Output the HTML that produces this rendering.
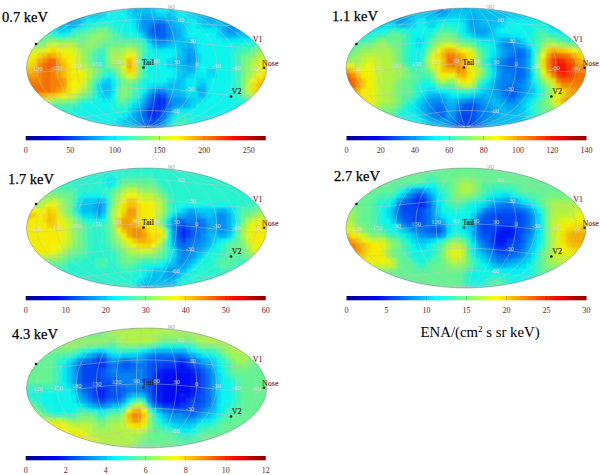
<!DOCTYPE html><html><head><meta charset="utf-8"><style>html,body{margin:0;padding:0;background:#fff;width:600px;height:475px;overflow:hidden}svg{position:absolute;left:0;top:0;display:block}text{font-family:"Liberation Serif",serif}</style></head><body>
<svg width="600" height="475" viewBox="0 0 600 475">
<defs>
<clipPath id="c0"><ellipse cx="146.5" cy="68" rx="120.0" ry="60.0"/></clipPath>
<clipPath id="c1"><ellipse cx="466" cy="68" rx="120.0" ry="60.0"/></clipPath>
<clipPath id="c2"><ellipse cx="146.5" cy="228" rx="120.0" ry="60.0"/></clipPath>
<clipPath id="c3"><ellipse cx="466" cy="228" rx="120.0" ry="60.0"/></clipPath>
<clipPath id="c4"><ellipse cx="146.5" cy="388" rx="120.0" ry="60.0"/></clipPath>
<filter id="bl" x="-5%" y="-5%" width="110%" height="110%"><feGaussianBlur stdDeviation="0.8"/></filter>
<linearGradient id="jet" x1="0" x2="1" y1="0" y2="0">
<stop offset="0.0000" stop-color="#000080"/>
<stop offset="0.0156" stop-color="#00008f"/>
<stop offset="0.0312" stop-color="#00009f"/>
<stop offset="0.0469" stop-color="#0000af"/>
<stop offset="0.0625" stop-color="#0000bf"/>
<stop offset="0.0781" stop-color="#0000cf"/>
<stop offset="0.0938" stop-color="#0000df"/>
<stop offset="0.1094" stop-color="#0000ef"/>
<stop offset="0.1250" stop-color="#0000ff"/>
<stop offset="0.1406" stop-color="#0010ff"/>
<stop offset="0.1562" stop-color="#0020ff"/>
<stop offset="0.1719" stop-color="#0030ff"/>
<stop offset="0.1875" stop-color="#0040ff"/>
<stop offset="0.2031" stop-color="#0050ff"/>
<stop offset="0.2188" stop-color="#0060ff"/>
<stop offset="0.2344" stop-color="#0070ff"/>
<stop offset="0.2500" stop-color="#0080ff"/>
<stop offset="0.2656" stop-color="#008fff"/>
<stop offset="0.2812" stop-color="#009fff"/>
<stop offset="0.2969" stop-color="#00afff"/>
<stop offset="0.3125" stop-color="#00bfff"/>
<stop offset="0.3281" stop-color="#00cfff"/>
<stop offset="0.3438" stop-color="#00dfff"/>
<stop offset="0.3594" stop-color="#00efff"/>
<stop offset="0.3750" stop-color="#00ffff"/>
<stop offset="0.3906" stop-color="#10ffef"/>
<stop offset="0.4062" stop-color="#20ffdf"/>
<stop offset="0.4219" stop-color="#30ffcf"/>
<stop offset="0.4375" stop-color="#40ffbf"/>
<stop offset="0.4531" stop-color="#50ffaf"/>
<stop offset="0.4688" stop-color="#60ff9f"/>
<stop offset="0.4844" stop-color="#70ff8f"/>
<stop offset="0.5000" stop-color="#80ff80"/>
<stop offset="0.5156" stop-color="#8fff70"/>
<stop offset="0.5312" stop-color="#9fff60"/>
<stop offset="0.5469" stop-color="#afff50"/>
<stop offset="0.5625" stop-color="#bfff40"/>
<stop offset="0.5781" stop-color="#cfff30"/>
<stop offset="0.5938" stop-color="#dfff20"/>
<stop offset="0.6094" stop-color="#efff10"/>
<stop offset="0.6250" stop-color="#ffff00"/>
<stop offset="0.6406" stop-color="#ffef00"/>
<stop offset="0.6562" stop-color="#ffdf00"/>
<stop offset="0.6719" stop-color="#ffcf00"/>
<stop offset="0.6875" stop-color="#ffbf00"/>
<stop offset="0.7031" stop-color="#ffaf00"/>
<stop offset="0.7188" stop-color="#ff9f00"/>
<stop offset="0.7344" stop-color="#ff8f00"/>
<stop offset="0.7500" stop-color="#ff8000"/>
<stop offset="0.7656" stop-color="#ff7000"/>
<stop offset="0.7812" stop-color="#ff6000"/>
<stop offset="0.7969" stop-color="#ff5000"/>
<stop offset="0.8125" stop-color="#ff4000"/>
<stop offset="0.8281" stop-color="#ff3000"/>
<stop offset="0.8438" stop-color="#ff2000"/>
<stop offset="0.8594" stop-color="#ff1000"/>
<stop offset="0.8750" stop-color="#ff0000"/>
<stop offset="0.8906" stop-color="#ef0000"/>
<stop offset="0.9062" stop-color="#df0000"/>
<stop offset="0.9219" stop-color="#cf0000"/>
<stop offset="0.9375" stop-color="#bf0000"/>
<stop offset="0.9531" stop-color="#af0000"/>
<stop offset="0.9688" stop-color="#9f0000"/>
<stop offset="0.9844" stop-color="#8f0000"/>
<stop offset="1.0000" stop-color="#800000"/>
</linearGradient>
</defs>
<g clip-path="url(#c0)"><g filter="url(#bl)">
<path fill="#00bff4" d="M23.50 5.00h78.25v8.25h-78.25zM131.50 5.00h20.25v8.25h-20.25zM191.50 5.00h10.25v8.25h-10.25zM221.50 5.00h48.25v8.25h-48.25zM23.50 13.00h43.25v5.25h-43.25zM76.50 13.00h10.25v5.25h-10.25zM136.50 13.00h5.25v5.25h-5.25zM151.50 13.00h5.25v5.25h-5.25zM166.50 13.00h5.25v5.25h-5.25zM196.50 13.00h5.25v5.25h-5.25zM221.50 13.00h5.25v5.25h-5.25zM236.50 13.00h33.25v5.25h-33.25zM23.50 18.00h38.25v5.25h-38.25zM171.50 18.00h5.25v5.25h-5.25zM201.50 18.00h5.25v5.25h-5.25zM216.50 18.00h5.25v5.25h-5.25zM241.50 18.00h28.25v5.25h-28.25zM56.50 23.00h10.25v5.25h-10.25zM176.50 23.00h5.25v5.25h-5.25zM216.50 23.00h5.25v5.25h-5.25zM241.50 23.00h28.25v5.25h-28.25zM136.50 28.00h5.25v5.25h-5.25zM241.50 28.00h28.25v5.25h-28.25zM141.50 33.00h5.25v5.25h-5.25zM221.50 33.00h5.25v5.25h-5.25zM236.50 33.00h5.25v5.25h-5.25zM146.50 38.00h5.25v5.25h-5.25zM176.50 38.00h10.25v5.25h-10.25zM151.50 43.00h5.25v5.25h-5.25zM166.50 43.00h5.25v5.25h-5.25zM176.50 43.00h10.25v5.25h-10.25zM191.50 43.00h5.25v5.25h-5.25zM176.50 58.00h5.25v5.25h-5.25zM176.50 63.00h5.25v5.25h-5.25zM181.50 68.00h5.25v5.25h-5.25zM191.50 68.00h5.25v5.25h-5.25zM181.50 73.00h5.25v5.25h-5.25zM176.50 78.00h5.25v5.25h-5.25zM101.50 83.00h10.25v5.25h-10.25zM166.50 83.00h15.25v5.25h-15.25zM196.50 83.00h10.25v5.25h-10.25zM101.50 88.00h10.25v5.25h-10.25zM146.50 88.00h5.25v5.25h-5.25zM171.50 88.00h10.25v5.25h-10.25zM181.50 93.00h5.25v5.25h-5.25zM196.50 93.00h10.25v5.25h-10.25zM186.50 98.00h5.25v5.25h-5.25zM136.50 103.00h5.25v5.25h-5.25zM186.50 103.00h5.25v5.25h-5.25zM131.50 108.00h5.25v5.25h-5.25zM171.50 108.00h5.25v5.25h-5.25zM126.50 118.00h5.25v5.25h-5.25zM121.50 123.00h10.25v8.25h-10.25z"/>
<path fill="#00cef4" d="M101.50 5.00h5.25v8.25h-5.25zM126.50 5.00h5.25v8.25h-5.25zM151.50 5.00h5.25v8.25h-5.25zM166.50 5.00h10.25v8.25h-10.25zM186.50 5.00h5.25v8.25h-5.25zM86.50 13.00h15.25v5.25h-15.25zM131.50 13.00h5.25v5.25h-5.25zM156.50 13.00h10.25v5.25h-10.25zM171.50 13.00h5.25v5.25h-5.25zM191.50 13.00h5.25v5.25h-5.25zM81.50 18.00h5.25v5.25h-5.25zM176.50 18.00h5.25v5.25h-5.25zM196.50 18.00h5.25v5.25h-5.25zM46.50 23.00h10.25v5.25h-10.25zM76.50 23.00h5.25v5.25h-5.25zM181.50 23.00h5.25v5.25h-5.25zM201.50 23.00h15.25v5.25h-15.25zM56.50 28.00h10.25v5.25h-10.25zM181.50 28.00h5.25v5.25h-5.25zM216.50 28.00h5.25v5.25h-5.25zM181.50 33.00h5.25v5.25h-5.25zM241.50 33.00h15.25v5.25h-15.25zM186.50 38.00h5.25v5.25h-5.25zM171.50 43.00h5.25v5.25h-5.25zM176.50 48.00h5.25v5.25h-5.25zM176.50 53.00h5.25v5.25h-5.25zM171.50 58.00h5.25v5.25h-5.25zM171.50 63.00h5.25v5.25h-5.25zM176.50 68.00h5.25v5.25h-5.25zM176.50 73.00h5.25v5.25h-5.25zM186.50 73.00h5.25v5.25h-5.25zM106.50 78.00h5.25v5.25h-5.25zM171.50 78.00h5.25v5.25h-5.25zM181.50 78.00h5.25v5.25h-5.25zM161.50 83.00h5.25v5.25h-5.25zM181.50 83.00h5.25v5.25h-5.25zM181.50 88.00h5.25v5.25h-5.25zM101.50 93.00h10.25v5.25h-10.25zM141.50 93.00h5.25v5.25h-5.25zM191.50 98.00h5.25v5.25h-5.25zM126.50 113.00h5.25v5.25h-5.25zM121.50 118.00h5.25v5.25h-5.25zM166.50 118.00h5.25v5.25h-5.25zM116.50 123.00h5.25v8.25h-5.25z"/>
<path fill="#00edf4" d="M106.50 5.00h5.25v8.25h-5.25zM121.50 5.00h5.25v8.25h-5.25zM156.50 5.00h10.25v8.25h-10.25zM176.50 5.00h10.25v8.25h-10.25zM176.50 13.00h10.25v5.25h-10.25zM86.50 18.00h15.25v5.25h-15.25zM186.50 18.00h10.25v5.25h-10.25zM81.50 23.00h5.25v5.25h-5.25zM131.50 23.00h5.25v5.25h-5.25zM186.50 23.00h5.25v5.25h-5.25zM51.50 28.00h5.25v5.25h-5.25zM131.50 28.00h5.25v5.25h-5.25zM186.50 28.00h5.25v5.25h-5.25zM201.50 28.00h15.25v5.25h-15.25zM136.50 33.00h5.25v5.25h-5.25zM186.50 33.00h5.25v5.25h-5.25zM221.50 38.00h30.25v5.25h-30.25zM146.50 43.00h5.25v5.25h-5.25zM196.50 43.00h5.25v5.25h-5.25zM151.50 48.00h25.25v5.25h-25.25zM196.50 48.00h5.25v5.25h-5.25zM171.50 53.00h5.25v5.25h-5.25zM196.50 63.00h5.25v5.25h-5.25zM171.50 68.00h5.25v5.25h-5.25zM196.50 68.00h5.25v5.25h-5.25zM171.50 73.00h5.25v5.25h-5.25zM196.50 73.00h10.25v5.25h-10.25zM186.50 78.00h10.25v5.25h-10.25zM206.50 78.00h5.25v5.25h-5.25zM111.50 83.00h5.25v5.25h-5.25zM146.50 83.00h5.25v5.25h-5.25zM186.50 83.00h10.25v5.25h-10.25zM206.50 83.00h5.25v5.25h-5.25zM111.50 88.00h5.25v5.25h-5.25zM141.50 88.00h5.25v5.25h-5.25zM186.50 88.00h10.25v5.25h-10.25zM206.50 88.00h5.25v5.25h-5.25zM96.50 93.00h5.25v5.25h-5.25zM206.50 93.00h5.25v5.25h-5.25zM101.50 98.00h10.25v5.25h-10.25zM201.50 98.00h5.25v5.25h-5.25zM181.50 108.00h10.25v5.25h-10.25zM121.50 113.00h5.25v5.25h-5.25zM111.50 123.00h5.25v8.25h-5.25z"/>
<path fill="#07f4ed" d="M111.50 5.00h10.25v8.25h-10.25zM106.50 13.00h20.25v5.25h-20.25zM101.50 18.00h30.25v5.25h-30.25zM121.50 23.00h10.25v5.25h-10.25zM191.50 23.00h5.25v5.25h-5.25zM46.50 28.00h5.25v5.25h-5.25zM71.50 28.00h5.25v5.25h-5.25zM121.50 28.00h10.25v5.25h-10.25zM191.50 28.00h10.25v5.25h-10.25zM191.50 33.00h25.25v5.25h-25.25zM196.50 38.00h25.25v5.25h-25.25zM251.50 38.00h5.25v5.25h-5.25zM201.50 43.00h30.25v5.25h-30.25zM201.50 48.00h30.25v5.25h-30.25zM151.50 53.00h20.25v5.25h-20.25zM201.50 53.00h30.25v5.25h-30.25zM151.50 58.00h15.25v5.25h-15.25zM201.50 58.00h30.25v5.25h-30.25zM151.50 63.00h15.25v5.25h-15.25zM201.50 63.00h30.25v5.25h-30.25zM151.50 68.00h20.25v5.25h-20.25zM201.50 68.00h5.25v5.25h-5.25zM216.50 68.00h15.25v5.25h-15.25zM106.50 73.00h5.25v5.25h-5.25zM151.50 73.00h20.25v5.25h-20.25zM216.50 73.00h15.25v5.25h-15.25zM111.50 78.00h5.25v5.25h-5.25zM151.50 78.00h15.25v5.25h-15.25zM211.50 78.00h20.25v5.25h-20.25zM141.50 83.00h5.25v5.25h-5.25zM211.50 83.00h20.25v5.25h-20.25zM211.50 88.00h20.25v5.25h-20.25zM111.50 93.00h5.25v5.25h-5.25zM211.50 93.00h20.25v5.25h-20.25zM96.50 98.00h5.25v5.25h-5.25zM206.50 98.00h25.25v5.25h-25.25zM81.50 103.00h30.25v5.25h-30.25zM196.50 103.00h73.25v5.25h-73.25zM81.50 108.00h30.25v5.25h-30.25zM191.50 108.00h78.25v5.25h-78.25zM23.50 113.00h98.25v5.25h-98.25zM191.50 113.00h78.25v5.25h-78.25zM23.50 118.00h93.25v5.25h-93.25zM191.50 118.00h78.25v5.25h-78.25zM23.50 123.00h88.25v8.25h-88.25zM191.50 123.00h78.25v8.25h-78.25z"/>
<path fill="#00aff4" d="M201.50 5.00h5.25v8.25h-5.25zM216.50 5.00h5.25v8.25h-5.25zM66.50 13.00h10.25v5.25h-10.25zM141.50 13.00h10.25v5.25h-10.25zM201.50 13.00h5.25v5.25h-5.25zM216.50 13.00h5.25v5.25h-5.25zM226.50 13.00h10.25v5.25h-10.25zM61.50 18.00h5.25v5.25h-5.25zM76.50 18.00h5.25v5.25h-5.25zM136.50 18.00h5.25v5.25h-5.25zM166.50 18.00h5.25v5.25h-5.25zM206.50 18.00h10.25v5.25h-10.25zM221.50 18.00h5.25v5.25h-5.25zM236.50 18.00h5.25v5.25h-5.25zM66.50 23.00h10.25v5.25h-10.25zM136.50 23.00h5.25v5.25h-5.25zM171.50 23.00h5.25v5.25h-5.25zM221.50 23.00h5.25v5.25h-5.25zM236.50 23.00h5.25v5.25h-5.25zM176.50 28.00h5.25v5.25h-5.25zM221.50 28.00h5.25v5.25h-5.25zM236.50 28.00h5.25v5.25h-5.25zM176.50 33.00h5.25v5.25h-5.25zM226.50 33.00h10.25v5.25h-10.25zM171.50 38.00h5.25v5.25h-5.25zM156.50 43.00h10.25v5.25h-10.25zM186.50 43.00h5.25v5.25h-5.25zM181.50 48.00h5.25v5.25h-5.25zM191.50 48.00h5.25v5.25h-5.25zM181.50 53.00h5.25v5.25h-5.25zM181.50 58.00h5.25v5.25h-5.25zM181.50 63.00h5.25v5.25h-5.25zM191.50 63.00h5.25v5.25h-5.25zM186.50 68.00h5.25v5.25h-5.25zM166.50 88.00h5.25v5.25h-5.25zM196.50 88.00h10.25v5.25h-10.25zM171.50 93.00h10.25v5.25h-10.25zM141.50 98.00h5.25v5.25h-5.25zM181.50 103.00h5.25v5.25h-5.25zM131.50 113.00h5.25v5.25h-5.25zM166.50 113.00h5.25v5.25h-5.25zM131.50 118.00h5.25v5.25h-5.25zM131.50 123.00h5.25v8.25h-5.25z"/>
<path fill="#0091f4" d="M206.50 5.00h10.25v8.25h-10.25zM141.50 18.00h15.25v5.25h-15.25zM161.50 18.00h5.25v5.25h-5.25zM141.50 23.00h5.25v5.25h-5.25zM166.50 23.00h5.25v5.25h-5.25zM226.50 23.00h10.25v5.25h-10.25zM226.50 28.00h10.25v5.25h-10.25zM151.50 38.00h5.25v5.25h-5.25zM186.50 53.00h5.25v5.25h-5.25zM186.50 58.00h5.25v5.25h-5.25zM161.50 88.00h5.25v5.25h-5.25zM146.50 93.00h5.25v5.25h-5.25zM166.50 93.00h5.25v5.25h-5.25zM171.50 98.00h10.25v5.25h-10.25zM141.50 103.00h5.25v5.25h-5.25zM171.50 103.00h5.25v5.25h-5.25zM166.50 108.00h5.25v5.25h-5.25zM136.50 113.00h5.25v5.25h-5.25zM136.50 118.00h5.25v5.25h-5.25zM161.50 118.00h5.25v5.25h-5.25zM136.50 123.00h5.25v8.25h-5.25z"/>
<path fill="#00ddf4" d="M101.50 13.00h5.25v5.25h-5.25zM126.50 13.00h5.25v5.25h-5.25zM186.50 13.00h5.25v5.25h-5.25zM131.50 18.00h5.25v5.25h-5.25zM181.50 18.00h5.25v5.25h-5.25zM23.50 23.00h23.25v5.25h-23.25zM196.50 23.00h5.25v5.25h-5.25zM66.50 28.00h5.25v5.25h-5.25zM216.50 33.00h5.25v5.25h-5.25zM256.50 33.00h13.25v5.25h-13.25zM191.50 38.00h5.25v5.25h-5.25zM196.50 53.00h5.25v5.25h-5.25zM166.50 58.00h5.25v5.25h-5.25zM196.50 58.00h5.25v5.25h-5.25zM166.50 63.00h5.25v5.25h-5.25zM206.50 68.00h10.25v5.25h-10.25zM191.50 73.00h5.25v5.25h-5.25zM206.50 73.00h10.25v5.25h-10.25zM101.50 78.00h5.25v5.25h-5.25zM166.50 78.00h5.25v5.25h-5.25zM196.50 78.00h10.25v5.25h-10.25zM96.50 83.00h5.25v5.25h-5.25zM151.50 83.00h10.25v5.25h-10.25zM96.50 88.00h5.25v5.25h-5.25zM186.50 93.00h10.25v5.25h-10.25zM136.50 98.00h5.25v5.25h-5.25zM196.50 98.00h5.25v5.25h-5.25zM131.50 103.00h5.25v5.25h-5.25zM191.50 103.00h5.25v5.25h-5.25zM126.50 108.00h5.25v5.25h-5.25zM176.50 108.00h5.25v5.25h-5.25zM171.50 113.00h5.25v5.25h-5.25zM116.50 118.00h5.25v5.25h-5.25zM166.50 123.00h5.25v8.25h-5.25z"/>
<path fill="#00a0f4" d="M206.50 13.00h10.25v5.25h-10.25zM66.50 18.00h10.25v5.25h-10.25zM226.50 18.00h10.25v5.25h-10.25zM141.50 28.00h5.25v5.25h-5.25zM171.50 28.00h5.25v5.25h-5.25zM171.50 33.00h5.25v5.25h-5.25zM166.50 38.00h5.25v5.25h-5.25zM186.50 48.00h5.25v5.25h-5.25zM191.50 53.00h5.25v5.25h-5.25zM191.50 58.00h5.25v5.25h-5.25zM186.50 63.00h5.25v5.25h-5.25zM151.50 88.00h5.25v5.25h-5.25zM181.50 98.00h5.25v5.25h-5.25zM176.50 103.00h5.25v5.25h-5.25zM136.50 108.00h5.25v5.25h-5.25zM161.50 123.00h5.25v8.25h-5.25z"/>
<path fill="#0082f4" d="M156.50 18.00h5.25v5.25h-5.25zM146.50 23.00h5.25v5.25h-5.25zM166.50 28.00h5.25v5.25h-5.25zM146.50 33.00h5.25v5.25h-5.25zM166.50 33.00h5.25v5.25h-5.25zM156.50 38.00h10.25v5.25h-10.25zM156.50 88.00h5.25v5.25h-5.25z"/>
<path fill="#16f4dd" d="M86.50 23.00h5.25v5.25h-5.25zM111.50 23.00h10.25v5.25h-10.25zM116.50 28.00h5.25v5.25h-5.25zM56.50 33.00h10.25v5.25h-10.25zM131.50 33.00h5.25v5.25h-5.25zM141.50 38.00h5.25v5.25h-5.25zM231.50 43.00h10.25v5.25h-10.25zM146.50 48.00h5.25v5.25h-5.25zM231.50 48.00h5.25v5.25h-5.25zM146.50 53.00h5.25v5.25h-5.25zM141.50 58.00h10.25v5.25h-10.25zM141.50 63.00h10.25v5.25h-10.25zM146.50 68.00h5.25v5.25h-5.25zM146.50 73.00h5.25v5.25h-5.25zM96.50 78.00h5.25v5.25h-5.25zM141.50 78.00h10.25v5.25h-10.25zM136.50 93.00h5.25v5.25h-5.25zM231.50 93.00h5.25v5.25h-5.25zM91.50 98.00h5.25v5.25h-5.25zM111.50 98.00h5.25v5.25h-5.25zM131.50 98.00h5.25v5.25h-5.25zM231.50 98.00h10.25v5.25h-10.25zM76.50 103.00h5.25v5.25h-5.25zM111.50 103.00h5.25v5.25h-5.25zM126.50 103.00h5.25v5.25h-5.25zM71.50 108.00h10.25v5.25h-10.25zM111.50 108.00h15.25v5.25h-15.25zM176.50 113.00h15.25v5.25h-15.25zM171.50 118.00h5.25v5.25h-5.25zM186.50 118.00h5.25v5.25h-5.25z"/>
<path fill="#26f4ce" d="M91.50 23.00h5.25v5.25h-5.25zM106.50 23.00h5.25v5.25h-5.25zM41.50 28.00h5.25v5.25h-5.25zM76.50 28.00h5.25v5.25h-5.25zM51.50 33.00h5.25v5.25h-5.25zM66.50 33.00h5.25v5.25h-5.25zM121.50 33.00h10.25v5.25h-10.25zM256.50 38.00h5.25v5.25h-5.25zM241.50 43.00h10.25v5.25h-10.25zM96.50 53.00h5.25v5.25h-5.25zM231.50 53.00h5.25v5.25h-5.25zM96.50 58.00h5.25v5.25h-5.25zM231.50 58.00h5.25v5.25h-5.25zM231.50 63.00h5.25v5.25h-5.25zM231.50 68.00h5.25v5.25h-5.25zM101.50 73.00h5.25v5.25h-5.25zM111.50 73.00h5.25v5.25h-5.25zM231.50 73.00h5.25v5.25h-5.25zM231.50 78.00h5.25v5.25h-5.25zM136.50 83.00h5.25v5.25h-5.25zM231.50 83.00h5.25v5.25h-5.25zM136.50 88.00h5.25v5.25h-5.25zM231.50 88.00h5.25v5.25h-5.25zM91.50 93.00h5.25v5.25h-5.25zM86.50 98.00h5.25v5.25h-5.25zM241.50 98.00h5.25v5.25h-5.25zM46.50 108.00h25.25v5.25h-25.25zM171.50 123.00h5.25v8.25h-5.25zM186.50 123.00h5.25v8.25h-5.25z"/>
<path fill="#35f4bf" d="M96.50 23.00h10.25v5.25h-10.25zM23.50 28.00h18.25v5.25h-18.25zM81.50 28.00h5.25v5.25h-5.25zM111.50 28.00h5.25v5.25h-5.25zM116.50 33.00h5.25v5.25h-5.25zM136.50 38.00h5.25v5.25h-5.25zM261.50 38.00h8.25v5.25h-8.25zM141.50 43.00h5.25v5.25h-5.25zM251.50 43.00h5.25v5.25h-5.25zM96.50 48.00h5.25v5.25h-5.25zM236.50 48.00h5.25v5.25h-5.25zM101.50 53.00h5.25v5.25h-5.25zM141.50 53.00h5.25v5.25h-5.25zM101.50 58.00h5.25v5.25h-5.25zM96.50 63.00h10.25v5.25h-10.25zM106.50 68.00h5.25v5.25h-5.25zM141.50 68.00h5.25v5.25h-5.25zM141.50 73.00h5.25v5.25h-5.25zM91.50 83.00h5.25v5.25h-5.25zM91.50 88.00h5.25v5.25h-5.25zM131.50 93.00h5.25v5.25h-5.25zM236.50 93.00h5.25v5.25h-5.25zM81.50 98.00h5.25v5.25h-5.25zM126.50 98.00h5.25v5.25h-5.25zM71.50 103.00h5.25v5.25h-5.25zM116.50 103.00h10.25v5.25h-10.25zM23.50 108.00h23.25v5.25h-23.25zM176.50 118.00h10.25v5.25h-10.25z"/>
<path fill="#0063f4" d="M151.50 23.00h5.25v5.25h-5.25zM161.50 23.00h5.25v5.25h-5.25zM161.50 28.00h5.25v5.25h-5.25zM151.50 33.00h15.25v5.25h-15.25zM151.50 93.00h5.25v5.25h-5.25zM141.50 113.00h5.25v5.25h-5.25zM156.50 118.00h5.25v5.25h-5.25z"/>
<path fill="#0054f4" d="M156.50 23.00h5.25v5.25h-5.25zM151.50 28.00h10.25v5.25h-10.25zM161.50 93.00h5.25v5.25h-5.25zM146.50 103.00h5.25v5.25h-5.25zM161.50 108.00h5.25v5.25h-5.25zM146.50 118.00h5.25v5.25h-5.25zM146.50 123.00h10.25v8.25h-10.25z"/>
<path fill="#44f4af" d="M86.50 28.00h5.25v5.25h-5.25zM46.50 33.00h5.25v5.25h-5.25zM71.50 33.00h5.25v5.25h-5.25zM121.50 38.00h15.25v5.25h-15.25zM101.50 48.00h5.25v5.25h-5.25zM141.50 48.00h5.25v5.25h-5.25zM241.50 48.00h10.25v5.25h-10.25zM91.50 53.00h5.25v5.25h-5.25zM236.50 53.00h5.25v5.25h-5.25zM91.50 58.00h5.25v5.25h-5.25zM236.50 58.00h5.25v5.25h-5.25zM236.50 63.00h5.25v5.25h-5.25zM101.50 68.00h5.25v5.25h-5.25zM236.50 68.00h5.25v5.25h-5.25zM236.50 73.00h5.25v5.25h-5.25zM116.50 78.00h5.25v5.25h-5.25zM136.50 78.00h5.25v5.25h-5.25zM236.50 78.00h5.25v5.25h-5.25zM116.50 83.00h5.25v5.25h-5.25zM131.50 83.00h5.25v5.25h-5.25zM236.50 83.00h5.25v5.25h-5.25zM131.50 88.00h5.25v5.25h-5.25zM236.50 88.00h5.25v5.25h-5.25zM76.50 98.00h5.25v5.25h-5.25zM246.50 98.00h10.25v5.25h-10.25zM51.50 103.00h20.25v5.25h-20.25zM176.50 123.00h10.25v8.25h-10.25z"/>
<path fill="#54f4a0" d="M91.50 28.00h5.25v5.25h-5.25zM106.50 28.00h5.25v5.25h-5.25zM41.50 33.00h5.25v5.25h-5.25zM76.50 33.00h5.25v5.25h-5.25zM111.50 33.00h5.25v5.25h-5.25zM111.50 38.00h10.25v5.25h-10.25zM101.50 43.00h5.25v5.25h-5.25zM111.50 68.00h5.25v5.25h-5.25zM96.50 73.00h5.25v5.25h-5.25zM91.50 78.00h5.25v5.25h-5.25zM86.50 93.00h5.25v5.25h-5.25zM116.50 98.00h5.25v5.25h-5.25zM256.50 98.00h13.25v5.25h-13.25zM46.50 103.00h5.25v5.25h-5.25z"/>
<path fill="#72f482" d="M96.50 28.00h10.25v5.25h-10.25zM86.50 33.00h5.25v5.25h-5.25zM106.50 33.00h5.25v5.25h-5.25zM56.50 38.00h10.25v5.25h-10.25zM81.50 38.00h5.25v5.25h-5.25zM101.50 38.00h5.25v5.25h-5.25zM111.50 43.00h15.25v5.25h-15.25zM131.50 43.00h5.25v5.25h-5.25zM261.50 43.00h8.25v5.25h-8.25zM136.50 48.00h5.25v5.25h-5.25zM86.50 53.00h5.25v5.25h-5.25zM246.50 53.00h5.25v5.25h-5.25zM86.50 58.00h5.25v5.25h-5.25zM136.50 58.00h5.25v5.25h-5.25zM241.50 58.00h5.25v5.25h-5.25zM106.50 63.00h5.25v5.25h-5.25zM136.50 63.00h5.25v5.25h-5.25zM241.50 63.00h5.25v5.25h-5.25zM241.50 68.00h5.25v5.25h-5.25zM116.50 73.00h5.25v5.25h-5.25zM136.50 73.00h5.25v5.25h-5.25zM241.50 73.00h5.25v5.25h-5.25zM121.50 78.00h5.25v5.25h-5.25zM131.50 78.00h5.25v5.25h-5.25zM121.50 83.00h5.25v5.25h-5.25zM86.50 88.00h5.25v5.25h-5.25zM126.50 88.00h5.25v5.25h-5.25zM81.50 93.00h5.25v5.25h-5.25zM71.50 98.00h5.25v5.25h-5.25zM41.50 103.00h5.25v5.25h-5.25z"/>
<path fill="#0072f4" d="M146.50 28.00h5.25v5.25h-5.25zM146.50 98.00h5.25v5.25h-5.25zM166.50 98.00h5.25v5.25h-5.25zM166.50 103.00h5.25v5.25h-5.25zM141.50 108.00h5.25v5.25h-5.25zM161.50 113.00h5.25v5.25h-5.25zM141.50 118.00h5.25v5.25h-5.25zM141.50 123.00h5.25v8.25h-5.25zM156.50 123.00h5.25v8.25h-5.25z"/>
<path fill="#63f491" d="M23.50 33.00h18.25v5.25h-18.25zM81.50 33.00h5.25v5.25h-5.25zM23.50 38.00h23.25v5.25h-23.25zM76.50 38.00h5.25v5.25h-5.25zM106.50 38.00h5.25v5.25h-5.25zM96.50 43.00h5.25v5.25h-5.25zM106.50 43.00h5.25v5.25h-5.25zM136.50 43.00h5.25v5.25h-5.25zM256.50 43.00h5.25v5.25h-5.25zM91.50 48.00h5.25v5.25h-5.25zM251.50 48.00h5.25v5.25h-5.25zM241.50 53.00h5.25v5.25h-5.25zM91.50 63.00h5.25v5.25h-5.25zM96.50 68.00h5.25v5.25h-5.25zM126.50 83.00h5.25v5.25h-5.25zM116.50 88.00h5.25v5.25h-5.25zM116.50 93.00h5.25v5.25h-5.25zM126.50 93.00h5.25v5.25h-5.25zM241.50 93.00h5.25v5.25h-5.25zM121.50 98.00h5.25v5.25h-5.25z"/>
<path fill="#82f472" d="M91.50 33.00h5.25v5.25h-5.25zM101.50 33.00h5.25v5.25h-5.25zM46.50 38.00h10.25v5.25h-10.25zM66.50 38.00h10.25v5.25h-10.25zM86.50 38.00h5.25v5.25h-5.25zM96.50 38.00h5.25v5.25h-5.25zM23.50 43.00h18.25v5.25h-18.25zM76.50 43.00h10.25v5.25h-10.25zM91.50 43.00h5.25v5.25h-5.25zM126.50 43.00h5.25v5.25h-5.25zM86.50 48.00h5.25v5.25h-5.25zM106.50 48.00h5.25v5.25h-5.25zM256.50 48.00h5.25v5.25h-5.25zM106.50 53.00h5.25v5.25h-5.25zM136.50 53.00h5.25v5.25h-5.25zM251.50 53.00h5.25v5.25h-5.25zM106.50 58.00h5.25v5.25h-5.25zM246.50 58.00h5.25v5.25h-5.25zM86.50 63.00h5.25v5.25h-5.25zM91.50 68.00h5.25v5.25h-5.25zM136.50 68.00h5.25v5.25h-5.25zM91.50 73.00h5.25v5.25h-5.25zM241.50 78.00h5.25v5.25h-5.25zM86.50 83.00h5.25v5.25h-5.25zM241.50 83.00h5.25v5.25h-5.25zM121.50 88.00h5.25v5.25h-5.25zM241.50 88.00h5.25v5.25h-5.25zM121.50 93.00h5.25v5.25h-5.25zM66.50 98.00h5.25v5.25h-5.25zM23.50 103.00h18.25v5.25h-18.25z"/>
<path fill="#91f463" d="M96.50 33.00h5.25v5.25h-5.25zM91.50 38.00h5.25v5.25h-5.25zM41.50 43.00h5.25v5.25h-5.25zM86.50 43.00h5.25v5.25h-5.25zM81.50 48.00h5.25v5.25h-5.25zM111.50 48.00h10.25v5.25h-10.25zM261.50 48.00h8.25v5.25h-8.25zM81.50 53.00h5.25v5.25h-5.25zM81.50 58.00h5.25v5.25h-5.25zM111.50 63.00h5.25v5.25h-5.25zM246.50 63.00h5.25v5.25h-5.25zM116.50 68.00h5.25v5.25h-5.25zM246.50 68.00h5.25v5.25h-5.25zM86.50 78.00h5.25v5.25h-5.25zM126.50 78.00h5.25v5.25h-5.25zM76.50 93.00h5.25v5.25h-5.25zM56.50 98.00h10.25v5.25h-10.25z"/>
<path fill="#bff435" d="M46.50 43.00h5.25v5.25h-5.25zM56.50 43.00h15.25v5.25h-15.25zM126.50 48.00h5.25v5.25h-5.25zM76.50 53.00h5.25v5.25h-5.25zM121.50 53.00h5.25v5.25h-5.25zM261.50 53.00h8.25v5.25h-8.25zM76.50 58.00h5.25v5.25h-5.25zM251.50 63.00h5.25v5.25h-5.25zM251.50 68.00h5.25v5.25h-5.25zM246.50 78.00h5.25v5.25h-5.25zM81.50 83.00h5.25v5.25h-5.25zM71.50 93.00h5.25v5.25h-5.25z"/>
<path fill="#cef426" d="M51.50 43.00h5.25v5.25h-5.25zM23.50 48.00h18.25v5.25h-18.25zM71.50 48.00h5.25v5.25h-5.25zM121.50 58.00h5.25v5.25h-5.25zM256.50 58.00h5.25v5.25h-5.25zM76.50 63.00h5.25v5.25h-5.25zM81.50 68.00h5.25v5.25h-5.25zM121.50 68.00h5.25v5.25h-5.25zM131.50 73.00h5.25v5.25h-5.25zM251.50 73.00h5.25v5.25h-5.25zM81.50 78.00h5.25v5.25h-5.25zM246.50 83.00h5.25v5.25h-5.25zM76.50 88.00h5.25v5.25h-5.25zM246.50 88.00h5.25v5.25h-5.25zM251.50 93.00h5.25v5.25h-5.25zM41.50 98.00h5.25v5.25h-5.25z"/>
<path fill="#aff444" d="M71.50 43.00h5.25v5.25h-5.25zM76.50 48.00h5.25v5.25h-5.25zM131.50 48.00h5.25v5.25h-5.25zM111.50 53.00h10.25v5.25h-10.25zM256.50 53.00h5.25v5.25h-5.25zM111.50 58.00h10.25v5.25h-10.25zM251.50 58.00h5.25v5.25h-5.25zM81.50 63.00h5.25v5.25h-5.25zM86.50 68.00h5.25v5.25h-5.25zM86.50 73.00h5.25v5.25h-5.25zM121.50 73.00h5.25v5.25h-5.25zM46.50 98.00h5.25v5.25h-5.25z"/>
<path fill="#ddf416" d="M41.50 48.00h5.25v5.25h-5.25zM61.50 48.00h10.25v5.25h-10.25zM71.50 53.00h5.25v5.25h-5.25zM131.50 53.00h5.25v5.25h-5.25zM71.50 58.00h5.25v5.25h-5.25zM261.50 58.00h8.25v5.25h-8.25zM121.50 63.00h5.25v5.25h-5.25zM256.50 63.00h5.25v5.25h-5.25zM256.50 68.00h5.25v5.25h-5.25zM81.50 73.00h5.25v5.25h-5.25zM126.50 73.00h5.25v5.25h-5.25zM66.50 93.00h5.25v5.25h-5.25zM256.50 93.00h5.25v5.25h-5.25zM23.50 98.00h18.25v5.25h-18.25z"/>
<path fill="#f4ed00" d="M46.50 48.00h5.25v5.25h-5.25zM23.50 53.00h13.25v5.25h-13.25zM61.50 53.00h10.25v5.25h-10.25zM126.50 53.00h5.25v5.25h-5.25zM23.50 58.00h8.25v5.25h-8.25zM66.50 58.00h5.25v5.25h-5.25zM261.50 63.00h8.25v5.25h-8.25zM261.50 68.00h8.25v5.25h-8.25zM71.50 73.00h10.25v5.25h-10.25zM71.50 78.00h10.25v5.25h-10.25z"/>
<path fill="#f4dd00" d="M51.50 48.00h5.25v5.25h-5.25zM36.50 53.00h5.25v5.25h-5.25zM31.50 58.00h5.25v5.25h-5.25zM131.50 58.00h5.25v5.25h-5.25zM23.50 63.00h8.25v5.25h-8.25zM66.50 63.00h5.25v5.25h-5.25zM131.50 63.00h5.25v5.25h-5.25zM66.50 68.00h5.25v5.25h-5.25zM131.50 68.00h5.25v5.25h-5.25zM66.50 73.00h5.25v5.25h-5.25zM261.50 73.00h8.25v5.25h-8.25zM66.50 78.00h5.25v5.25h-5.25zM66.50 83.00h5.25v5.25h-5.25zM251.50 83.00h5.25v5.25h-5.25zM66.50 88.00h5.25v5.25h-5.25zM251.50 88.00h5.25v5.25h-5.25zM56.50 93.00h5.25v5.25h-5.25z"/>
<path fill="#edf407" d="M56.50 48.00h5.25v5.25h-5.25zM71.50 63.00h5.25v5.25h-5.25zM71.50 68.00h10.25v5.25h-10.25zM256.50 73.00h5.25v5.25h-5.25zM251.50 78.00h5.25v5.25h-5.25zM71.50 83.00h10.25v5.25h-10.25zM71.50 88.00h5.25v5.25h-5.25zM61.50 93.00h5.25v5.25h-5.25zM261.50 93.00h8.25v5.25h-8.25z"/>
<path fill="#a0f454" d="M121.50 48.00h5.25v5.25h-5.25zM116.50 63.00h5.25v5.25h-5.25zM246.50 73.00h5.25v5.25h-5.25zM81.50 88.00h5.25v5.25h-5.25zM246.50 93.00h5.25v5.25h-5.25zM51.50 98.00h5.25v5.25h-5.25z"/>
<path fill="#f4bf00" d="M41.50 53.00h5.25v5.25h-5.25zM126.50 58.00h5.25v5.25h-5.25zM61.50 63.00h5.25v5.25h-5.25zM23.50 68.00h8.25v5.25h-8.25zM61.50 68.00h5.25v5.25h-5.25zM61.50 73.00h5.25v5.25h-5.25zM261.50 78.00h8.25v5.25h-8.25zM256.50 83.00h5.25v5.25h-5.25zM61.50 88.00h5.25v5.25h-5.25zM256.50 88.00h5.25v5.25h-5.25zM46.50 93.00h5.25v5.25h-5.25z"/>
<path fill="#f4a000" d="M46.50 53.00h5.25v5.25h-5.25zM56.50 63.00h5.25v5.25h-5.25zM56.50 68.00h5.25v5.25h-5.25zM23.50 73.00h13.25v5.25h-13.25zM56.50 73.00h5.25v5.25h-5.25zM61.50 78.00h5.25v5.25h-5.25zM61.50 83.00h5.25v5.25h-5.25zM56.50 88.00h5.25v5.25h-5.25z"/>
<path fill="#f4af00" d="M51.50 53.00h5.25v5.25h-5.25zM36.50 58.00h5.25v5.25h-5.25zM56.50 58.00h5.25v5.25h-5.25zM126.50 63.00h5.25v5.25h-5.25zM31.50 68.00h5.25v5.25h-5.25zM261.50 83.00h8.25v5.25h-8.25zM261.50 88.00h8.25v5.25h-8.25zM23.50 93.00h23.25v5.25h-23.25z"/>
<path fill="#f4ce00" d="M56.50 53.00h5.25v5.25h-5.25zM61.50 58.00h5.25v5.25h-5.25zM31.50 63.00h5.25v5.25h-5.25zM126.50 68.00h5.25v5.25h-5.25zM256.50 78.00h5.25v5.25h-5.25zM51.50 93.00h5.25v5.25h-5.25z"/>
<path fill="#f49100" d="M41.50 58.00h5.25v5.25h-5.25zM36.50 63.00h5.25v5.25h-5.25zM36.50 68.00h5.25v5.25h-5.25z"/>
<path fill="#f47200" d="M46.50 58.00h10.25v5.25h-10.25zM41.50 63.00h5.25v5.25h-5.25zM41.50 68.00h10.25v5.25h-10.25zM41.50 73.00h10.25v5.25h-10.25zM41.50 78.00h10.25v5.25h-10.25zM23.50 83.00h28.25v5.25h-28.25zM23.50 88.00h28.25v5.25h-28.25z"/>
<path fill="#f45400" d="M46.50 63.00h5.25v5.25h-5.25z"/>
<path fill="#f46300" d="M51.50 63.00h5.25v5.25h-5.25z"/>
<path fill="#f48200" d="M51.50 68.00h5.25v5.25h-5.25zM36.50 73.00h5.25v5.25h-5.25zM51.50 73.00h5.25v5.25h-5.25zM23.50 78.00h18.25v5.25h-18.25zM51.50 78.00h10.25v5.25h-10.25zM51.50 83.00h10.25v5.25h-10.25zM51.50 88.00h5.25v5.25h-5.25z"/>
<path fill="#0044f4" d="M156.50 93.00h5.25v5.25h-5.25zM151.50 98.00h5.25v5.25h-5.25zM156.50 113.00h5.25v5.25h-5.25zM151.50 118.00h5.25v5.25h-5.25z"/>
<path fill="#0026f4" d="M156.50 98.00h5.25v5.25h-5.25zM156.50 103.00h5.25v5.25h-5.25zM151.50 108.00h5.25v5.25h-5.25zM151.50 113.00h5.25v5.25h-5.25z"/>
<path fill="#0035f4" d="M161.50 98.00h5.25v5.25h-5.25zM151.50 103.00h5.25v5.25h-5.25zM161.50 103.00h5.25v5.25h-5.25zM146.50 108.00h5.25v5.25h-5.25zM156.50 108.00h5.25v5.25h-5.25zM146.50 113.00h5.25v5.25h-5.25z"/>
</g>
<path d="M147.3,126.6 L153.5,125.6 L159.4,123.7 L164.5,121.3 L168.9,118.7 L172.8,115.8 L176.3,112.7 L179.5,109.4 L182.3,106.0 L184.9,102.4 L187.2,98.8 L189.2,95.0 L191.0,91.1 L192.5,87.2 L193.8,83.2 L194.8,79.2 L195.6,75.1 L196.2,71.0 L196.5,66.9 L196.6,62.8 L196.5,58.8 L196.1,54.7 L195.5,50.7 L194.7,46.7 L193.6,42.8 L192.3,39.0 L190.8,35.3 L189.0,31.7 L186.9,28.2 L184.6,24.9 L182.0,21.7 L179.1,18.7 L175.9,15.9 L172.5,13.4 L169.0,11.3 L166.5,9.7 L170.2,9.3" stroke="#c4c4c4" stroke-opacity="0.75" stroke-width="0.6" fill="none"/>
<path d="M147.0,126.6 L151.2,125.1 L154.7,122.9 L157.7,120.3 L160.4,117.5 L162.7,114.5 L164.7,111.3 L166.6,108.0 L168.3,104.5 L169.8,100.9 L171.1,97.1 L172.3,93.3 L173.4,89.4 L174.2,85.5 L175.0,81.4 L175.6,77.4 L176.0,73.3 L176.4,69.2 L176.5,65.1 L176.6,61.0 L176.5,56.9 L176.2,52.9 L175.8,48.9 L175.3,44.9 L174.6,41.1 L173.8,37.3 L172.9,33.6 L171.7,30.0 L170.5,26.6 L169.0,23.3 L167.4,20.2 L165.6,17.3 L163.7,14.6 L161.6,12.2 L159.6,10.2 L159.5,8.9 L169.6,9.2" stroke="#c4c4c4" stroke-opacity="0.75" stroke-width="0.6" fill="none"/>
<path d="M146.7,126.5 L148.1,124.8 L149.3,122.4 L150.3,119.8 L151.2,116.9 L152.0,113.8 L152.6,110.6 L153.3,107.2 L153.8,103.6 L154.3,100.0 L154.8,96.2 L155.1,92.4 L155.5,88.4 L155.8,84.5 L156.0,80.4 L156.2,76.3 L156.4,72.2 L156.5,68.1 L156.5,64.0 L156.5,59.9 L156.5,55.9 L156.4,51.8 L156.3,47.8 L156.1,43.9 L155.8,40.0 L155.6,36.3 L155.2,32.6 L154.9,29.1 L154.4,25.6 L153.9,22.4 L153.4,19.3 L152.8,16.4 L152.1,13.7 L151.4,11.4 L150.7,9.4 L152.0,8.2 L169.5,9.1" stroke="#c4c4c4" stroke-opacity="0.75" stroke-width="0.6" fill="none"/>
<path d="M146.3,126.5 L144.9,124.8 L143.7,122.4 L142.7,119.8 L141.8,116.9 L141.0,113.8 L140.4,110.6 L139.7,107.2 L139.2,103.6 L138.7,100.0 L138.2,96.2 L137.9,92.4 L137.5,88.4 L137.2,84.5 L137.0,80.4 L136.8,76.3 L136.6,72.2 L136.5,68.1 L136.5,64.0 L136.5,59.9 L136.5,55.9 L136.6,51.8 L136.7,47.8 L136.9,43.9 L137.2,40.0 L137.4,36.3 L137.8,32.6 L138.1,29.1 L138.6,25.6 L139.1,22.4 L139.6,19.3 L140.2,16.4 L140.9,13.7 L141.6,11.4 L142.3,9.4 L141.0,8.2 L123.5,9.1" stroke="#c4c4c4" stroke-opacity="0.75" stroke-width="0.6" fill="none"/>
<path d="M146.0,126.6 L141.8,125.1 L138.3,122.9 L135.3,120.3 L132.6,117.5 L130.3,114.5 L128.3,111.3 L126.4,108.0 L124.7,104.5 L123.2,100.9 L121.9,97.1 L120.7,93.3 L119.6,89.4 L118.8,85.5 L118.0,81.4 L117.4,77.4 L117.0,73.3 L116.6,69.2 L116.5,65.1 L116.4,61.0 L116.5,56.9 L116.8,52.9 L117.2,48.9 L117.7,44.9 L118.4,41.1 L119.2,37.3 L120.1,33.6 L121.3,30.0 L122.5,26.6 L124.0,23.3 L125.6,20.2 L127.4,17.3 L129.3,14.6 L131.4,12.2 L133.4,10.2 L133.5,8.9 L123.4,9.2" stroke="#c4c4c4" stroke-opacity="0.75" stroke-width="0.6" fill="none"/>
<path d="M145.7,126.6 L139.5,125.6 L133.6,123.7 L128.5,121.3 L124.1,118.7 L120.2,115.8 L116.7,112.7 L113.5,109.4 L110.7,106.0 L108.1,102.4 L105.8,98.8 L103.8,95.0 L102.0,91.1 L100.5,87.2 L99.2,83.2 L98.2,79.2 L97.4,75.1 L96.8,71.0 L96.5,66.9 L96.4,62.8 L96.5,58.8 L96.9,54.7 L97.5,50.7 L98.3,46.7 L99.4,42.8 L100.7,39.0 L102.2,35.3 L104.0,31.7 L106.1,28.2 L108.4,24.9 L111.0,21.7 L113.9,18.7 L117.1,15.9 L120.5,13.4 L124.0,11.3 L126.5,9.7 L122.8,9.3" stroke="#c4c4c4" stroke-opacity="0.75" stroke-width="0.6" fill="none"/>
<path d="M145.7,126.7 L138.2,126.3 L130.0,124.7 L122.7,122.6 L116.4,120.1 L110.7,117.3 L105.7,114.3 L101.2,111.1 L97.1,107.8 L93.4,104.3 L90.1,100.7 L87.2,97.0 L84.7,93.2 L82.5,89.3 L80.6,85.3 L79.1,81.3 L77.9,77.2 L77.1,73.2 L76.5,69.1 L76.3,65.0 L76.5,60.9 L76.9,56.8 L77.7,52.8 L78.8,48.8 L80.3,44.9 L82.0,41.0 L84.2,37.2 L86.6,33.6 L89.5,30.0 L92.7,26.6 L96.3,23.3 L100.3,20.2 L104.7,17.3 L109.5,14.7 L114.8,12.3 L119.9,10.4 L121.9,9.4" stroke="#c4c4c4" stroke-opacity="0.75" stroke-width="0.6" fill="none"/>
<path d="M145.9,126.8 L138.7,127.1 L127.5,125.8 L117.6,123.8 L109.1,121.4 L101.6,118.7 L94.9,115.8 L89.0,112.7 L83.6,109.4 L78.8,106.0 L74.5,102.4 L70.7,98.7 L67.4,94.9 L64.5,91.1 L62.1,87.1 L60.1,83.1 L58.5,79.1 L57.4,75.0 L56.7,70.9 L56.4,66.8 L56.5,62.7 L57.1,58.6 L58.0,54.6 L59.4,50.5 L61.3,46.6 L63.5,42.7 L66.2,38.9 L69.4,35.1 L73.0,31.5 L77.1,28.0 L81.8,24.7 L86.9,21.5 L92.7,18.5 L99.1,15.7 L106.2,13.1 L114.0,10.9 L121.0,9.4" stroke="#c4c4c4" stroke-opacity="0.75" stroke-width="0.6" fill="none"/>
<path d="M146.3,126.9 L141.8,127.8 L124.8,126.6 L111.6,124.6 L100.9,122.3 L91.5,119.6 L83.3,116.7 L76.0,113.6 L69.4,110.4 L63.6,106.9 L58.3,103.4 L53.7,99.7 L49.7,96.0 L46.2,92.1 L43.2,88.2 L40.8,84.2 L39.0,80.1 L37.6,76.1 L36.8,72.0 L36.5,67.9 L36.7,63.8 L37.4,59.7 L38.6,55.6 L40.4,51.5 L42.7,47.6 L45.5,43.6 L48.9,39.8 L52.8,36.0 L57.3,32.4 L62.4,28.8 L68.1,25.4 L74.5,22.2 L81.7,19.1 L89.7,16.2 L98.8,13.6 L109.2,11.2 L120.3,9.5" stroke="#c4c4c4" stroke-opacity="0.75" stroke-width="0.6" fill="none"/>
<path d="M146.7,126.9 L151.2,127.8 L168.2,126.6 L181.4,124.6 L192.1,122.3 L201.5,119.6 L209.7,116.7 L217.0,113.6 L223.6,110.4 L229.4,106.9 L234.7,103.4 L239.3,99.7 L243.3,96.0 L246.8,92.1 L249.8,88.2 L252.2,84.2 L254.0,80.1 L255.4,76.1 L256.2,72.0 L256.5,67.9 L256.3,63.8 L255.6,59.7 L254.4,55.6 L252.6,51.5 L250.3,47.6 L247.5,43.6 L244.1,39.8 L240.2,36.0 L235.7,32.4 L230.6,28.8 L224.9,25.4 L218.5,22.2 L211.3,19.1 L203.3,16.2 L194.2,13.6 L183.8,11.2 L172.7,9.5" stroke="#c4c4c4" stroke-opacity="0.75" stroke-width="0.6" fill="none"/>
<path d="M147.1,126.8 L154.3,127.1 L165.5,125.8 L175.4,123.8 L183.9,121.4 L191.4,118.7 L198.1,115.8 L204.0,112.7 L209.4,109.4 L214.2,106.0 L218.5,102.4 L222.3,98.7 L225.6,94.9 L228.5,91.1 L230.9,87.1 L232.9,83.1 L234.5,79.1 L235.6,75.0 L236.3,70.9 L236.6,66.8 L236.5,62.7 L235.9,58.6 L235.0,54.6 L233.6,50.5 L231.7,46.6 L229.5,42.7 L226.8,38.9 L223.6,35.1 L220.0,31.5 L215.9,28.0 L211.2,24.7 L206.1,21.5 L200.3,18.5 L193.9,15.7 L186.8,13.1 L179.0,10.9 L172.0,9.4" stroke="#c4c4c4" stroke-opacity="0.75" stroke-width="0.6" fill="none"/>
<path d="M147.3,126.7 L154.8,126.3 L163.0,124.7 L170.3,122.6 L176.6,120.1 L182.3,117.3 L187.3,114.3 L191.8,111.1 L195.9,107.8 L199.6,104.3 L202.9,100.7 L205.8,97.0 L208.3,93.2 L210.5,89.3 L212.4,85.3 L213.9,81.3 L215.1,77.2 L215.9,73.2 L216.5,69.1 L216.7,65.0 L216.5,60.9 L216.1,56.8 L215.3,52.8 L214.2,48.8 L212.7,44.9 L211.0,41.0 L208.8,37.2 L206.4,33.6 L203.5,30.0 L200.3,26.6 L196.7,23.3 L192.7,20.2 L188.3,17.3 L183.5,14.7 L178.2,12.3 L173.1,10.4 L171.1,9.4" stroke="#c4c4c4" stroke-opacity="0.75" stroke-width="0.6" fill="none"/>
<path d="M176.3,112.7 L174.4,112.4 L172.5,112.2 L170.6,112.0 L168.7,111.7 L166.7,111.5 L164.7,111.3 L162.8,111.2 L160.8,111.0 L158.7,110.9 L156.7,110.8 L154.7,110.7 L152.6,110.6 L150.6,110.5 L148.6,110.5 L146.5,110.5 L144.4,110.5 L142.4,110.5 L140.4,110.6 L138.3,110.7 L136.3,110.8 L134.3,110.9 L132.2,111.0 L130.2,111.2 L128.3,111.3 L126.3,111.5 L124.3,111.7 L122.4,112.0 L120.5,112.2 L118.6,112.4 L116.7,112.7 L114.8,113.0 L113.0,113.2 L111.1,113.5 L109.3,113.8 L107.5,114.1 L105.7,114.3 L103.9,114.6 L102.1,114.9 L100.3,115.1 L98.5,115.4 L96.7,115.6 L94.9,115.8 L93.1,116.0 L91.2,116.2 L89.3,116.4 L87.4,116.5 L85.4,116.6 L83.3,116.7 L81.2,116.8 L79.0,116.8" stroke="#c4c4c4" stroke-opacity="0.75" stroke-width="0.6" fill="none"/>
<path d="M216.2,116.8 L214.0,116.8 L211.8,116.8 L209.7,116.7 L207.6,116.6 L205.6,116.5 L203.7,116.4 L201.8,116.2 L199.9,116.0 L198.1,115.8 L196.3,115.6 L194.5,115.4 L192.7,115.1 L190.9,114.9 L189.1,114.6 L187.3,114.3 L185.5,114.1 L183.7,113.8 L181.9,113.5 L180.0,113.2 L178.2,113.0 L176.3,112.7" stroke="#c4c4c4" stroke-opacity="0.75" stroke-width="0.6" fill="none"/>
<path d="M191.0,91.1 L188.1,90.8 L185.1,90.5 L182.2,90.2 L179.3,89.9 L176.3,89.7 L173.4,89.4 L170.4,89.2 L167.4,89.0 L164.4,88.8 L161.5,88.7 L158.5,88.5 L155.5,88.4 L152.5,88.4 L149.5,88.3 L146.5,88.3 L143.5,88.3 L140.5,88.4 L137.5,88.4 L134.5,88.5 L131.5,88.7 L128.6,88.8 L125.6,89.0 L122.6,89.2 L119.6,89.4 L116.7,89.7 L113.7,89.9 L110.8,90.2 L107.9,90.5 L104.9,90.8 L102.0,91.1 L99.1,91.5 L96.2,91.8 L93.3,92.1 L90.4,92.5 L87.6,92.8 L84.7,93.2 L81.8,93.5 L78.9,93.8 L76.1,94.1 L73.2,94.4 L70.3,94.7 L67.4,94.9 L64.5,95.2 L61.6,95.4 L58.6,95.6 L55.7,95.7 L52.7,95.8 L49.7,96.0 L46.6,96.0 L43.6,96.1" stroke="#c4c4c4" stroke-opacity="0.75" stroke-width="0.6" fill="none"/>
<path d="M252.5,96.1 L249.4,96.1 L246.4,96.0 L243.3,96.0 L240.3,95.8 L237.3,95.7 L234.4,95.6 L231.4,95.4 L228.5,95.2 L225.6,94.9 L222.7,94.7 L219.8,94.4 L216.9,94.1 L214.1,93.8 L211.2,93.5 L208.3,93.2 L205.4,92.8 L202.6,92.5 L199.7,92.1 L196.8,91.8 L193.9,91.5 L191.0,91.1" stroke="#c4c4c4" stroke-opacity="0.75" stroke-width="0.6" fill="none"/>
<path d="M196.5,66.9 L193.2,66.6 L189.9,66.3 L186.5,65.9 L183.2,65.6 L179.9,65.4 L176.5,65.1 L173.2,64.9 L169.9,64.6 L166.5,64.4 L163.2,64.3 L159.9,64.1 L156.5,64.0 L153.2,64.0 L149.8,63.9 L146.5,63.9 L143.2,63.9 L139.8,64.0 L136.5,64.0 L133.1,64.1 L129.8,64.3 L126.5,64.4 L123.1,64.6 L119.8,64.9 L116.5,65.1 L113.1,65.4 L109.8,65.6 L106.5,65.9 L103.1,66.3 L99.8,66.6 L96.5,66.9 L93.1,67.3 L89.8,67.6 L86.5,68.0 L83.2,68.4 L79.9,68.7 L76.5,69.1 L73.2,69.4 L69.9,69.7 L66.6,70.1 L63.3,70.4 L60.0,70.6 L56.7,70.9 L53.4,71.1 L50.1,71.4 L46.7,71.6 L43.4,71.7 L40.1,71.9 L36.8,72.0 L33.4,72.0 L30.1,72.1" stroke="#c4c4c4" stroke-opacity="0.75" stroke-width="0.6" fill="none"/>
<path d="M266.2,72.1 L262.9,72.1 L259.6,72.0 L256.2,72.0 L252.9,71.9 L249.6,71.7 L246.3,71.6 L242.9,71.4 L239.6,71.1 L236.3,70.9 L233.0,70.6 L229.7,70.4 L226.4,70.1 L223.1,69.7 L219.8,69.4 L216.5,69.1 L213.1,68.7 L209.8,68.4 L206.5,68.0 L203.2,67.6 L199.9,67.3 L196.5,66.9" stroke="#c4c4c4" stroke-opacity="0.75" stroke-width="0.6" fill="none"/>
<path d="M193.6,42.8 L190.5,42.5 L187.3,42.2 L184.1,41.9 L180.9,41.6 L177.8,41.3 L174.6,41.1 L171.5,40.8 L168.4,40.6 L165.2,40.4 L162.1,40.3 L159.0,40.2 L155.8,40.0 L152.7,40.0 L149.6,39.9 L146.5,39.9 L143.4,39.9 L140.3,40.0 L137.2,40.0 L134.0,40.2 L130.9,40.3 L127.8,40.4 L124.6,40.6 L121.5,40.8 L118.4,41.1 L115.2,41.3 L112.1,41.6 L108.9,41.9 L105.7,42.2 L102.5,42.5 L99.4,42.8 L96.2,43.2 L93.0,43.5 L89.8,43.9 L86.6,44.2 L83.4,44.5 L80.3,44.9 L77.1,45.2 L73.9,45.5 L70.7,45.8 L67.6,46.1 L64.4,46.3 L61.3,46.6 L58.1,46.8 L55.0,47.0 L51.9,47.2 L48.8,47.3 L45.7,47.5 L42.7,47.6 L39.6,47.6 L36.6,47.7" stroke="#c4c4c4" stroke-opacity="0.75" stroke-width="0.6" fill="none"/>
<path d="M259.4,47.7 L256.4,47.7 L253.4,47.6 L250.3,47.6 L247.3,47.5 L244.2,47.3 L241.1,47.2 L238.0,47.0 L234.9,46.8 L231.7,46.6 L228.6,46.3 L225.4,46.1 L222.3,45.8 L219.1,45.5 L215.9,45.2 L212.7,44.9 L209.6,44.5 L206.4,44.2 L203.2,43.9 L200.0,43.5 L196.8,43.2 L193.6,42.8" stroke="#c4c4c4" stroke-opacity="0.75" stroke-width="0.6" fill="none"/>
<path d="M182.0,21.7 L179.5,21.4 L177.1,21.1 L174.6,20.9 L172.2,20.6 L169.8,20.4 L167.4,20.2 L165.0,20.0 L162.7,19.8 L160.3,19.6 L158.0,19.5 L155.7,19.4 L153.4,19.3 L151.1,19.2 L148.8,19.2 L146.5,19.2 L144.2,19.2 L141.9,19.2 L139.6,19.3 L137.3,19.4 L135.0,19.5 L132.7,19.6 L130.3,19.8 L128.0,20.0 L125.6,20.2 L123.2,20.4 L120.8,20.6 L118.4,20.9 L115.9,21.1 L113.5,21.4 L111.0,21.7 L108.6,21.9 L106.1,22.2 L103.7,22.5 L101.2,22.8 L98.7,23.0 L96.3,23.3 L93.8,23.6 L91.4,23.8 L88.9,24.0 L86.5,24.3 L84.1,24.5 L81.8,24.7 L79.4,24.8 L77.1,25.0 L74.8,25.1 L72.5,25.2 L70.3,25.3 L68.1,25.4 L65.9,25.5 L63.8,25.5" stroke="#c4c4c4" stroke-opacity="0.75" stroke-width="0.6" fill="none"/>
<path d="M231.2,25.5 L229.2,25.5 L227.1,25.5 L224.9,25.4 L222.7,25.3 L220.5,25.2 L218.2,25.1 L215.9,25.0 L213.6,24.8 L211.2,24.7 L208.9,24.5 L206.5,24.3 L204.1,24.0 L201.6,23.8 L199.2,23.6 L196.7,23.3 L194.3,23.0 L191.8,22.8 L189.3,22.5 L186.9,22.2 L184.4,21.9 L182.0,21.7" stroke="#c4c4c4" stroke-opacity="0.75" stroke-width="0.6" fill="none"/>
</g>
<ellipse cx="146.5" cy="68" rx="120.0" ry="60.0" fill="none" stroke="#506060" stroke-opacity="0.55" stroke-width="0.7"/>
<text x="36.8" y="71.2" text-anchor="middle" fill="#dcdcdc" font-size="6.5">-120</text>
<text x="56.7" y="70.1" text-anchor="middle" fill="#dcdcdc" font-size="6.5">-150</text>
<text x="76.5" y="68.3" text-anchor="middle" fill="#dcdcdc" font-size="6.5">180</text>
<text x="96.5" y="66.1" text-anchor="middle" fill="#dcdcdc" font-size="6.5">150</text>
<text x="116.5" y="64.3" text-anchor="middle" fill="#dcdcdc" font-size="6.5">120</text>
<text x="136.5" y="63.2" text-anchor="middle" fill="#dcdcdc" font-size="6.5">90</text>
<text x="156.5" y="63.2" text-anchor="middle" fill="#dcdcdc" font-size="6.5">60</text>
<text x="176.5" y="64.3" text-anchor="middle" fill="#dcdcdc" font-size="6.5">30</text>
<text x="196.5" y="66.1" text-anchor="middle" fill="#dcdcdc" font-size="6.5">0</text>
<text x="216.5" y="68.3" text-anchor="middle" fill="#dcdcdc" font-size="6.5">-30</text>
<text x="236.3" y="70.1" text-anchor="middle" fill="#dcdcdc" font-size="6.5">-60</text>
<text x="256.2" y="71.2" text-anchor="middle" fill="#dcdcdc" font-size="6.5">-90</text>
<text x="181.0" y="21.9" text-anchor="middle" fill="#dcdcdc" font-size="6.5">60</text>
<text x="192.6" y="43.0" text-anchor="middle" fill="#dcdcdc" font-size="6.5">30</text>
<text x="190.0" y="91.3" text-anchor="middle" fill="#dcdcdc" font-size="6.5">-30</text>
<text x="175.3" y="112.9" text-anchor="middle" fill="#dcdcdc" font-size="6.5">-60</text>
<text x="171.1" y="8.9" text-anchor="middle" fill="#ababab" font-size="7">90</text>
<circle cx="143.5" cy="67.5" r="1.3" fill="#111"/>
<text x="142.1" y="65.0" fill="#111" stroke="#111" stroke-width="0.15" font-size="7.6">Tail</text>
<circle cx="36.0" cy="44.0" r="1.3" fill="#111"/>
<circle cx="264.0" cy="67.8" r="1.3" fill="#111"/>
<text x="262.0" y="65.7" fill="#7a1c1c" stroke="#7a1c1c" stroke-width="0.12" font-size="8">Nose</text>
<text x="252.8" y="41.8" fill="#7a1c1c" stroke="#7a1c1c" stroke-width="0.12" font-size="8">V1</text>
<circle cx="231.0" cy="96.5" r="1.3" fill="#111"/>
<text x="231.8" y="94.4" fill="#111" stroke="#111" stroke-width="0.12" font-size="8">V2</text>
<text x="2" y="22" fill="#000" stroke="#000" stroke-width="0.25" font-size="14.5">0.7 keV</text>
<rect x="25.75" y="136" width="240.0" height="4.3" fill="url(#jet)"/>
<text x="25.75" y="152.8" text-anchor="middle" fill="#6e1818" font-size="8">0</text>
<line x1="70.36" y1="136" x2="70.36" y2="140.3" stroke="#333" stroke-opacity="0.5" stroke-width="0.5"/>
<text x="70.36" y="152.8" text-anchor="middle" fill="#6e1818" font-size="8">50</text>
<line x1="114.97" y1="136" x2="114.97" y2="140.3" stroke="#333" stroke-opacity="0.5" stroke-width="0.5"/>
<text x="114.97" y="152.8" text-anchor="middle" fill="#6e1818" font-size="8">100</text>
<line x1="159.58" y1="136" x2="159.58" y2="140.3" stroke="#333" stroke-opacity="0.5" stroke-width="0.5"/>
<text x="159.58" y="152.8" text-anchor="middle" fill="#6e1818" font-size="8">150</text>
<line x1="204.19" y1="136" x2="204.19" y2="140.3" stroke="#333" stroke-opacity="0.5" stroke-width="0.5"/>
<text x="204.19" y="152.8" text-anchor="middle" fill="#6e1818" font-size="8">200</text>
<line x1="248.80" y1="136" x2="248.80" y2="140.3" stroke="#333" stroke-opacity="0.5" stroke-width="0.5"/>
<text x="248.80" y="152.8" text-anchor="middle" fill="#6e1818" font-size="8">250</text>
<g clip-path="url(#c1)"><g filter="url(#bl)">
<path fill="#00bff4" d="M343.00 5.00h88.25v8.25h-88.25zM451.00 5.00h138.25v8.25h-138.25zM343.00 13.00h53.25v5.25h-53.25zM406.00 13.00h10.25v5.25h-10.25zM426.00 13.00h10.25v5.25h-10.25zM446.00 13.00h5.25v5.25h-5.25zM466.00 13.00h5.25v5.25h-5.25zM476.00 13.00h30.25v5.25h-30.25zM546.00 13.00h43.25v5.25h-43.25zM343.00 18.00h48.25v5.25h-48.25zM481.00 18.00h20.25v5.25h-20.25zM551.00 18.00h38.25v5.25h-38.25zM343.00 23.00h23.25v5.25h-23.25zM396.00 23.00h10.25v5.25h-10.25zM486.00 23.00h10.25v5.25h-10.25zM566.00 23.00h23.25v5.25h-23.25zM343.00 28.00h18.25v5.25h-18.25zM466.00 28.00h5.25v5.25h-5.25zM571.00 28.00h18.25v5.25h-18.25zM486.00 33.00h5.25v5.25h-5.25zM496.00 38.00h5.25v5.25h-5.25zM516.00 38.00h5.25v5.25h-5.25zM496.00 48.00h5.25v5.25h-5.25zM496.00 53.00h5.25v5.25h-5.25zM491.00 58.00h5.25v5.25h-5.25zM491.00 63.00h5.25v5.25h-5.25zM491.00 78.00h5.25v5.25h-5.25zM486.00 88.00h5.25v5.25h-5.25zM426.00 93.00h5.25v5.25h-5.25zM441.00 93.00h5.25v5.25h-5.25zM476.00 93.00h5.25v5.25h-5.25zM486.00 93.00h5.25v5.25h-5.25zM526.00 93.00h5.25v5.25h-5.25zM421.00 98.00h5.25v5.25h-5.25zM446.00 98.00h10.25v5.25h-10.25zM491.00 98.00h5.25v5.25h-5.25zM521.00 98.00h5.25v5.25h-5.25zM496.00 103.00h5.25v5.25h-5.25zM501.00 108.00h5.25v5.25h-5.25zM516.00 108.00h5.25v5.25h-5.25zM421.00 113.00h5.25v5.25h-5.25zM501.00 113.00h20.25v5.25h-20.25zM426.00 118.00h5.25v5.25h-5.25zM496.00 118.00h25.25v5.25h-25.25zM431.00 123.00h10.25v8.25h-10.25zM491.00 123.00h30.25v8.25h-30.25z"/>
<path fill="#00aff4" d="M431.00 5.00h5.25v8.25h-5.25zM446.00 5.00h5.25v8.25h-5.25zM396.00 13.00h10.25v5.25h-10.25zM436.00 13.00h10.25v5.25h-10.25zM471.00 13.00h5.25v5.25h-5.25zM391.00 18.00h5.25v5.25h-5.25zM406.00 18.00h5.25v5.25h-5.25zM466.00 18.00h5.25v5.25h-5.25zM476.00 18.00h5.25v5.25h-5.25zM466.00 23.00h5.25v5.25h-5.25zM476.00 23.00h10.25v5.25h-10.25zM471.00 28.00h5.25v5.25h-5.25zM486.00 28.00h5.25v5.25h-5.25zM476.00 33.00h10.25v5.25h-10.25zM511.00 38.00h5.25v5.25h-5.25zM496.00 43.00h5.25v5.25h-5.25zM521.00 43.00h5.25v5.25h-5.25zM526.00 48.00h5.25v5.25h-5.25zM526.00 58.00h5.25v5.25h-5.25zM526.00 63.00h5.25v5.25h-5.25zM526.00 78.00h5.25v5.25h-5.25zM491.00 83.00h5.25v5.25h-5.25zM526.00 83.00h5.25v5.25h-5.25zM491.00 88.00h5.25v5.25h-5.25zM526.00 88.00h5.25v5.25h-5.25zM431.00 93.00h10.25v5.25h-10.25zM481.00 93.00h5.25v5.25h-5.25zM491.00 93.00h5.25v5.25h-5.25zM456.00 98.00h5.25v5.25h-5.25zM486.00 98.00h5.25v5.25h-5.25zM496.00 98.00h5.25v5.25h-5.25zM421.00 103.00h5.25v5.25h-5.25zM446.00 103.00h10.25v5.25h-10.25zM491.00 103.00h5.25v5.25h-5.25zM501.00 103.00h5.25v5.25h-5.25zM516.00 103.00h5.25v5.25h-5.25zM421.00 108.00h5.25v5.25h-5.25zM496.00 108.00h5.25v5.25h-5.25zM506.00 108.00h10.25v5.25h-10.25zM496.00 113.00h5.25v5.25h-5.25zM431.00 118.00h5.25v5.25h-5.25zM491.00 118.00h5.25v5.25h-5.25zM441.00 123.00h5.25v8.25h-5.25zM486.00 123.00h5.25v8.25h-5.25z"/>
<path fill="#0091f4" d="M436.00 5.00h10.25v8.25h-10.25zM501.00 43.00h5.25v5.25h-5.25zM511.00 43.00h5.25v5.25h-5.25zM506.00 48.00h5.25v5.25h-5.25zM496.00 63.00h5.25v5.25h-5.25zM496.00 78.00h5.25v5.25h-5.25zM496.00 83.00h5.25v5.25h-5.25zM521.00 83.00h5.25v5.25h-5.25zM496.00 88.00h5.25v5.25h-5.25zM521.00 88.00h5.25v5.25h-5.25zM431.00 98.00h10.25v5.25h-10.25zM476.00 98.00h5.25v5.25h-5.25zM426.00 103.00h5.25v5.25h-5.25zM481.00 103.00h5.25v5.25h-5.25zM426.00 108.00h5.25v5.25h-5.25zM486.00 108.00h5.25v5.25h-5.25zM451.00 113.00h5.25v5.25h-5.25zM486.00 113.00h5.25v5.25h-5.25zM446.00 118.00h5.25v5.25h-5.25zM481.00 118.00h5.25v5.25h-5.25zM446.00 123.00h5.25v8.25h-5.25zM481.00 123.00h5.25v8.25h-5.25z"/>
<path fill="#00cef4" d="M416.00 13.00h10.25v5.25h-10.25zM451.00 13.00h15.25v5.25h-15.25zM506.00 13.00h40.25v5.25h-40.25zM411.00 18.00h5.25v5.25h-5.25zM426.00 18.00h10.25v5.25h-10.25zM501.00 18.00h5.25v5.25h-5.25zM546.00 18.00h5.25v5.25h-5.25zM366.00 23.00h20.25v5.25h-20.25zM406.00 23.00h5.25v5.25h-5.25zM496.00 23.00h5.25v5.25h-5.25zM551.00 23.00h15.25v5.25h-15.25zM361.00 28.00h5.25v5.25h-5.25zM491.00 28.00h5.25v5.25h-5.25zM566.00 28.00h5.25v5.25h-5.25zM343.00 33.00h13.25v5.25h-13.25zM471.00 33.00h5.25v5.25h-5.25zM491.00 33.00h5.25v5.25h-5.25zM576.00 33.00h13.25v5.25h-13.25zM486.00 83.00h5.25v5.25h-5.25zM481.00 88.00h5.25v5.25h-5.25zM531.00 88.00h5.25v5.25h-5.25zM471.00 93.00h5.25v5.25h-5.25zM416.00 103.00h5.25v5.25h-5.25zM521.00 103.00h5.25v5.25h-5.25zM416.00 108.00h5.25v5.25h-5.25zM521.00 108.00h5.25v5.25h-5.25zM521.00 113.00h5.25v5.25h-5.25zM521.00 118.00h5.25v5.25h-5.25zM426.00 123.00h5.25v8.25h-5.25zM521.00 123.00h5.25v8.25h-5.25z"/>
<path fill="#00a0f4" d="M396.00 18.00h10.25v5.25h-10.25zM471.00 18.00h5.25v5.25h-5.25zM471.00 23.00h5.25v5.25h-5.25zM476.00 28.00h10.25v5.25h-10.25zM501.00 38.00h10.25v5.25h-10.25zM516.00 43.00h5.25v5.25h-5.25zM501.00 48.00h5.25v5.25h-5.25zM501.00 53.00h5.25v5.25h-5.25zM526.00 53.00h5.25v5.25h-5.25zM496.00 58.00h5.25v5.25h-5.25zM496.00 68.00h5.25v5.25h-5.25zM526.00 68.00h5.25v5.25h-5.25zM496.00 73.00h5.25v5.25h-5.25zM526.00 73.00h5.25v5.25h-5.25zM496.00 93.00h5.25v5.25h-5.25zM521.00 93.00h5.25v5.25h-5.25zM426.00 98.00h5.25v5.25h-5.25zM441.00 98.00h5.25v5.25h-5.25zM461.00 98.00h5.25v5.25h-5.25zM481.00 98.00h5.25v5.25h-5.25zM501.00 98.00h5.25v5.25h-5.25zM516.00 98.00h5.25v5.25h-5.25zM486.00 103.00h5.25v5.25h-5.25zM506.00 103.00h10.25v5.25h-10.25zM446.00 108.00h10.25v5.25h-10.25zM491.00 108.00h5.25v5.25h-5.25zM426.00 113.00h5.25v5.25h-5.25zM446.00 113.00h5.25v5.25h-5.25zM491.00 113.00h5.25v5.25h-5.25zM436.00 118.00h10.25v5.25h-10.25zM486.00 118.00h5.25v5.25h-5.25z"/>
<path fill="#00edf4" d="M416.00 18.00h10.25v5.25h-10.25zM441.00 18.00h20.25v5.25h-20.25zM506.00 18.00h40.25v5.25h-40.25zM461.00 23.00h5.25v5.25h-5.25zM366.00 28.00h15.25v5.25h-15.25zM461.00 28.00h5.25v5.25h-5.25zM496.00 28.00h5.25v5.25h-5.25zM551.00 28.00h15.25v5.25h-15.25zM361.00 33.00h5.25v5.25h-5.25zM466.00 33.00h5.25v5.25h-5.25zM511.00 33.00h10.25v5.25h-10.25zM566.00 33.00h5.25v5.25h-5.25zM343.00 38.00h8.25v5.25h-8.25zM421.00 38.00h5.25v5.25h-5.25zM481.00 38.00h10.25v5.25h-10.25zM581.00 38.00h8.25v5.25h-8.25zM491.00 43.00h5.25v5.25h-5.25zM491.00 48.00h5.25v5.25h-5.25zM486.00 58.00h5.25v5.25h-5.25zM531.00 73.00h5.25v5.25h-5.25zM486.00 78.00h5.25v5.25h-5.25zM531.00 78.00h5.25v5.25h-5.25zM481.00 83.00h5.25v5.25h-5.25zM436.00 88.00h5.25v5.25h-5.25zM476.00 88.00h5.25v5.25h-5.25zM451.00 93.00h10.25v5.25h-10.25zM411.00 103.00h5.25v5.25h-5.25zM526.00 103.00h5.25v5.25h-5.25zM411.00 108.00h5.25v5.25h-5.25zM526.00 108.00h5.25v5.25h-5.25zM526.00 113.00h5.25v5.25h-5.25zM526.00 118.00h5.25v5.25h-5.25zM421.00 123.00h5.25v8.25h-5.25zM526.00 123.00h5.25v8.25h-5.25z"/>
<path fill="#00ddf4" d="M436.00 18.00h5.25v5.25h-5.25zM461.00 18.00h5.25v5.25h-5.25zM386.00 23.00h10.25v5.25h-10.25zM411.00 23.00h5.25v5.25h-5.25zM426.00 23.00h10.25v5.25h-10.25zM501.00 23.00h5.25v5.25h-5.25zM546.00 23.00h5.25v5.25h-5.25zM356.00 33.00h5.25v5.25h-5.25zM496.00 33.00h15.25v5.25h-15.25zM571.00 33.00h5.25v5.25h-5.25zM416.00 38.00h5.25v5.25h-5.25zM491.00 38.00h5.25v5.25h-5.25zM521.00 38.00h5.25v5.25h-5.25zM416.00 43.00h5.25v5.25h-5.25zM526.00 43.00h5.25v5.25h-5.25zM491.00 53.00h5.25v5.25h-5.25zM491.00 68.00h5.25v5.25h-5.25zM491.00 73.00h5.25v5.25h-5.25zM531.00 83.00h5.25v5.25h-5.25zM426.00 88.00h10.25v5.25h-10.25zM421.00 93.00h5.25v5.25h-5.25zM446.00 93.00h5.25v5.25h-5.25zM461.00 93.00h10.25v5.25h-10.25zM531.00 93.00h5.25v5.25h-5.25zM416.00 98.00h5.25v5.25h-5.25zM526.00 98.00h5.25v5.25h-5.25zM416.00 113.00h5.25v5.25h-5.25zM421.00 118.00h5.25v5.25h-5.25z"/>
<path fill="#07f4ed" d="M416.00 23.00h10.25v5.25h-10.25zM506.00 23.00h25.25v5.25h-25.25zM381.00 28.00h5.25v5.25h-5.25zM406.00 28.00h25.25v5.25h-25.25zM501.00 28.00h30.25v5.25h-30.25zM411.00 33.00h15.25v5.25h-15.25zM521.00 33.00h10.25v5.25h-10.25zM351.00 38.00h5.25v5.25h-5.25zM411.00 38.00h5.25v5.25h-5.25zM476.00 38.00h5.25v5.25h-5.25zM526.00 38.00h5.25v5.25h-5.25zM576.00 38.00h5.25v5.25h-5.25zM411.00 43.00h5.25v5.25h-5.25zM421.00 43.00h5.25v5.25h-5.25zM411.00 48.00h10.25v5.25h-10.25zM531.00 48.00h5.25v5.25h-5.25zM411.00 53.00h10.25v5.25h-10.25zM531.00 53.00h5.25v5.25h-5.25zM411.00 58.00h10.25v5.25h-10.25zM486.00 63.00h5.25v5.25h-5.25zM531.00 68.00h5.25v5.25h-5.25zM421.00 83.00h10.25v5.25h-10.25zM421.00 88.00h5.25v5.25h-5.25zM441.00 88.00h5.25v5.25h-5.25zM536.00 88.00h5.25v5.25h-5.25zM401.00 113.00h15.25v5.25h-15.25zM401.00 118.00h20.25v5.25h-20.25zM401.00 123.00h20.25v8.25h-20.25zM531.00 123.00h58.25v8.25h-58.25z"/>
<path fill="#16f4dd" d="M436.00 23.00h5.25v5.25h-5.25zM451.00 23.00h10.25v5.25h-10.25zM531.00 23.00h15.25v5.25h-15.25zM431.00 28.00h5.25v5.25h-5.25zM456.00 28.00h5.25v5.25h-5.25zM531.00 28.00h5.25v5.25h-5.25zM546.00 28.00h5.25v5.25h-5.25zM366.00 33.00h5.25v5.25h-5.25zM426.00 33.00h5.25v5.25h-5.25zM461.00 33.00h5.25v5.25h-5.25zM561.00 33.00h5.25v5.25h-5.25zM481.00 43.00h10.25v5.25h-10.25zM531.00 43.00h5.25v5.25h-5.25zM486.00 48.00h5.25v5.25h-5.25zM486.00 53.00h5.25v5.25h-5.25zM531.00 58.00h5.25v5.25h-5.25zM531.00 63.00h5.25v5.25h-5.25zM431.00 83.00h5.25v5.25h-5.25zM446.00 88.00h5.25v5.25h-5.25zM416.00 93.00h5.25v5.25h-5.25zM536.00 93.00h5.25v5.25h-5.25zM411.00 98.00h5.25v5.25h-5.25zM531.00 98.00h5.25v5.25h-5.25zM406.00 103.00h5.25v5.25h-5.25zM401.00 108.00h10.25v5.25h-10.25zM531.00 113.00h5.25v5.25h-5.25zM531.00 118.00h10.25v5.25h-10.25z"/>
<path fill="#26f4ce" d="M441.00 23.00h10.25v5.25h-10.25zM386.00 28.00h5.25v5.25h-5.25zM396.00 28.00h10.25v5.25h-10.25zM371.00 33.00h5.25v5.25h-5.25zM406.00 33.00h5.25v5.25h-5.25zM531.00 33.00h5.25v5.25h-5.25zM556.00 33.00h5.25v5.25h-5.25zM356.00 38.00h5.25v5.25h-5.25zM406.00 38.00h5.25v5.25h-5.25zM471.00 38.00h5.25v5.25h-5.25zM531.00 38.00h5.25v5.25h-5.25zM571.00 38.00h5.25v5.25h-5.25zM343.00 43.00h8.25v5.25h-8.25zM406.00 43.00h5.25v5.25h-5.25zM406.00 48.00h5.25v5.25h-5.25zM421.00 48.00h5.25v5.25h-5.25zM406.00 53.00h5.25v5.25h-5.25zM406.00 58.00h5.25v5.25h-5.25zM411.00 63.00h10.25v5.25h-10.25zM486.00 68.00h5.25v5.25h-5.25zM486.00 73.00h5.25v5.25h-5.25zM421.00 78.00h10.25v5.25h-10.25zM481.00 78.00h5.25v5.25h-5.25zM416.00 83.00h5.25v5.25h-5.25zM476.00 83.00h5.25v5.25h-5.25zM536.00 83.00h5.25v5.25h-5.25zM416.00 88.00h5.25v5.25h-5.25zM451.00 88.00h5.25v5.25h-5.25zM471.00 88.00h5.25v5.25h-5.25zM531.00 103.00h5.25v5.25h-5.25zM531.00 108.00h5.25v5.25h-5.25zM396.00 113.00h5.25v5.25h-5.25zM396.00 118.00h5.25v5.25h-5.25zM541.00 118.00h48.25v5.25h-48.25zM396.00 123.00h5.25v8.25h-5.25z"/>
<path fill="#35f4bf" d="M391.00 28.00h5.25v5.25h-5.25zM436.00 28.00h5.25v5.25h-5.25zM451.00 28.00h5.25v5.25h-5.25zM536.00 28.00h10.25v5.25h-10.25zM376.00 33.00h5.25v5.25h-5.25zM431.00 33.00h5.25v5.25h-5.25zM456.00 33.00h5.25v5.25h-5.25zM551.00 33.00h5.25v5.25h-5.25zM361.00 38.00h5.25v5.25h-5.25zM426.00 38.00h5.25v5.25h-5.25zM466.00 38.00h5.25v5.25h-5.25zM566.00 38.00h5.25v5.25h-5.25zM351.00 43.00h5.25v5.25h-5.25zM476.00 43.00h5.25v5.25h-5.25zM481.00 48.00h5.25v5.25h-5.25zM421.00 53.00h5.25v5.25h-5.25zM481.00 58.00h5.25v5.25h-5.25zM406.00 63.00h5.25v5.25h-5.25zM416.00 78.00h5.25v5.25h-5.25zM411.00 93.00h5.25v5.25h-5.25zM406.00 98.00h5.25v5.25h-5.25zM536.00 98.00h5.25v5.25h-5.25zM401.00 103.00h5.25v5.25h-5.25zM396.00 108.00h5.25v5.25h-5.25zM536.00 113.00h5.25v5.25h-5.25z"/>
<path fill="#44f4af" d="M441.00 28.00h10.25v5.25h-10.25zM381.00 33.00h5.25v5.25h-5.25zM401.00 33.00h5.25v5.25h-5.25zM536.00 33.00h5.25v5.25h-5.25zM546.00 33.00h5.25v5.25h-5.25zM366.00 38.00h5.25v5.25h-5.25zM401.00 38.00h5.25v5.25h-5.25zM461.00 38.00h5.25v5.25h-5.25zM536.00 38.00h5.25v5.25h-5.25zM561.00 38.00h5.25v5.25h-5.25zM401.00 43.00h5.25v5.25h-5.25zM426.00 43.00h5.25v5.25h-5.25zM581.00 43.00h8.25v5.25h-8.25zM343.00 48.00h8.25v5.25h-8.25zM401.00 48.00h5.25v5.25h-5.25zM401.00 53.00h5.25v5.25h-5.25zM481.00 53.00h5.25v5.25h-5.25zM401.00 58.00h5.25v5.25h-5.25zM421.00 58.00h5.25v5.25h-5.25zM481.00 63.00h5.25v5.25h-5.25zM411.00 68.00h10.25v5.25h-10.25zM421.00 73.00h10.25v5.25h-10.25zM536.00 78.00h5.25v5.25h-5.25zM411.00 83.00h5.25v5.25h-5.25zM411.00 88.00h5.25v5.25h-5.25zM456.00 88.00h15.25v5.25h-15.25zM541.00 88.00h5.25v5.25h-5.25zM541.00 93.00h5.25v5.25h-5.25zM536.00 103.00h5.25v5.25h-5.25zM536.00 108.00h5.25v5.25h-5.25zM391.00 113.00h5.25v5.25h-5.25zM541.00 113.00h48.25v5.25h-48.25zM391.00 118.00h5.25v5.25h-5.25zM391.00 123.00h5.25v8.25h-5.25z"/>
<path fill="#54f4a0" d="M386.00 33.00h5.25v5.25h-5.25zM541.00 33.00h5.25v5.25h-5.25zM371.00 38.00h5.25v5.25h-5.25zM556.00 38.00h5.25v5.25h-5.25zM536.00 43.00h5.25v5.25h-5.25zM576.00 43.00h5.25v5.25h-5.25zM421.00 63.00h5.25v5.25h-5.25zM421.00 68.00h5.25v5.25h-5.25zM411.00 73.00h10.25v5.25h-10.25zM411.00 78.00h5.25v5.25h-5.25zM431.00 78.00h5.25v5.25h-5.25zM436.00 83.00h5.25v5.25h-5.25zM446.00 83.00h5.25v5.25h-5.25zM401.00 93.00h10.25v5.25h-10.25zM401.00 98.00h5.25v5.25h-5.25z"/>
<path fill="#63f491" d="M391.00 33.00h10.25v5.25h-10.25zM436.00 33.00h5.25v5.25h-5.25zM451.00 33.00h5.25v5.25h-5.25zM386.00 38.00h15.25v5.25h-15.25zM431.00 38.00h5.25v5.25h-5.25zM456.00 38.00h5.25v5.25h-5.25zM541.00 38.00h5.25v5.25h-5.25zM356.00 43.00h5.25v5.25h-5.25zM396.00 43.00h5.25v5.25h-5.25zM471.00 43.00h5.25v5.25h-5.25zM351.00 48.00h5.25v5.25h-5.25zM476.00 48.00h5.25v5.25h-5.25zM536.00 48.00h5.25v5.25h-5.25zM401.00 63.00h5.25v5.25h-5.25zM406.00 68.00h5.25v5.25h-5.25zM481.00 73.00h5.25v5.25h-5.25zM536.00 73.00h5.25v5.25h-5.25zM406.00 78.00h5.25v5.25h-5.25zM476.00 78.00h5.25v5.25h-5.25zM401.00 83.00h10.25v5.25h-10.25zM441.00 83.00h5.25v5.25h-5.25zM451.00 83.00h5.25v5.25h-5.25zM541.00 83.00h5.25v5.25h-5.25zM401.00 88.00h10.25v5.25h-10.25zM541.00 98.00h5.25v5.25h-5.25zM396.00 103.00h5.25v5.25h-5.25zM391.00 108.00h5.25v5.25h-5.25zM541.00 108.00h5.25v5.25h-5.25zM381.00 113.00h10.25v5.25h-10.25zM376.00 118.00h15.25v5.25h-15.25zM343.00 123.00h48.25v8.25h-48.25z"/>
<path fill="#72f482" d="M441.00 33.00h10.25v5.25h-10.25zM376.00 38.00h5.25v5.25h-5.25zM551.00 38.00h5.25v5.25h-5.25zM361.00 43.00h10.25v5.25h-10.25zM391.00 43.00h5.25v5.25h-5.25zM396.00 48.00h5.25v5.25h-5.25zM426.00 48.00h5.25v5.25h-5.25zM343.00 53.00h8.25v5.25h-8.25zM396.00 53.00h5.25v5.25h-5.25zM396.00 58.00h5.25v5.25h-5.25zM426.00 68.00h5.25v5.25h-5.25zM481.00 68.00h5.25v5.25h-5.25zM406.00 73.00h5.25v5.25h-5.25zM401.00 78.00h5.25v5.25h-5.25zM396.00 83.00h5.25v5.25h-5.25zM396.00 88.00h5.25v5.25h-5.25zM396.00 93.00h5.25v5.25h-5.25zM396.00 98.00h5.25v5.25h-5.25zM541.00 103.00h5.25v5.25h-5.25zM381.00 108.00h10.25v5.25h-10.25zM546.00 108.00h10.25v5.25h-10.25zM376.00 113.00h5.25v5.25h-5.25zM343.00 118.00h33.25v5.25h-33.25z"/>
<path fill="#82f472" d="M381.00 38.00h5.25v5.25h-5.25zM436.00 38.00h5.25v5.25h-5.25zM451.00 38.00h5.25v5.25h-5.25zM546.00 38.00h5.25v5.25h-5.25zM371.00 43.00h5.25v5.25h-5.25zM386.00 43.00h5.25v5.25h-5.25zM431.00 43.00h5.25v5.25h-5.25zM466.00 43.00h5.25v5.25h-5.25zM571.00 43.00h5.25v5.25h-5.25zM356.00 48.00h5.25v5.25h-5.25zM391.00 48.00h5.25v5.25h-5.25zM351.00 53.00h5.25v5.25h-5.25zM476.00 53.00h5.25v5.25h-5.25zM536.00 53.00h5.25v5.25h-5.25zM476.00 58.00h5.25v5.25h-5.25zM396.00 63.00h5.25v5.25h-5.25zM401.00 68.00h5.25v5.25h-5.25zM536.00 68.00h5.25v5.25h-5.25zM401.00 73.00h5.25v5.25h-5.25zM431.00 73.00h5.25v5.25h-5.25zM396.00 78.00h5.25v5.25h-5.25zM546.00 88.00h5.25v5.25h-5.25zM546.00 93.00h5.25v5.25h-5.25zM391.00 103.00h5.25v5.25h-5.25zM546.00 103.00h5.25v5.25h-5.25zM376.00 108.00h5.25v5.25h-5.25zM371.00 113.00h5.25v5.25h-5.25z"/>
<path fill="#91f463" d="M441.00 38.00h10.25v5.25h-10.25zM461.00 43.00h5.25v5.25h-5.25zM541.00 43.00h5.25v5.25h-5.25zM566.00 43.00h5.25v5.25h-5.25zM361.00 48.00h10.25v5.25h-10.25zM391.00 53.00h5.25v5.25h-5.25zM426.00 53.00h5.25v5.25h-5.25zM343.00 58.00h8.25v5.25h-8.25zM391.00 58.00h5.25v5.25h-5.25zM476.00 63.00h5.25v5.25h-5.25zM446.00 78.00h5.25v5.25h-5.25zM541.00 78.00h5.25v5.25h-5.25zM391.00 83.00h5.25v5.25h-5.25zM471.00 83.00h5.25v5.25h-5.25zM546.00 83.00h5.25v5.25h-5.25zM391.00 88.00h5.25v5.25h-5.25zM391.00 93.00h5.25v5.25h-5.25zM391.00 98.00h5.25v5.25h-5.25zM546.00 98.00h5.25v5.25h-5.25zM381.00 103.00h10.25v5.25h-10.25zM556.00 108.00h10.25v5.25h-10.25zM343.00 113.00h28.25v5.25h-28.25z"/>
<path fill="#a0f454" d="M376.00 43.00h10.25v5.25h-10.25zM456.00 43.00h5.25v5.25h-5.25zM561.00 43.00h5.25v5.25h-5.25zM371.00 48.00h20.25v5.25h-20.25zM356.00 53.00h5.25v5.25h-5.25zM351.00 58.00h10.25v5.25h-10.25zM536.00 58.00h5.25v5.25h-5.25zM391.00 63.00h5.25v5.25h-5.25zM426.00 63.00h5.25v5.25h-5.25zM536.00 63.00h5.25v5.25h-5.25zM391.00 68.00h10.25v5.25h-10.25zM391.00 73.00h10.25v5.25h-10.25zM476.00 73.00h5.25v5.25h-5.25zM391.00 78.00h5.25v5.25h-5.25zM436.00 78.00h5.25v5.25h-5.25zM451.00 78.00h5.25v5.25h-5.25zM456.00 83.00h5.25v5.25h-5.25zM566.00 108.00h23.25v5.25h-23.25z"/>
<path fill="#aff444" d="M436.00 43.00h5.25v5.25h-5.25zM556.00 43.00h5.25v5.25h-5.25zM431.00 48.00h5.25v5.25h-5.25zM471.00 48.00h5.25v5.25h-5.25zM361.00 53.00h5.25v5.25h-5.25zM376.00 53.00h15.25v5.25h-15.25zM381.00 58.00h10.25v5.25h-10.25zM426.00 58.00h5.25v5.25h-5.25zM381.00 63.00h10.25v5.25h-10.25zM381.00 68.00h10.25v5.25h-10.25zM431.00 68.00h5.25v5.25h-5.25zM476.00 68.00h5.25v5.25h-5.25zM381.00 73.00h10.25v5.25h-10.25zM381.00 78.00h10.25v5.25h-10.25zM381.00 83.00h10.25v5.25h-10.25zM381.00 88.00h10.25v5.25h-10.25zM381.00 93.00h10.25v5.25h-10.25zM381.00 98.00h10.25v5.25h-10.25zM376.00 103.00h5.25v5.25h-5.25zM551.00 103.00h5.25v5.25h-5.25zM371.00 108.00h5.25v5.25h-5.25z"/>
<path fill="#cef426" d="M441.00 43.00h5.25v5.25h-5.25zM451.00 43.00h5.25v5.25h-5.25zM551.00 43.00h5.25v5.25h-5.25zM576.00 48.00h5.25v5.25h-5.25zM471.00 53.00h5.25v5.25h-5.25zM366.00 58.00h10.25v5.25h-10.25zM471.00 58.00h5.25v5.25h-5.25zM351.00 63.00h5.25v5.25h-5.25zM361.00 63.00h5.25v5.25h-5.25zM471.00 63.00h5.25v5.25h-5.25zM551.00 83.00h5.25v5.25h-5.25zM551.00 98.00h5.25v5.25h-5.25zM371.00 103.00h5.25v5.25h-5.25zM356.00 108.00h10.25v5.25h-10.25z"/>
<path fill="#ddf416" d="M446.00 43.00h5.25v5.25h-5.25zM466.00 48.00h5.25v5.25h-5.25zM431.00 53.00h5.25v5.25h-5.25zM343.00 63.00h8.25v5.25h-8.25zM371.00 63.00h5.25v5.25h-5.25zM431.00 63.00h5.25v5.25h-5.25zM371.00 68.00h5.25v5.25h-5.25zM471.00 68.00h5.25v5.25h-5.25zM371.00 73.00h5.25v5.25h-5.25zM436.00 73.00h5.25v5.25h-5.25zM446.00 73.00h5.25v5.25h-5.25zM471.00 73.00h5.25v5.25h-5.25zM371.00 78.00h5.25v5.25h-5.25zM371.00 83.00h5.25v5.25h-5.25zM371.00 88.00h5.25v5.25h-5.25zM371.00 93.00h5.25v5.25h-5.25zM371.00 98.00h5.25v5.25h-5.25zM343.00 103.00h8.25v5.25h-8.25zM556.00 103.00h5.25v5.25h-5.25z"/>
<path fill="#0082f4" d="M506.00 43.00h5.25v5.25h-5.25zM511.00 48.00h5.25v5.25h-5.25zM521.00 48.00h5.25v5.25h-5.25zM506.00 53.00h5.25v5.25h-5.25zM501.00 58.00h5.25v5.25h-5.25zM521.00 58.00h5.25v5.25h-5.25zM521.00 63.00h5.25v5.25h-5.25zM501.00 68.00h5.25v5.25h-5.25zM501.00 73.00h10.25v5.25h-10.25zM501.00 78.00h15.25v5.25h-15.25zM521.00 78.00h5.25v5.25h-5.25zM501.00 83.00h5.25v5.25h-5.25zM516.00 83.00h5.25v5.25h-5.25zM501.00 93.00h5.25v5.25h-5.25zM516.00 93.00h5.25v5.25h-5.25zM466.00 98.00h10.25v5.25h-10.25zM506.00 98.00h10.25v5.25h-10.25zM431.00 103.00h5.25v5.25h-5.25zM441.00 103.00h5.25v5.25h-5.25zM456.00 103.00h5.25v5.25h-5.25zM481.00 108.00h5.25v5.25h-5.25zM431.00 113.00h5.25v5.25h-5.25zM481.00 113.00h5.25v5.25h-5.25zM451.00 118.00h5.25v5.25h-5.25z"/>
<path fill="#bff435" d="M546.00 43.00h5.25v5.25h-5.25zM541.00 48.00h5.25v5.25h-5.25zM581.00 48.00h8.25v5.25h-8.25zM366.00 53.00h10.25v5.25h-10.25zM361.00 58.00h5.25v5.25h-5.25zM376.00 58.00h5.25v5.25h-5.25zM356.00 63.00h5.25v5.25h-5.25zM376.00 63.00h5.25v5.25h-5.25zM376.00 68.00h5.25v5.25h-5.25zM376.00 73.00h5.25v5.25h-5.25zM541.00 73.00h5.25v5.25h-5.25zM376.00 78.00h5.25v5.25h-5.25zM441.00 78.00h5.25v5.25h-5.25zM471.00 78.00h5.25v5.25h-5.25zM546.00 78.00h5.25v5.25h-5.25zM376.00 83.00h5.25v5.25h-5.25zM461.00 83.00h10.25v5.25h-10.25zM376.00 88.00h5.25v5.25h-5.25zM551.00 88.00h5.25v5.25h-5.25zM376.00 93.00h5.25v5.25h-5.25zM551.00 93.00h5.25v5.25h-5.25zM376.00 98.00h5.25v5.25h-5.25zM343.00 108.00h13.25v5.25h-13.25zM366.00 108.00h5.25v5.25h-5.25z"/>
<path fill="#edf407" d="M436.00 48.00h5.25v5.25h-5.25zM461.00 48.00h5.25v5.25h-5.25zM571.00 48.00h5.25v5.25h-5.25zM541.00 53.00h5.25v5.25h-5.25zM431.00 58.00h5.25v5.25h-5.25zM366.00 63.00h5.25v5.25h-5.25zM361.00 68.00h10.25v5.25h-10.25zM541.00 68.00h5.25v5.25h-5.25zM451.00 73.00h5.25v5.25h-5.25zM456.00 78.00h5.25v5.25h-5.25zM556.00 93.00h5.25v5.25h-5.25zM351.00 103.00h5.25v5.25h-5.25zM366.00 103.00h5.25v5.25h-5.25z"/>
<path fill="#f4ce00" d="M441.00 48.00h5.25v5.25h-5.25zM546.00 48.00h5.25v5.25h-5.25zM561.00 48.00h5.25v5.25h-5.25zM576.00 53.00h5.25v5.25h-5.25zM546.00 73.00h5.25v5.25h-5.25zM361.00 78.00h5.25v5.25h-5.25zM361.00 83.00h5.25v5.25h-5.25zM561.00 88.00h5.25v5.25h-5.25zM356.00 93.00h5.25v5.25h-5.25zM561.00 93.00h5.25v5.25h-5.25zM343.00 98.00h23.25v5.25h-23.25zM566.00 103.00h5.25v5.25h-5.25z"/>
<path fill="#f4af00" d="M446.00 48.00h5.25v5.25h-5.25zM551.00 48.00h5.25v5.25h-5.25zM441.00 53.00h5.25v5.25h-5.25zM571.00 53.00h5.25v5.25h-5.25zM576.00 58.00h5.25v5.25h-5.25zM343.00 68.00h8.25v5.25h-8.25zM461.00 73.00h5.25v5.25h-5.25zM566.00 88.00h5.25v5.25h-5.25zM351.00 93.00h5.25v5.25h-5.25zM566.00 93.00h5.25v5.25h-5.25zM561.00 98.00h5.25v5.25h-5.25z"/>
<path fill="#f4bf00" d="M451.00 48.00h5.25v5.25h-5.25zM556.00 48.00h5.25v5.25h-5.25zM461.00 53.00h5.25v5.25h-5.25zM441.00 58.00h5.25v5.25h-5.25zM461.00 58.00h5.25v5.25h-5.25zM581.00 58.00h8.25v5.25h-8.25zM441.00 63.00h5.25v5.25h-5.25zM461.00 63.00h5.25v5.25h-5.25zM351.00 68.00h5.25v5.25h-5.25zM441.00 68.00h15.25v5.25h-15.25zM356.00 73.00h5.25v5.25h-5.25zM456.00 73.00h5.25v5.25h-5.25zM556.00 83.00h5.25v5.25h-5.25zM356.00 88.00h5.25v5.25h-5.25zM571.00 103.00h18.25v5.25h-18.25z"/>
<path fill="#f4dd00" d="M456.00 48.00h5.25v5.25h-5.25zM566.00 48.00h5.25v5.25h-5.25zM436.00 53.00h5.25v5.25h-5.25zM466.00 53.00h5.25v5.25h-5.25zM581.00 53.00h8.25v5.25h-8.25zM466.00 58.00h5.25v5.25h-5.25zM541.00 58.00h5.25v5.25h-5.25zM466.00 63.00h5.25v5.25h-5.25zM541.00 63.00h5.25v5.25h-5.25zM466.00 68.00h5.25v5.25h-5.25zM466.00 73.00h5.25v5.25h-5.25zM461.00 78.00h5.25v5.25h-5.25zM551.00 78.00h5.25v5.25h-5.25zM556.00 98.00h5.25v5.25h-5.25zM356.00 103.00h10.25v5.25h-10.25zM561.00 103.00h5.25v5.25h-5.25z"/>
<path fill="#0072f4" d="M516.00 48.00h5.25v5.25h-5.25zM511.00 53.00h5.25v5.25h-5.25zM521.00 53.00h5.25v5.25h-5.25zM516.00 58.00h5.25v5.25h-5.25zM501.00 63.00h5.25v5.25h-5.25zM516.00 63.00h5.25v5.25h-5.25zM506.00 68.00h10.25v5.25h-10.25zM521.00 68.00h5.25v5.25h-5.25zM511.00 73.00h5.25v5.25h-5.25zM521.00 73.00h5.25v5.25h-5.25zM516.00 78.00h5.25v5.25h-5.25zM506.00 83.00h10.25v5.25h-10.25zM501.00 88.00h5.25v5.25h-5.25zM516.00 88.00h5.25v5.25h-5.25zM436.00 103.00h5.25v5.25h-5.25zM476.00 103.00h5.25v5.25h-5.25zM431.00 108.00h5.25v5.25h-5.25zM441.00 108.00h5.25v5.25h-5.25zM456.00 108.00h5.25v5.25h-5.25zM476.00 108.00h5.25v5.25h-5.25zM436.00 113.00h10.25v5.25h-10.25zM476.00 113.00h5.25v5.25h-5.25zM476.00 118.00h5.25v5.25h-5.25zM451.00 123.00h5.25v8.25h-5.25zM476.00 123.00h5.25v8.25h-5.25z"/>
<path fill="#f48200" d="M446.00 53.00h10.25v5.25h-10.25zM566.00 53.00h5.25v5.25h-5.25zM546.00 58.00h5.25v5.25h-5.25zM451.00 63.00h5.25v5.25h-5.25zM546.00 63.00h5.25v5.25h-5.25zM581.00 68.00h8.25v5.25h-8.25zM551.00 73.00h5.25v5.25h-5.25zM556.00 78.00h5.25v5.25h-5.25zM571.00 83.00h10.25v5.25h-10.25zM576.00 88.00h5.25v5.25h-5.25zM576.00 93.00h5.25v5.25h-5.25zM571.00 98.00h10.25v5.25h-10.25z"/>
<path fill="#f4a000" d="M456.00 53.00h5.25v5.25h-5.25zM546.00 53.00h5.25v5.25h-5.25zM456.00 58.00h5.25v5.25h-5.25zM581.00 63.00h8.25v5.25h-8.25zM461.00 68.00h5.25v5.25h-5.25zM546.00 68.00h5.25v5.25h-5.25zM356.00 78.00h5.25v5.25h-5.25zM356.00 83.00h5.25v5.25h-5.25zM571.00 88.00h5.25v5.25h-5.25zM571.00 93.00h5.25v5.25h-5.25z"/>
<path fill="#0063f4" d="M516.00 53.00h5.25v5.25h-5.25zM506.00 58.00h10.25v5.25h-10.25zM506.00 63.00h10.25v5.25h-10.25zM516.00 68.00h5.25v5.25h-5.25zM516.00 73.00h5.25v5.25h-5.25zM506.00 88.00h10.25v5.25h-10.25zM506.00 93.00h10.25v5.25h-10.25zM461.00 103.00h5.25v5.25h-5.25zM436.00 108.00h5.25v5.25h-5.25zM456.00 113.00h5.25v5.25h-5.25zM456.00 118.00h5.25v5.25h-5.25z"/>
<path fill="#f46300" d="M551.00 53.00h10.25v5.25h-10.25zM451.00 58.00h5.25v5.25h-5.25zM561.00 78.00h10.25v5.25h-10.25z"/>
<path fill="#f47200" d="M561.00 53.00h5.25v5.25h-5.25zM446.00 58.00h5.25v5.25h-5.25zM571.00 58.00h5.25v5.25h-5.25zM576.00 68.00h5.25v5.25h-5.25zM343.00 73.00h8.25v5.25h-8.25zM576.00 73.00h13.25v5.25h-13.25zM351.00 78.00h5.25v5.25h-5.25zM571.00 78.00h18.25v5.25h-18.25zM351.00 83.00h5.25v5.25h-5.25zM581.00 83.00h8.25v5.25h-8.25zM343.00 88.00h8.25v5.25h-8.25zM581.00 88.00h8.25v5.25h-8.25zM581.00 93.00h8.25v5.25h-8.25zM581.00 98.00h8.25v5.25h-8.25z"/>
<path fill="#f4ed00" d="M436.00 58.00h5.25v5.25h-5.25zM436.00 63.00h5.25v5.25h-5.25zM356.00 68.00h5.25v5.25h-5.25zM436.00 68.00h5.25v5.25h-5.25zM361.00 73.00h10.25v5.25h-10.25zM441.00 73.00h5.25v5.25h-5.25zM366.00 78.00h5.25v5.25h-5.25zM466.00 78.00h5.25v5.25h-5.25zM366.00 83.00h5.25v5.25h-5.25zM361.00 88.00h10.25v5.25h-10.25zM556.00 88.00h5.25v5.25h-5.25zM361.00 93.00h10.25v5.25h-10.25zM366.00 98.00h5.25v5.25h-5.25z"/>
<path fill="#f44400" d="M551.00 58.00h5.25v5.25h-5.25zM556.00 73.00h5.25v5.25h-5.25zM566.00 73.00h5.25v5.25h-5.25z"/>
<path fill="#f42600" d="M556.00 58.00h5.25v5.25h-5.25zM561.00 73.00h5.25v5.25h-5.25z"/>
<path fill="#f43500" d="M561.00 58.00h5.25v5.25h-5.25zM551.00 63.00h5.25v5.25h-5.25zM566.00 63.00h5.25v5.25h-5.25zM566.00 68.00h5.25v5.25h-5.25z"/>
<path fill="#f45400" d="M566.00 58.00h5.25v5.25h-5.25zM571.00 63.00h5.25v5.25h-5.25zM551.00 68.00h5.25v5.25h-5.25zM571.00 68.00h5.25v5.25h-5.25zM571.00 73.00h5.25v5.25h-5.25zM343.00 78.00h8.25v5.25h-8.25zM343.00 83.00h8.25v5.25h-8.25z"/>
<path fill="#f49100" d="M446.00 63.00h5.25v5.25h-5.25zM456.00 63.00h5.25v5.25h-5.25zM576.00 63.00h5.25v5.25h-5.25zM456.00 68.00h5.25v5.25h-5.25zM351.00 73.00h5.25v5.25h-5.25zM561.00 83.00h10.25v5.25h-10.25zM351.00 88.00h5.25v5.25h-5.25zM343.00 93.00h8.25v5.25h-8.25zM566.00 98.00h5.25v5.25h-5.25z"/>
<path fill="#f41600" d="M556.00 63.00h10.25v5.25h-10.25zM556.00 68.00h10.25v5.25h-10.25z"/>
<path fill="#0054f4" d="M466.00 103.00h10.25v5.25h-10.25zM461.00 108.00h15.25v5.25h-15.25zM471.00 113.00h5.25v5.25h-5.25zM471.00 118.00h5.25v5.25h-5.25zM456.00 123.00h5.25v8.25h-5.25zM471.00 123.00h5.25v8.25h-5.25z"/>
<path fill="#0044f4" d="M461.00 113.00h10.25v5.25h-10.25zM461.00 118.00h10.25v5.25h-10.25zM461.00 123.00h10.25v8.25h-10.25z"/>
</g>
<path d="M466.8,126.6 L473.0,125.6 L478.9,123.7 L484.0,121.3 L488.4,118.7 L492.3,115.8 L495.8,112.7 L499.0,109.4 L501.8,106.0 L504.4,102.4 L506.7,98.8 L508.7,95.0 L510.5,91.1 L512.0,87.2 L513.3,83.2 L514.3,79.2 L515.1,75.1 L515.7,71.0 L516.0,66.9 L516.1,62.8 L516.0,58.8 L515.6,54.7 L515.0,50.7 L514.2,46.7 L513.1,42.8 L511.8,39.0 L510.3,35.3 L508.5,31.7 L506.4,28.2 L504.1,24.9 L501.5,21.7 L498.6,18.7 L495.4,15.9 L492.0,13.4 L488.5,11.3 L486.0,9.7 L489.7,9.3" stroke="#c4c4c4" stroke-opacity="0.75" stroke-width="0.6" fill="none"/>
<path d="M466.5,126.6 L470.7,125.1 L474.2,122.9 L477.2,120.3 L479.9,117.5 L482.2,114.5 L484.2,111.3 L486.1,108.0 L487.8,104.5 L489.3,100.9 L490.6,97.1 L491.8,93.3 L492.9,89.4 L493.7,85.5 L494.5,81.4 L495.1,77.4 L495.5,73.3 L495.9,69.2 L496.0,65.1 L496.1,61.0 L496.0,56.9 L495.7,52.9 L495.3,48.9 L494.8,44.9 L494.1,41.1 L493.3,37.3 L492.4,33.6 L491.2,30.0 L490.0,26.6 L488.5,23.3 L486.9,20.2 L485.1,17.3 L483.2,14.6 L481.1,12.2 L479.1,10.2 L479.0,8.9 L489.1,9.2" stroke="#c4c4c4" stroke-opacity="0.75" stroke-width="0.6" fill="none"/>
<path d="M466.2,126.5 L467.6,124.8 L468.8,122.4 L469.8,119.8 L470.7,116.9 L471.5,113.8 L472.1,110.6 L472.8,107.2 L473.3,103.6 L473.8,100.0 L474.3,96.2 L474.6,92.4 L475.0,88.4 L475.3,84.5 L475.5,80.4 L475.7,76.3 L475.9,72.2 L476.0,68.1 L476.0,64.0 L476.0,59.9 L476.0,55.9 L475.9,51.8 L475.8,47.8 L475.6,43.9 L475.3,40.0 L475.1,36.3 L474.7,32.6 L474.4,29.1 L473.9,25.6 L473.4,22.4 L472.9,19.3 L472.3,16.4 L471.6,13.7 L470.9,11.4 L470.2,9.4 L471.5,8.2 L489.0,9.1" stroke="#c4c4c4" stroke-opacity="0.75" stroke-width="0.6" fill="none"/>
<path d="M465.8,126.5 L464.4,124.8 L463.2,122.4 L462.2,119.8 L461.3,116.9 L460.5,113.8 L459.9,110.6 L459.2,107.2 L458.7,103.6 L458.2,100.0 L457.7,96.2 L457.4,92.4 L457.0,88.4 L456.7,84.5 L456.5,80.4 L456.3,76.3 L456.1,72.2 L456.0,68.1 L456.0,64.0 L456.0,59.9 L456.0,55.9 L456.1,51.8 L456.2,47.8 L456.4,43.9 L456.7,40.0 L456.9,36.3 L457.3,32.6 L457.6,29.1 L458.1,25.6 L458.6,22.4 L459.1,19.3 L459.7,16.4 L460.4,13.7 L461.1,11.4 L461.8,9.4 L460.5,8.2 L443.0,9.1" stroke="#c4c4c4" stroke-opacity="0.75" stroke-width="0.6" fill="none"/>
<path d="M465.5,126.6 L461.3,125.1 L457.8,122.9 L454.8,120.3 L452.1,117.5 L449.8,114.5 L447.8,111.3 L445.9,108.0 L444.2,104.5 L442.7,100.9 L441.4,97.1 L440.2,93.3 L439.1,89.4 L438.3,85.5 L437.5,81.4 L436.9,77.4 L436.5,73.3 L436.1,69.2 L436.0,65.1 L435.9,61.0 L436.0,56.9 L436.3,52.9 L436.7,48.9 L437.2,44.9 L437.9,41.1 L438.7,37.3 L439.6,33.6 L440.8,30.0 L442.0,26.6 L443.5,23.3 L445.1,20.2 L446.9,17.3 L448.8,14.6 L450.9,12.2 L452.9,10.2 L453.0,8.9 L442.9,9.2" stroke="#c4c4c4" stroke-opacity="0.75" stroke-width="0.6" fill="none"/>
<path d="M465.2,126.6 L459.0,125.6 L453.1,123.7 L448.0,121.3 L443.6,118.7 L439.7,115.8 L436.2,112.7 L433.0,109.4 L430.2,106.0 L427.6,102.4 L425.3,98.8 L423.3,95.0 L421.5,91.1 L420.0,87.2 L418.7,83.2 L417.7,79.2 L416.9,75.1 L416.3,71.0 L416.0,66.9 L415.9,62.8 L416.0,58.8 L416.4,54.7 L417.0,50.7 L417.8,46.7 L418.9,42.8 L420.2,39.0 L421.7,35.3 L423.5,31.7 L425.6,28.2 L427.9,24.9 L430.5,21.7 L433.4,18.7 L436.6,15.9 L440.0,13.4 L443.5,11.3 L446.0,9.7 L442.3,9.3" stroke="#c4c4c4" stroke-opacity="0.75" stroke-width="0.6" fill="none"/>
<path d="M465.2,126.7 L457.7,126.3 L449.5,124.7 L442.2,122.6 L435.9,120.1 L430.2,117.3 L425.2,114.3 L420.7,111.1 L416.6,107.8 L412.9,104.3 L409.6,100.7 L406.7,97.0 L404.2,93.2 L402.0,89.3 L400.1,85.3 L398.6,81.3 L397.4,77.2 L396.6,73.2 L396.0,69.1 L395.8,65.0 L396.0,60.9 L396.4,56.8 L397.2,52.8 L398.3,48.8 L399.8,44.9 L401.5,41.0 L403.7,37.2 L406.1,33.6 L409.0,30.0 L412.2,26.6 L415.8,23.3 L419.8,20.2 L424.2,17.3 L429.0,14.7 L434.3,12.3 L439.4,10.4 L441.4,9.4" stroke="#c4c4c4" stroke-opacity="0.75" stroke-width="0.6" fill="none"/>
<path d="M465.4,126.8 L458.2,127.1 L447.0,125.8 L437.1,123.8 L428.6,121.4 L421.1,118.7 L414.4,115.8 L408.5,112.7 L403.1,109.4 L398.3,106.0 L394.0,102.4 L390.2,98.7 L386.9,94.9 L384.0,91.1 L381.6,87.1 L379.6,83.1 L378.0,79.1 L376.9,75.0 L376.2,70.9 L375.9,66.8 L376.0,62.7 L376.6,58.6 L377.5,54.6 L378.9,50.5 L380.8,46.6 L383.0,42.7 L385.7,38.9 L388.9,35.1 L392.5,31.5 L396.6,28.0 L401.3,24.7 L406.4,21.5 L412.2,18.5 L418.6,15.7 L425.7,13.1 L433.5,10.9 L440.5,9.4" stroke="#c4c4c4" stroke-opacity="0.75" stroke-width="0.6" fill="none"/>
<path d="M465.8,126.9 L461.3,127.8 L444.3,126.6 L431.1,124.6 L420.4,122.3 L411.0,119.6 L402.8,116.7 L395.5,113.6 L388.9,110.4 L383.1,106.9 L377.8,103.4 L373.2,99.7 L369.2,96.0 L365.7,92.1 L362.7,88.2 L360.3,84.2 L358.5,80.1 L357.1,76.1 L356.3,72.0 L356.0,67.9 L356.2,63.8 L356.9,59.7 L358.1,55.6 L359.9,51.5 L362.2,47.6 L365.0,43.6 L368.4,39.8 L372.3,36.0 L376.8,32.4 L381.9,28.8 L387.6,25.4 L394.0,22.2 L401.2,19.1 L409.2,16.2 L418.3,13.6 L428.7,11.2 L439.8,9.5" stroke="#c4c4c4" stroke-opacity="0.75" stroke-width="0.6" fill="none"/>
<path d="M466.2,126.9 L470.7,127.8 L487.7,126.6 L500.9,124.6 L511.6,122.3 L521.0,119.6 L529.2,116.7 L536.5,113.6 L543.1,110.4 L548.9,106.9 L554.2,103.4 L558.8,99.7 L562.8,96.0 L566.3,92.1 L569.3,88.2 L571.7,84.2 L573.5,80.1 L574.9,76.1 L575.7,72.0 L576.0,67.9 L575.8,63.8 L575.1,59.7 L573.9,55.6 L572.1,51.5 L569.8,47.6 L567.0,43.6 L563.6,39.8 L559.7,36.0 L555.2,32.4 L550.1,28.8 L544.4,25.4 L538.0,22.2 L530.8,19.1 L522.8,16.2 L513.7,13.6 L503.3,11.2 L492.2,9.5" stroke="#c4c4c4" stroke-opacity="0.75" stroke-width="0.6" fill="none"/>
<path d="M466.6,126.8 L473.8,127.1 L485.0,125.8 L494.9,123.8 L503.4,121.4 L510.9,118.7 L517.6,115.8 L523.5,112.7 L528.9,109.4 L533.7,106.0 L538.0,102.4 L541.8,98.7 L545.1,94.9 L548.0,91.1 L550.4,87.1 L552.4,83.1 L554.0,79.1 L555.1,75.0 L555.8,70.9 L556.1,66.8 L556.0,62.7 L555.4,58.6 L554.5,54.6 L553.1,50.5 L551.2,46.6 L549.0,42.7 L546.3,38.9 L543.1,35.1 L539.5,31.5 L535.4,28.0 L530.7,24.7 L525.6,21.5 L519.8,18.5 L513.4,15.7 L506.3,13.1 L498.5,10.9 L491.5,9.4" stroke="#c4c4c4" stroke-opacity="0.75" stroke-width="0.6" fill="none"/>
<path d="M466.8,126.7 L474.3,126.3 L482.5,124.7 L489.8,122.6 L496.1,120.1 L501.8,117.3 L506.8,114.3 L511.3,111.1 L515.4,107.8 L519.1,104.3 L522.4,100.7 L525.3,97.0 L527.8,93.2 L530.0,89.3 L531.9,85.3 L533.4,81.3 L534.6,77.2 L535.4,73.2 L536.0,69.1 L536.2,65.0 L536.0,60.9 L535.6,56.8 L534.8,52.8 L533.7,48.8 L532.2,44.9 L530.5,41.0 L528.3,37.2 L525.9,33.6 L523.0,30.0 L519.8,26.6 L516.2,23.3 L512.2,20.2 L507.8,17.3 L503.0,14.7 L497.7,12.3 L492.6,10.4 L490.6,9.4" stroke="#c4c4c4" stroke-opacity="0.75" stroke-width="0.6" fill="none"/>
<path d="M495.8,112.7 L493.9,112.4 L492.0,112.2 L490.1,112.0 L488.2,111.7 L486.2,111.5 L484.2,111.3 L482.3,111.2 L480.3,111.0 L478.2,110.9 L476.2,110.8 L474.2,110.7 L472.1,110.6 L470.1,110.5 L468.1,110.5 L466.0,110.5 L463.9,110.5 L461.9,110.5 L459.9,110.6 L457.8,110.7 L455.8,110.8 L453.8,110.9 L451.7,111.0 L449.7,111.2 L447.8,111.3 L445.8,111.5 L443.8,111.7 L441.9,112.0 L440.0,112.2 L438.1,112.4 L436.2,112.7 L434.3,113.0 L432.5,113.2 L430.6,113.5 L428.8,113.8 L427.0,114.1 L425.2,114.3 L423.4,114.6 L421.6,114.9 L419.8,115.1 L418.0,115.4 L416.2,115.6 L414.4,115.8 L412.6,116.0 L410.7,116.2 L408.8,116.4 L406.9,116.5 L404.9,116.6 L402.8,116.7 L400.7,116.8 L398.5,116.8" stroke="#c4c4c4" stroke-opacity="0.75" stroke-width="0.6" fill="none"/>
<path d="M535.7,116.8 L533.5,116.8 L531.3,116.8 L529.2,116.7 L527.1,116.6 L525.1,116.5 L523.2,116.4 L521.3,116.2 L519.4,116.0 L517.6,115.8 L515.8,115.6 L514.0,115.4 L512.2,115.1 L510.4,114.9 L508.6,114.6 L506.8,114.3 L505.0,114.1 L503.2,113.8 L501.4,113.5 L499.5,113.2 L497.7,113.0 L495.8,112.7" stroke="#c4c4c4" stroke-opacity="0.75" stroke-width="0.6" fill="none"/>
<path d="M510.5,91.1 L507.6,90.8 L504.6,90.5 L501.7,90.2 L498.8,89.9 L495.8,89.7 L492.9,89.4 L489.9,89.2 L486.9,89.0 L483.9,88.8 L481.0,88.7 L478.0,88.5 L475.0,88.4 L472.0,88.4 L469.0,88.3 L466.0,88.3 L463.0,88.3 L460.0,88.4 L457.0,88.4 L454.0,88.5 L451.0,88.7 L448.1,88.8 L445.1,89.0 L442.1,89.2 L439.1,89.4 L436.2,89.7 L433.2,89.9 L430.3,90.2 L427.4,90.5 L424.4,90.8 L421.5,91.1 L418.6,91.5 L415.7,91.8 L412.8,92.1 L409.9,92.5 L407.1,92.8 L404.2,93.2 L401.3,93.5 L398.4,93.8 L395.6,94.1 L392.7,94.4 L389.8,94.7 L386.9,94.9 L384.0,95.2 L381.1,95.4 L378.1,95.6 L375.2,95.7 L372.2,95.8 L369.2,96.0 L366.1,96.0 L363.1,96.1" stroke="#c4c4c4" stroke-opacity="0.75" stroke-width="0.6" fill="none"/>
<path d="M572.0,96.1 L568.9,96.1 L565.9,96.0 L562.8,96.0 L559.8,95.8 L556.8,95.7 L553.9,95.6 L550.9,95.4 L548.0,95.2 L545.1,94.9 L542.2,94.7 L539.3,94.4 L536.4,94.1 L533.6,93.8 L530.7,93.5 L527.8,93.2 L524.9,92.8 L522.1,92.5 L519.2,92.1 L516.3,91.8 L513.4,91.5 L510.5,91.1" stroke="#c4c4c4" stroke-opacity="0.75" stroke-width="0.6" fill="none"/>
<path d="M516.0,66.9 L512.7,66.6 L509.4,66.3 L506.0,65.9 L502.7,65.6 L499.4,65.4 L496.0,65.1 L492.7,64.9 L489.4,64.6 L486.0,64.4 L482.7,64.3 L479.4,64.1 L476.0,64.0 L472.7,64.0 L469.3,63.9 L466.0,63.9 L462.7,63.9 L459.3,64.0 L456.0,64.0 L452.6,64.1 L449.3,64.3 L446.0,64.4 L442.6,64.6 L439.3,64.9 L436.0,65.1 L432.6,65.4 L429.3,65.6 L426.0,65.9 L422.6,66.3 L419.3,66.6 L416.0,66.9 L412.6,67.3 L409.3,67.6 L406.0,68.0 L402.7,68.4 L399.4,68.7 L396.0,69.1 L392.7,69.4 L389.4,69.7 L386.1,70.1 L382.8,70.4 L379.5,70.6 L376.2,70.9 L372.9,71.1 L369.6,71.4 L366.2,71.6 L362.9,71.7 L359.6,71.9 L356.3,72.0 L352.9,72.0 L349.6,72.1" stroke="#c4c4c4" stroke-opacity="0.75" stroke-width="0.6" fill="none"/>
<path d="M585.7,72.1 L582.4,72.1 L579.1,72.0 L575.7,72.0 L572.4,71.9 L569.1,71.7 L565.8,71.6 L562.4,71.4 L559.1,71.1 L555.8,70.9 L552.5,70.6 L549.2,70.4 L545.9,70.1 L542.6,69.7 L539.3,69.4 L536.0,69.1 L532.6,68.7 L529.3,68.4 L526.0,68.0 L522.7,67.6 L519.4,67.3 L516.0,66.9" stroke="#c4c4c4" stroke-opacity="0.75" stroke-width="0.6" fill="none"/>
<path d="M513.1,42.8 L510.0,42.5 L506.8,42.2 L503.6,41.9 L500.4,41.6 L497.3,41.3 L494.1,41.1 L491.0,40.8 L487.9,40.6 L484.7,40.4 L481.6,40.3 L478.5,40.2 L475.3,40.0 L472.2,40.0 L469.1,39.9 L466.0,39.9 L462.9,39.9 L459.8,40.0 L456.7,40.0 L453.5,40.2 L450.4,40.3 L447.3,40.4 L444.1,40.6 L441.0,40.8 L437.9,41.1 L434.7,41.3 L431.6,41.6 L428.4,41.9 L425.2,42.2 L422.0,42.5 L418.9,42.8 L415.7,43.2 L412.5,43.5 L409.3,43.9 L406.1,44.2 L402.9,44.5 L399.8,44.9 L396.6,45.2 L393.4,45.5 L390.2,45.8 L387.1,46.1 L383.9,46.3 L380.8,46.6 L377.6,46.8 L374.5,47.0 L371.4,47.2 L368.3,47.3 L365.2,47.5 L362.2,47.6 L359.1,47.6 L356.1,47.7" stroke="#c4c4c4" stroke-opacity="0.75" stroke-width="0.6" fill="none"/>
<path d="M578.9,47.7 L575.9,47.7 L572.9,47.6 L569.8,47.6 L566.8,47.5 L563.7,47.3 L560.6,47.2 L557.5,47.0 L554.4,46.8 L551.2,46.6 L548.1,46.3 L544.9,46.1 L541.8,45.8 L538.6,45.5 L535.4,45.2 L532.2,44.9 L529.1,44.5 L525.9,44.2 L522.7,43.9 L519.5,43.5 L516.3,43.2 L513.1,42.8" stroke="#c4c4c4" stroke-opacity="0.75" stroke-width="0.6" fill="none"/>
<path d="M501.5,21.7 L499.0,21.4 L496.6,21.1 L494.1,20.9 L491.7,20.6 L489.3,20.4 L486.9,20.2 L484.5,20.0 L482.2,19.8 L479.8,19.6 L477.5,19.5 L475.2,19.4 L472.9,19.3 L470.6,19.2 L468.3,19.2 L466.0,19.2 L463.7,19.2 L461.4,19.2 L459.1,19.3 L456.8,19.4 L454.5,19.5 L452.2,19.6 L449.8,19.8 L447.5,20.0 L445.1,20.2 L442.7,20.4 L440.3,20.6 L437.9,20.9 L435.4,21.1 L433.0,21.4 L430.5,21.7 L428.1,21.9 L425.6,22.2 L423.2,22.5 L420.7,22.8 L418.2,23.0 L415.8,23.3 L413.3,23.6 L410.9,23.8 L408.4,24.0 L406.0,24.3 L403.6,24.5 L401.3,24.7 L398.9,24.8 L396.6,25.0 L394.3,25.1 L392.0,25.2 L389.8,25.3 L387.6,25.4 L385.4,25.5 L383.3,25.5" stroke="#c4c4c4" stroke-opacity="0.75" stroke-width="0.6" fill="none"/>
<path d="M550.7,25.5 L548.7,25.5 L546.6,25.5 L544.4,25.4 L542.2,25.3 L540.0,25.2 L537.7,25.1 L535.4,25.0 L533.1,24.8 L530.7,24.7 L528.4,24.5 L526.0,24.3 L523.6,24.0 L521.1,23.8 L518.7,23.6 L516.2,23.3 L513.8,23.0 L511.3,22.8 L508.8,22.5 L506.4,22.2 L503.9,21.9 L501.5,21.7" stroke="#c4c4c4" stroke-opacity="0.75" stroke-width="0.6" fill="none"/>
</g>
<ellipse cx="466" cy="68" rx="120.0" ry="60.0" fill="none" stroke="#506060" stroke-opacity="0.55" stroke-width="0.7"/>
<text x="356.3" y="71.2" text-anchor="middle" fill="#dcdcdc" font-size="6.5">-120</text>
<text x="376.2" y="70.1" text-anchor="middle" fill="#dcdcdc" font-size="6.5">-150</text>
<text x="396.0" y="68.3" text-anchor="middle" fill="#dcdcdc" font-size="6.5">180</text>
<text x="416.0" y="66.1" text-anchor="middle" fill="#dcdcdc" font-size="6.5">150</text>
<text x="436.0" y="64.3" text-anchor="middle" fill="#dcdcdc" font-size="6.5">120</text>
<text x="456.0" y="63.2" text-anchor="middle" fill="#dcdcdc" font-size="6.5">90</text>
<text x="476.0" y="63.2" text-anchor="middle" fill="#dcdcdc" font-size="6.5">60</text>
<text x="496.0" y="64.3" text-anchor="middle" fill="#dcdcdc" font-size="6.5">30</text>
<text x="516.0" y="66.1" text-anchor="middle" fill="#dcdcdc" font-size="6.5">0</text>
<text x="536.0" y="68.3" text-anchor="middle" fill="#dcdcdc" font-size="6.5">-30</text>
<text x="555.8" y="70.1" text-anchor="middle" fill="#dcdcdc" font-size="6.5">-60</text>
<text x="575.7" y="71.2" text-anchor="middle" fill="#dcdcdc" font-size="6.5">-90</text>
<text x="500.5" y="21.9" text-anchor="middle" fill="#dcdcdc" font-size="6.5">60</text>
<text x="512.1" y="43.0" text-anchor="middle" fill="#dcdcdc" font-size="6.5">30</text>
<text x="509.5" y="91.3" text-anchor="middle" fill="#dcdcdc" font-size="6.5">-30</text>
<text x="494.8" y="112.9" text-anchor="middle" fill="#dcdcdc" font-size="6.5">-60</text>
<text x="490.6" y="8.9" text-anchor="middle" fill="#ababab" font-size="7">90</text>
<circle cx="463.9" cy="67.5" r="1.3" fill="#111"/>
<text x="462.5" y="65.0" fill="#111" stroke="#111" stroke-width="0.15" font-size="7.6">Tail</text>
<circle cx="356.4" cy="44.0" r="1.3" fill="#111"/>
<circle cx="584.4" cy="67.8" r="1.3" fill="#111"/>
<text x="582.4" y="65.7" fill="#7a1c1c" stroke="#7a1c1c" stroke-width="0.12" font-size="8">Nose</text>
<text x="573.2" y="41.8" fill="#7a1c1c" stroke="#7a1c1c" stroke-width="0.12" font-size="8">V1</text>
<circle cx="551.4" cy="96.5" r="1.3" fill="#111"/>
<text x="552.2" y="94.4" fill="#111" stroke="#111" stroke-width="0.12" font-size="8">V2</text>
<text x="332" y="21" fill="#000" stroke="#000" stroke-width="0.25" font-size="14.5">1.1 keV</text>
<rect x="346.5" y="136" width="240.0" height="4.3" fill="url(#jet)"/>
<text x="346.50" y="152.8" text-anchor="middle" fill="#6e1818" font-size="8">0</text>
<line x1="380.79" y1="136" x2="380.79" y2="140.3" stroke="#333" stroke-opacity="0.5" stroke-width="0.5"/>
<text x="380.79" y="152.8" text-anchor="middle" fill="#6e1818" font-size="8">20</text>
<line x1="415.07" y1="136" x2="415.07" y2="140.3" stroke="#333" stroke-opacity="0.5" stroke-width="0.5"/>
<text x="415.07" y="152.8" text-anchor="middle" fill="#6e1818" font-size="8">40</text>
<line x1="449.36" y1="136" x2="449.36" y2="140.3" stroke="#333" stroke-opacity="0.5" stroke-width="0.5"/>
<text x="449.36" y="152.8" text-anchor="middle" fill="#6e1818" font-size="8">60</text>
<line x1="483.64" y1="136" x2="483.64" y2="140.3" stroke="#333" stroke-opacity="0.5" stroke-width="0.5"/>
<text x="483.64" y="152.8" text-anchor="middle" fill="#6e1818" font-size="8">80</text>
<line x1="517.93" y1="136" x2="517.93" y2="140.3" stroke="#333" stroke-opacity="0.5" stroke-width="0.5"/>
<text x="517.93" y="152.8" text-anchor="middle" fill="#6e1818" font-size="8">100</text>
<line x1="552.21" y1="136" x2="552.21" y2="140.3" stroke="#333" stroke-opacity="0.5" stroke-width="0.5"/>
<text x="552.21" y="152.8" text-anchor="middle" fill="#6e1818" font-size="8">120</text>
<text x="586.50" y="152.8" text-anchor="middle" fill="#6e1818" font-size="8">140</text>
<g clip-path="url(#c2)"><g filter="url(#bl)">
<path fill="#26f4ce" d="M23.50 165.00h246.25v8.25h-246.25zM23.50 173.00h78.25v5.25h-78.25zM116.50 173.00h5.25v5.25h-5.25zM151.50 173.00h118.25v5.25h-118.25zM23.50 178.00h78.25v5.25h-78.25zM156.50 178.00h113.25v5.25h-113.25zM71.50 183.00h30.25v5.25h-30.25zM161.50 183.00h108.25v5.25h-108.25zM76.50 188.00h30.25v5.25h-30.25zM166.50 188.00h103.25v5.25h-103.25zM76.50 193.00h5.25v5.25h-5.25zM171.50 193.00h90.25v5.25h-90.25zM171.50 198.00h85.25v5.25h-85.25zM236.50 203.00h5.25v5.25h-5.25zM166.50 213.00h5.25v5.25h-5.25zM81.50 218.00h5.25v5.25h-5.25zM91.50 223.00h10.25v5.25h-10.25zM91.50 228.00h10.25v5.25h-10.25zM91.50 233.00h10.25v5.25h-10.25zM91.50 238.00h10.25v5.25h-10.25zM226.50 238.00h5.25v5.25h-5.25zM91.50 243.00h15.25v5.25h-15.25zM91.50 248.00h20.25v5.25h-20.25zM166.50 248.00h5.25v5.25h-5.25zM86.50 253.00h25.25v5.25h-25.25zM211.50 253.00h10.25v5.25h-10.25zM81.50 258.00h15.25v5.25h-15.25zM106.50 258.00h5.25v5.25h-5.25zM211.50 258.00h5.25v5.25h-5.25zM66.50 263.00h30.25v5.25h-30.25zM106.50 263.00h10.25v5.25h-10.25zM136.50 263.00h5.25v5.25h-5.25zM201.50 263.00h15.25v5.25h-15.25zM236.50 263.00h33.25v5.25h-33.25zM61.50 268.00h60.25v5.25h-60.25zM131.50 268.00h10.25v5.25h-10.25zM201.50 268.00h20.25v5.25h-20.25zM231.50 268.00h38.25v5.25h-38.25zM23.50 273.00h108.25v5.25h-108.25zM191.50 273.00h78.25v5.25h-78.25zM23.50 278.00h108.25v5.25h-108.25zM191.50 278.00h78.25v5.25h-78.25zM23.50 283.00h108.25v8.25h-108.25zM181.50 283.00h88.25v8.25h-88.25z"/>
<path fill="#16f4dd" d="M101.50 173.00h15.25v5.25h-15.25zM101.50 178.00h5.25v5.25h-5.25zM101.50 183.00h5.25v5.25h-5.25zM111.50 183.00h5.25v5.25h-5.25zM101.50 193.00h5.25v5.25h-5.25zM171.50 203.00h10.25v5.25h-10.25zM231.50 203.00h5.25v5.25h-5.25zM171.50 208.00h5.25v5.25h-5.25zM76.50 213.00h5.25v5.25h-5.25zM86.50 218.00h5.25v5.25h-5.25zM101.50 218.00h5.25v5.25h-5.25zM166.50 233.00h5.25v5.25h-5.25zM231.50 233.00h5.25v5.25h-5.25zM216.50 243.00h5.25v5.25h-5.25zM211.50 248.00h10.25v5.25h-10.25zM166.50 253.00h5.25v5.25h-5.25zM206.50 253.00h5.25v5.25h-5.25zM161.50 258.00h5.25v5.25h-5.25zM201.50 258.00h10.25v5.25h-10.25zM141.50 263.00h10.25v5.25h-10.25zM196.50 263.00h5.25v5.25h-5.25zM141.50 268.00h5.25v5.25h-5.25zM191.50 268.00h10.25v5.25h-10.25zM131.50 273.00h10.25v5.25h-10.25zM186.50 273.00h5.25v5.25h-5.25zM131.50 278.00h5.25v5.25h-5.25zM181.50 278.00h10.25v5.25h-10.25z"/>
<path fill="#35f4bf" d="M121.50 173.00h30.25v5.25h-30.25zM116.50 178.00h5.25v5.25h-5.25zM23.50 183.00h48.25v5.25h-48.25zM106.50 188.00h5.25v5.25h-5.25zM166.50 193.00h5.25v5.25h-5.25zM261.50 193.00h8.25v5.25h-8.25zM106.50 198.00h5.25v5.25h-5.25zM71.50 203.00h5.25v5.25h-5.25zM106.50 203.00h5.25v5.25h-5.25zM241.50 203.00h10.25v5.25h-10.25zM71.50 208.00h5.25v5.25h-5.25zM236.50 208.00h5.25v5.25h-5.25zM236.50 213.00h5.25v5.25h-5.25zM236.50 218.00h5.25v5.25h-5.25zM86.50 223.00h5.25v5.25h-5.25zM101.50 223.00h5.25v5.25h-5.25zM86.50 228.00h5.25v5.25h-5.25zM101.50 228.00h5.25v5.25h-5.25zM86.50 233.00h5.25v5.25h-5.25zM101.50 233.00h5.25v5.25h-5.25zM86.50 238.00h5.25v5.25h-5.25zM101.50 238.00h5.25v5.25h-5.25zM86.50 243.00h5.25v5.25h-5.25zM221.50 243.00h5.25v5.25h-5.25zM86.50 248.00h5.25v5.25h-5.25zM221.50 248.00h5.25v5.25h-5.25zM111.50 253.00h5.25v5.25h-5.25zM221.50 253.00h5.25v5.25h-5.25zM71.50 258.00h10.25v5.25h-10.25zM111.50 258.00h5.25v5.25h-5.25zM156.50 258.00h5.25v5.25h-5.25zM236.50 258.00h10.25v5.25h-10.25zM23.50 268.00h38.25v5.25h-38.25zM121.50 268.00h10.25v5.25h-10.25zM221.50 268.00h10.25v5.25h-10.25z"/>
<path fill="#00edf4" d="M106.50 178.00h10.25v5.25h-10.25zM106.50 183.00h5.25v5.25h-5.25zM76.50 198.00h5.25v5.25h-5.25zM176.50 208.00h5.25v5.25h-5.25zM231.50 208.00h5.25v5.25h-5.25zM231.50 223.00h5.25v5.25h-5.25zM231.50 228.00h5.25v5.25h-5.25zM216.50 238.00h5.25v5.25h-5.25zM211.50 243.00h5.25v5.25h-5.25zM206.50 248.00h5.25v5.25h-5.25zM201.50 253.00h5.25v5.25h-5.25zM166.50 258.00h5.25v5.25h-5.25zM196.50 258.00h5.25v5.25h-5.25zM161.50 263.00h5.25v5.25h-5.25zM191.50 263.00h5.25v5.25h-5.25zM146.50 268.00h5.25v5.25h-5.25zM186.50 268.00h5.25v5.25h-5.25zM141.50 273.00h5.25v5.25h-5.25zM181.50 273.00h5.25v5.25h-5.25zM136.50 278.00h5.25v5.25h-5.25zM176.50 278.00h5.25v5.25h-5.25z"/>
<path fill="#54f4a0" d="M121.50 178.00h30.25v5.25h-30.25zM116.50 183.00h5.25v5.25h-5.25zM23.50 188.00h48.25v5.25h-48.25zM111.50 188.00h5.25v5.25h-5.25zM261.50 198.00h8.25v5.25h-8.25zM106.50 208.00h5.25v5.25h-5.25zM241.50 208.00h10.25v5.25h-10.25zM71.50 213.00h5.25v5.25h-5.25zM76.50 218.00h5.25v5.25h-5.25zM106.50 218.00h5.25v5.25h-5.25zM81.50 223.00h5.25v5.25h-5.25zM106.50 223.00h5.25v5.25h-5.25zM161.50 223.00h5.25v5.25h-5.25zM81.50 228.00h5.25v5.25h-5.25zM106.50 228.00h5.25v5.25h-5.25zM81.50 233.00h5.25v5.25h-5.25zM106.50 233.00h5.25v5.25h-5.25zM81.50 238.00h5.25v5.25h-5.25zM106.50 238.00h5.25v5.25h-5.25zM81.50 243.00h5.25v5.25h-5.25zM226.50 243.00h5.25v5.25h-5.25zM81.50 248.00h5.25v5.25h-5.25zM161.50 248.00h5.25v5.25h-5.25zM226.50 248.00h5.25v5.25h-5.25zM71.50 253.00h10.25v5.25h-10.25zM116.50 253.00h5.25v5.25h-5.25zM226.50 253.00h15.25v5.25h-15.25zM116.50 258.00h5.25v5.25h-5.25zM136.50 258.00h5.25v5.25h-5.25zM221.50 258.00h15.25v5.25h-15.25zM256.50 258.00h13.25v5.25h-13.25zM23.50 263.00h38.25v5.25h-38.25zM121.50 263.00h10.25v5.25h-10.25zM221.50 263.00h10.25v5.25h-10.25z"/>
<path fill="#44f4af" d="M151.50 178.00h5.25v5.25h-5.25zM156.50 183.00h5.25v5.25h-5.25zM71.50 188.00h5.25v5.25h-5.25zM161.50 188.00h5.25v5.25h-5.25zM71.50 193.00h5.25v5.25h-5.25zM106.50 193.00h5.25v5.25h-5.25zM71.50 198.00h5.25v5.25h-5.25zM166.50 198.00h5.25v5.25h-5.25zM256.50 198.00h5.25v5.25h-5.25zM166.50 203.00h5.25v5.25h-5.25zM251.50 203.00h5.25v5.25h-5.25zM166.50 208.00h5.25v5.25h-5.25zM161.50 218.00h5.25v5.25h-5.25zM236.50 223.00h5.25v5.25h-5.25zM231.50 238.00h5.25v5.25h-5.25zM106.50 243.00h5.25v5.25h-5.25zM111.50 248.00h5.25v5.25h-5.25zM81.50 253.00h5.25v5.25h-5.25zM161.50 253.00h5.25v5.25h-5.25zM66.50 258.00h5.25v5.25h-5.25zM96.50 258.00h10.25v5.25h-10.25zM141.50 258.00h15.25v5.25h-15.25zM216.50 258.00h5.25v5.25h-5.25zM246.50 258.00h10.25v5.25h-10.25zM61.50 263.00h5.25v5.25h-5.25zM96.50 263.00h10.25v5.25h-10.25zM116.50 263.00h5.25v5.25h-5.25zM131.50 263.00h5.25v5.25h-5.25zM216.50 263.00h5.25v5.25h-5.25zM231.50 263.00h5.25v5.25h-5.25z"/>
<path fill="#72f482" d="M121.50 183.00h5.25v5.25h-5.25zM136.50 183.00h15.25v5.25h-15.25zM36.50 193.00h10.25v5.25h-10.25zM56.50 193.00h10.25v5.25h-10.25zM111.50 193.00h5.25v5.25h-5.25zM31.50 198.00h5.25v5.25h-5.25zM66.50 198.00h5.25v5.25h-5.25zM66.50 203.00h5.25v5.25h-5.25zM261.50 203.00h8.25v5.25h-8.25zM66.50 208.00h5.25v5.25h-5.25zM161.50 213.00h5.25v5.25h-5.25zM246.50 213.00h5.25v5.25h-5.25zM241.50 218.00h5.25v5.25h-5.25zM76.50 223.00h5.25v5.25h-5.25zM76.50 228.00h5.25v5.25h-5.25zM76.50 233.00h5.25v5.25h-5.25zM236.50 233.00h5.25v5.25h-5.25zM76.50 238.00h5.25v5.25h-5.25zM111.50 238.00h5.25v5.25h-5.25zM76.50 243.00h5.25v5.25h-5.25zM71.50 248.00h5.25v5.25h-5.25zM241.50 248.00h5.25v5.25h-5.25zM121.50 253.00h5.25v5.25h-5.25zM56.50 258.00h5.25v5.25h-5.25zM126.50 258.00h5.25v5.25h-5.25z"/>
<path fill="#82f472" d="M126.50 183.00h10.25v5.25h-10.25zM116.50 188.00h5.25v5.25h-5.25zM151.50 188.00h5.25v5.25h-5.25zM46.50 193.00h10.25v5.25h-10.25zM156.50 193.00h5.25v5.25h-5.25zM36.50 198.00h5.25v5.25h-5.25zM61.50 198.00h5.25v5.25h-5.25zM111.50 198.00h5.25v5.25h-5.25zM161.50 198.00h5.25v5.25h-5.25zM161.50 203.00h5.25v5.25h-5.25zM161.50 208.00h5.25v5.25h-5.25zM256.50 208.00h5.25v5.25h-5.25zM66.50 213.00h5.25v5.25h-5.25zM71.50 218.00h5.25v5.25h-5.25zM111.50 233.00h5.25v5.25h-5.25zM71.50 243.00h5.25v5.25h-5.25zM116.50 243.00h5.25v5.25h-5.25zM241.50 243.00h5.25v5.25h-5.25zM66.50 248.00h5.25v5.25h-5.25zM121.50 248.00h5.25v5.25h-5.25zM156.50 248.00h5.25v5.25h-5.25zM61.50 253.00h5.25v5.25h-5.25zM126.50 253.00h5.25v5.25h-5.25zM141.50 253.00h15.25v5.25h-15.25zM246.50 253.00h5.25v5.25h-5.25zM23.50 258.00h33.25v5.25h-33.25z"/>
<path fill="#63f491" d="M151.50 183.00h5.25v5.25h-5.25zM156.50 188.00h5.25v5.25h-5.25zM23.50 193.00h13.25v5.25h-13.25zM66.50 193.00h5.25v5.25h-5.25zM161.50 193.00h5.25v5.25h-5.25zM23.50 198.00h8.25v5.25h-8.25zM256.50 203.00h5.25v5.25h-5.25zM251.50 208.00h5.25v5.25h-5.25zM106.50 213.00h5.25v5.25h-5.25zM241.50 213.00h5.25v5.25h-5.25zM236.50 228.00h5.25v5.25h-5.25zM236.50 238.00h5.25v5.25h-5.25zM111.50 243.00h5.25v5.25h-5.25zM161.50 243.00h5.25v5.25h-5.25zM231.50 243.00h10.25v5.25h-10.25zM76.50 248.00h5.25v5.25h-5.25zM116.50 248.00h5.25v5.25h-5.25zM231.50 248.00h10.25v5.25h-10.25zM66.50 253.00h5.25v5.25h-5.25zM156.50 253.00h5.25v5.25h-5.25zM241.50 253.00h5.25v5.25h-5.25zM61.50 258.00h5.25v5.25h-5.25zM121.50 258.00h5.25v5.25h-5.25zM131.50 258.00h5.25v5.25h-5.25z"/>
<path fill="#a0f454" d="M121.50 188.00h5.25v5.25h-5.25zM136.50 188.00h5.25v5.25h-5.25zM116.50 193.00h5.25v5.25h-5.25zM41.50 198.00h5.25v5.25h-5.25zM56.50 198.00h5.25v5.25h-5.25zM31.50 203.00h5.25v5.25h-5.25zM111.50 223.00h5.25v5.25h-5.25zM116.50 238.00h5.25v5.25h-5.25zM246.50 248.00h5.25v5.25h-5.25zM56.50 253.00h5.25v5.25h-5.25z"/>
<path fill="#bff435" d="M126.50 188.00h10.25v5.25h-10.25zM141.50 193.00h10.25v5.25h-10.25zM46.50 198.00h10.25v5.25h-10.25zM116.50 198.00h5.25v5.25h-5.25zM56.50 203.00h5.25v5.25h-5.25zM156.50 203.00h5.25v5.25h-5.25zM156.50 208.00h5.25v5.25h-5.25zM261.50 213.00h8.25v5.25h-8.25zM66.50 223.00h5.25v5.25h-5.25zM66.50 228.00h5.25v5.25h-5.25zM66.50 233.00h5.25v5.25h-5.25zM116.50 233.00h5.25v5.25h-5.25zM161.50 233.00h5.25v5.25h-5.25zM66.50 238.00h5.25v5.25h-5.25zM246.50 243.00h5.25v5.25h-5.25zM131.50 248.00h5.25v5.25h-5.25zM51.50 253.00h5.25v5.25h-5.25zM261.50 253.00h8.25v5.25h-8.25z"/>
<path fill="#91f463" d="M141.50 188.00h10.25v5.25h-10.25zM23.50 203.00h8.25v5.25h-8.25zM61.50 203.00h5.25v5.25h-5.25zM111.50 203.00h5.25v5.25h-5.25zM61.50 208.00h5.25v5.25h-5.25zM261.50 208.00h8.25v5.25h-8.25zM251.50 213.00h5.25v5.25h-5.25zM156.50 218.00h5.25v5.25h-5.25zM71.50 223.00h5.25v5.25h-5.25zM241.50 223.00h5.25v5.25h-5.25zM71.50 228.00h5.25v5.25h-5.25zM111.50 228.00h5.25v5.25h-5.25zM71.50 233.00h5.25v5.25h-5.25zM71.50 238.00h5.25v5.25h-5.25zM161.50 238.00h5.25v5.25h-5.25zM241.50 238.00h5.25v5.25h-5.25zM131.50 253.00h10.25v5.25h-10.25zM251.50 253.00h5.25v5.25h-5.25z"/>
<path fill="#07f4ed" d="M81.50 193.00h20.25v5.25h-20.25zM181.50 203.00h50.25v5.25h-50.25zM91.50 218.00h10.25v5.25h-10.25zM166.50 228.00h5.25v5.25h-5.25zM166.50 238.00h5.25v5.25h-5.25zM221.50 238.00h5.25v5.25h-5.25zM166.50 243.00h5.25v5.25h-5.25zM151.50 263.00h10.25v5.25h-10.25zM131.50 283.00h5.25v8.25h-5.25zM176.50 283.00h5.25v8.25h-5.25z"/>
<path fill="#cef426" d="M121.50 193.00h5.25v5.25h-5.25zM136.50 193.00h5.25v5.25h-5.25zM151.50 198.00h5.25v5.25h-5.25zM41.50 203.00h5.25v5.25h-5.25zM116.50 203.00h5.25v5.25h-5.25zM56.50 208.00h5.25v5.25h-5.25zM61.50 218.00h5.25v5.25h-5.25zM151.50 218.00h5.25v5.25h-5.25zM251.50 218.00h5.25v5.25h-5.25zM246.50 223.00h5.25v5.25h-5.25zM121.50 238.00h5.25v5.25h-5.25zM246.50 238.00h5.25v5.25h-5.25zM61.50 243.00h5.25v5.25h-5.25zM126.50 243.00h5.25v5.25h-5.25zM56.50 248.00h5.25v5.25h-5.25zM136.50 248.00h15.25v5.25h-15.25zM251.50 248.00h5.25v5.25h-5.25zM23.50 253.00h28.25v5.25h-28.25z"/>
<path fill="#edf407" d="M126.50 193.00h10.25v5.25h-10.25zM121.50 198.00h5.25v5.25h-5.25zM136.50 198.00h5.25v5.25h-5.25zM46.50 203.00h10.25v5.25h-10.25zM36.50 208.00h10.25v5.25h-10.25zM116.50 213.00h5.25v5.25h-5.25zM116.50 228.00h5.25v5.25h-5.25zM51.50 243.00h10.25v5.25h-10.25zM131.50 243.00h5.25v5.25h-5.25zM151.50 243.00h5.25v5.25h-5.25zM251.50 243.00h10.25v5.25h-10.25zM51.50 248.00h5.25v5.25h-5.25zM256.50 248.00h5.25v5.25h-5.25z"/>
<path fill="#aff444" d="M151.50 193.00h5.25v5.25h-5.25zM156.50 198.00h5.25v5.25h-5.25zM36.50 203.00h5.25v5.25h-5.25zM111.50 208.00h5.25v5.25h-5.25zM61.50 213.00h5.25v5.25h-5.25zM111.50 213.00h5.25v5.25h-5.25zM156.50 213.00h5.25v5.25h-5.25zM256.50 213.00h5.25v5.25h-5.25zM66.50 218.00h5.25v5.25h-5.25zM111.50 218.00h5.25v5.25h-5.25zM246.50 218.00h5.25v5.25h-5.25zM156.50 223.00h5.25v5.25h-5.25zM161.50 228.00h5.25v5.25h-5.25zM241.50 228.00h5.25v5.25h-5.25zM241.50 233.00h5.25v5.25h-5.25zM66.50 243.00h5.25v5.25h-5.25zM121.50 243.00h5.25v5.25h-5.25zM156.50 243.00h5.25v5.25h-5.25zM61.50 248.00h5.25v5.25h-5.25zM126.50 248.00h5.25v5.25h-5.25zM151.50 248.00h5.25v5.25h-5.25zM256.50 253.00h5.25v5.25h-5.25z"/>
<path fill="#00cef4" d="M81.50 198.00h15.25v5.25h-15.25zM101.50 198.00h5.25v5.25h-5.25zM181.50 208.00h5.25v5.25h-5.25zM196.50 208.00h20.25v5.25h-20.25zM226.50 208.00h5.25v5.25h-5.25zM91.50 213.00h5.25v5.25h-5.25zM166.50 223.00h5.25v5.25h-5.25zM226.50 233.00h5.25v5.25h-5.25zM211.50 238.00h5.25v5.25h-5.25zM151.50 268.00h10.25v5.25h-10.25zM146.50 273.00h5.25v5.25h-5.25zM141.50 278.00h5.25v5.25h-5.25zM136.50 283.00h5.25v8.25h-5.25zM171.50 283.00h5.25v8.25h-5.25z"/>
<path fill="#00aff4" d="M96.50 198.00h5.25v5.25h-5.25zM91.50 203.00h5.25v5.25h-5.25zM91.50 208.00h5.25v5.25h-5.25zM186.50 208.00h10.25v5.25h-10.25zM216.50 208.00h10.25v5.25h-10.25zM96.50 213.00h5.25v5.25h-5.25zM176.50 213.00h5.25v5.25h-5.25zM201.50 213.00h5.25v5.25h-5.25zM211.50 213.00h5.25v5.25h-5.25zM226.50 213.00h5.25v5.25h-5.25zM206.50 218.00h10.25v5.25h-10.25zM226.50 218.00h5.25v5.25h-5.25zM211.50 223.00h5.25v5.25h-5.25zM226.50 223.00h5.25v5.25h-5.25zM206.50 228.00h10.25v5.25h-10.25zM226.50 228.00h5.25v5.25h-5.25zM206.50 233.00h5.25v5.25h-5.25zM216.50 233.00h10.25v5.25h-10.25zM206.50 238.00h5.25v5.25h-5.25zM171.50 243.00h5.25v5.25h-5.25zM171.50 263.00h5.25v5.25h-5.25zM176.50 268.00h5.25v5.25h-5.25zM161.50 273.00h5.25v5.25h-5.25zM166.50 278.00h5.25v5.25h-5.25z"/>
<path fill="#f4ce00" d="M126.50 198.00h10.25v5.25h-10.25zM46.50 208.00h5.25v5.25h-5.25zM31.50 213.00h5.25v5.25h-5.25zM51.50 213.00h5.25v5.25h-5.25zM51.50 218.00h5.25v5.25h-5.25zM116.50 218.00h5.25v5.25h-5.25zM46.50 223.00h10.25v5.25h-10.25zM116.50 223.00h5.25v5.25h-5.25zM136.50 223.00h5.25v5.25h-5.25zM146.50 233.00h5.25v5.25h-5.25zM131.50 238.00h5.25v5.25h-5.25z"/>
<path fill="#ddf416" d="M141.50 198.00h10.25v5.25h-10.25zM151.50 203.00h5.25v5.25h-5.25zM116.50 208.00h5.25v5.25h-5.25zM151.50 208.00h5.25v5.25h-5.25zM56.50 213.00h5.25v5.25h-5.25zM151.50 213.00h5.25v5.25h-5.25zM256.50 218.00h13.25v5.25h-13.25zM61.50 223.00h5.25v5.25h-5.25zM151.50 223.00h5.25v5.25h-5.25zM61.50 228.00h5.25v5.25h-5.25zM246.50 228.00h5.25v5.25h-5.25zM61.50 233.00h5.25v5.25h-5.25zM246.50 233.00h5.25v5.25h-5.25zM61.50 238.00h5.25v5.25h-5.25zM156.50 238.00h5.25v5.25h-5.25z"/>
<path fill="#00ddf4" d="M76.50 203.00h5.25v5.25h-5.25zM76.50 208.00h5.25v5.25h-5.25zM81.50 213.00h10.25v5.25h-10.25zM101.50 213.00h5.25v5.25h-5.25zM171.50 213.00h5.25v5.25h-5.25zM231.50 213.00h5.25v5.25h-5.25zM166.50 218.00h5.25v5.25h-5.25zM231.50 218.00h5.25v5.25h-5.25zM171.50 248.00h5.25v5.25h-5.25zM171.50 253.00h5.25v5.25h-5.25z"/>
<path fill="#00bff4" d="M81.50 203.00h10.25v5.25h-10.25zM101.50 203.00h5.25v5.25h-5.25zM81.50 208.00h10.25v5.25h-10.25zM101.50 208.00h5.25v5.25h-5.25zM206.50 213.00h5.25v5.25h-5.25zM211.50 233.00h5.25v5.25h-5.25zM206.50 243.00h5.25v5.25h-5.25zM201.50 248.00h5.25v5.25h-5.25zM196.50 253.00h5.25v5.25h-5.25zM171.50 258.00h5.25v5.25h-5.25zM191.50 258.00h5.25v5.25h-5.25zM166.50 263.00h5.25v5.25h-5.25zM186.50 263.00h5.25v5.25h-5.25zM161.50 268.00h5.25v5.25h-5.25zM181.50 268.00h5.25v5.25h-5.25zM151.50 273.00h10.25v5.25h-10.25zM176.50 273.00h5.25v5.25h-5.25zM146.50 278.00h20.25v5.25h-20.25zM171.50 278.00h5.25v5.25h-5.25zM141.50 283.00h30.25v8.25h-30.25z"/>
<path fill="#0091f4" d="M96.50 203.00h5.25v5.25h-5.25zM96.50 208.00h5.25v5.25h-5.25zM186.50 213.00h10.25v5.25h-10.25zM216.50 213.00h10.25v5.25h-10.25zM171.50 218.00h5.25v5.25h-5.25zM216.50 218.00h10.25v5.25h-10.25zM216.50 223.00h10.25v5.25h-10.25zM171.50 228.00h5.25v5.25h-5.25zM216.50 228.00h10.25v5.25h-10.25zM171.50 233.00h5.25v5.25h-5.25zM201.50 233.00h5.25v5.25h-5.25zM201.50 238.00h5.25v5.25h-5.25zM196.50 243.00h5.25v5.25h-5.25zM176.50 248.00h5.25v5.25h-5.25zM191.50 248.00h5.25v5.25h-5.25zM186.50 253.00h5.25v5.25h-5.25zM176.50 258.00h10.25v5.25h-10.25z"/>
<path fill="#f4dd00" d="M121.50 203.00h5.25v5.25h-5.25zM136.50 203.00h5.25v5.25h-5.25zM51.50 208.00h5.25v5.25h-5.25zM121.50 208.00h5.25v5.25h-5.25zM136.50 208.00h5.25v5.25h-5.25zM41.50 213.00h5.25v5.25h-5.25zM136.50 213.00h5.25v5.25h-5.25zM23.50 218.00h8.25v5.25h-8.25zM41.50 218.00h5.25v5.25h-5.25zM136.50 218.00h5.25v5.25h-5.25zM141.50 223.00h5.25v5.25h-5.25zM146.50 228.00h5.25v5.25h-5.25zM151.50 233.00h10.25v5.25h-10.25zM151.50 238.00h5.25v5.25h-5.25zM136.50 243.00h15.25v5.25h-15.25z"/>
<path fill="#f4bf00" d="M126.50 203.00h10.25v5.25h-10.25zM23.50 213.00h8.25v5.25h-8.25zM46.50 213.00h5.25v5.25h-5.25zM121.50 213.00h5.25v5.25h-5.25zM46.50 218.00h5.25v5.25h-5.25zM131.50 218.00h5.25v5.25h-5.25zM121.50 228.00h5.25v5.25h-5.25zM146.50 238.00h5.25v5.25h-5.25z"/>
<path fill="#f4ed00" d="M141.50 203.00h10.25v5.25h-10.25zM23.50 208.00h13.25v5.25h-13.25zM141.50 208.00h10.25v5.25h-10.25zM36.50 213.00h5.25v5.25h-5.25zM141.50 213.00h10.25v5.25h-10.25zM31.50 218.00h10.25v5.25h-10.25zM56.50 218.00h5.25v5.25h-5.25zM141.50 218.00h10.25v5.25h-10.25zM23.50 223.00h23.25v5.25h-23.25zM56.50 223.00h5.25v5.25h-5.25zM146.50 223.00h5.25v5.25h-5.25zM251.50 223.00h18.25v5.25h-18.25zM23.50 228.00h38.25v5.25h-38.25zM151.50 228.00h10.25v5.25h-10.25zM251.50 228.00h18.25v5.25h-18.25zM23.50 233.00h38.25v5.25h-38.25zM121.50 233.00h5.25v5.25h-5.25zM251.50 233.00h18.25v5.25h-18.25zM23.50 238.00h38.25v5.25h-38.25zM126.50 238.00h5.25v5.25h-5.25zM251.50 238.00h18.25v5.25h-18.25zM23.50 243.00h28.25v5.25h-28.25zM261.50 243.00h8.25v5.25h-8.25zM23.50 248.00h28.25v5.25h-28.25zM261.50 248.00h8.25v5.25h-8.25z"/>
<path fill="#f4a000" d="M126.50 208.00h10.25v5.25h-10.25zM126.50 213.00h10.25v5.25h-10.25zM121.50 218.00h10.25v5.25h-10.25zM121.50 223.00h10.25v5.25h-10.25zM126.50 228.00h5.25v5.25h-5.25zM141.50 233.00h5.25v5.25h-5.25z"/>
<path fill="#00a0f4" d="M181.50 213.00h5.25v5.25h-5.25zM196.50 213.00h5.25v5.25h-5.25zM206.50 223.00h5.25v5.25h-5.25zM171.50 238.00h5.25v5.25h-5.25zM201.50 243.00h5.25v5.25h-5.25zM196.50 248.00h5.25v5.25h-5.25zM176.50 253.00h5.25v5.25h-5.25zM191.50 253.00h5.25v5.25h-5.25zM186.50 258.00h5.25v5.25h-5.25zM176.50 263.00h10.25v5.25h-10.25zM166.50 268.00h10.25v5.25h-10.25zM166.50 273.00h10.25v5.25h-10.25z"/>
<path fill="#0072f4" d="M176.50 218.00h10.25v5.25h-10.25zM196.50 218.00h5.25v5.25h-5.25zM191.50 223.00h5.25v5.25h-5.25zM201.50 223.00h5.25v5.25h-5.25zM196.50 228.00h5.25v5.25h-5.25zM196.50 233.00h5.25v5.25h-5.25zM191.50 238.00h5.25v5.25h-5.25zM176.50 243.00h5.25v5.25h-5.25zM186.50 243.00h5.25v5.25h-5.25zM181.50 248.00h5.25v5.25h-5.25z"/>
<path fill="#0082f4" d="M186.50 218.00h10.25v5.25h-10.25zM201.50 218.00h5.25v5.25h-5.25zM171.50 223.00h5.25v5.25h-5.25zM201.50 228.00h5.25v5.25h-5.25zM196.50 238.00h5.25v5.25h-5.25zM191.50 243.00h5.25v5.25h-5.25zM186.50 248.00h5.25v5.25h-5.25zM181.50 253.00h5.25v5.25h-5.25z"/>
<path fill="#f4af00" d="M131.50 223.00h5.25v5.25h-5.25zM141.50 228.00h5.25v5.25h-5.25zM126.50 233.00h5.25v5.25h-5.25zM136.50 238.00h10.25v5.25h-10.25z"/>
<path fill="#0054f4" d="M176.50 223.00h5.25v5.25h-5.25z"/>
<path fill="#0044f4" d="M181.50 223.00h5.25v5.25h-5.25zM176.50 228.00h5.25v5.25h-5.25zM186.50 228.00h5.25v5.25h-5.25zM176.50 233.00h5.25v5.25h-5.25zM186.50 233.00h5.25v5.25h-5.25zM181.50 238.00h5.25v5.25h-5.25z"/>
<path fill="#0063f4" d="M186.50 223.00h5.25v5.25h-5.25zM196.50 223.00h5.25v5.25h-5.25zM191.50 228.00h5.25v5.25h-5.25zM191.50 233.00h5.25v5.25h-5.25zM176.50 238.00h5.25v5.25h-5.25zM186.50 238.00h5.25v5.25h-5.25zM181.50 243.00h5.25v5.25h-5.25z"/>
<path fill="#f49100" d="M131.50 228.00h10.25v5.25h-10.25zM131.50 233.00h10.25v5.25h-10.25z"/>
<path fill="#0026f4" d="M181.50 228.00h5.25v5.25h-5.25zM181.50 233.00h5.25v5.25h-5.25z"/>
</g>
<path d="M147.3,286.6 L153.5,285.6 L159.4,283.7 L164.5,281.3 L168.9,278.7 L172.8,275.8 L176.3,272.7 L179.5,269.4 L182.3,266.0 L184.9,262.4 L187.2,258.8 L189.2,255.0 L191.0,251.1 L192.5,247.2 L193.8,243.2 L194.8,239.2 L195.6,235.1 L196.2,231.0 L196.5,226.9 L196.6,222.8 L196.5,218.8 L196.1,214.7 L195.5,210.7 L194.7,206.7 L193.6,202.8 L192.3,199.0 L190.8,195.3 L189.0,191.7 L186.9,188.2 L184.6,184.9 L182.0,181.7 L179.1,178.7 L175.9,175.9 L172.5,173.4 L169.0,171.3 L166.5,169.7 L170.2,169.3" stroke="#c4c4c4" stroke-opacity="0.75" stroke-width="0.6" fill="none"/>
<path d="M147.0,286.6 L151.2,285.1 L154.7,282.9 L157.7,280.3 L160.4,277.5 L162.7,274.5 L164.7,271.3 L166.6,268.0 L168.3,264.5 L169.8,260.9 L171.1,257.1 L172.3,253.3 L173.4,249.4 L174.2,245.5 L175.0,241.4 L175.6,237.4 L176.0,233.3 L176.4,229.2 L176.5,225.1 L176.6,221.0 L176.5,216.9 L176.2,212.9 L175.8,208.9 L175.3,204.9 L174.6,201.1 L173.8,197.3 L172.9,193.6 L171.7,190.0 L170.5,186.6 L169.0,183.3 L167.4,180.2 L165.6,177.3 L163.7,174.6 L161.6,172.2 L159.6,170.2 L159.5,168.9 L169.6,169.2" stroke="#c4c4c4" stroke-opacity="0.75" stroke-width="0.6" fill="none"/>
<path d="M146.7,286.5 L148.1,284.8 L149.3,282.4 L150.3,279.8 L151.2,276.9 L152.0,273.8 L152.6,270.6 L153.3,267.2 L153.8,263.6 L154.3,260.0 L154.8,256.2 L155.1,252.4 L155.5,248.4 L155.8,244.5 L156.0,240.4 L156.2,236.3 L156.4,232.2 L156.5,228.1 L156.5,224.0 L156.5,219.9 L156.5,215.9 L156.4,211.8 L156.3,207.8 L156.1,203.9 L155.8,200.0 L155.6,196.3 L155.2,192.6 L154.9,189.1 L154.4,185.6 L153.9,182.4 L153.4,179.3 L152.8,176.4 L152.1,173.7 L151.4,171.4 L150.7,169.4 L152.0,168.2 L169.5,169.1" stroke="#c4c4c4" stroke-opacity="0.75" stroke-width="0.6" fill="none"/>
<path d="M146.3,286.5 L144.9,284.8 L143.7,282.4 L142.7,279.8 L141.8,276.9 L141.0,273.8 L140.4,270.6 L139.7,267.2 L139.2,263.6 L138.7,260.0 L138.2,256.2 L137.9,252.4 L137.5,248.4 L137.2,244.5 L137.0,240.4 L136.8,236.3 L136.6,232.2 L136.5,228.1 L136.5,224.0 L136.5,219.9 L136.5,215.9 L136.6,211.8 L136.7,207.8 L136.9,203.9 L137.2,200.0 L137.4,196.3 L137.8,192.6 L138.1,189.1 L138.6,185.6 L139.1,182.4 L139.6,179.3 L140.2,176.4 L140.9,173.7 L141.6,171.4 L142.3,169.4 L141.0,168.2 L123.5,169.1" stroke="#c4c4c4" stroke-opacity="0.75" stroke-width="0.6" fill="none"/>
<path d="M146.0,286.6 L141.8,285.1 L138.3,282.9 L135.3,280.3 L132.6,277.5 L130.3,274.5 L128.3,271.3 L126.4,268.0 L124.7,264.5 L123.2,260.9 L121.9,257.1 L120.7,253.3 L119.6,249.4 L118.8,245.5 L118.0,241.4 L117.4,237.4 L117.0,233.3 L116.6,229.2 L116.5,225.1 L116.4,221.0 L116.5,216.9 L116.8,212.9 L117.2,208.9 L117.7,204.9 L118.4,201.1 L119.2,197.3 L120.1,193.6 L121.3,190.0 L122.5,186.6 L124.0,183.3 L125.6,180.2 L127.4,177.3 L129.3,174.6 L131.4,172.2 L133.4,170.2 L133.5,168.9 L123.4,169.2" stroke="#c4c4c4" stroke-opacity="0.75" stroke-width="0.6" fill="none"/>
<path d="M145.7,286.6 L139.5,285.6 L133.6,283.7 L128.5,281.3 L124.1,278.7 L120.2,275.8 L116.7,272.7 L113.5,269.4 L110.7,266.0 L108.1,262.4 L105.8,258.8 L103.8,255.0 L102.0,251.1 L100.5,247.2 L99.2,243.2 L98.2,239.2 L97.4,235.1 L96.8,231.0 L96.5,226.9 L96.4,222.8 L96.5,218.8 L96.9,214.7 L97.5,210.7 L98.3,206.7 L99.4,202.8 L100.7,199.0 L102.2,195.3 L104.0,191.7 L106.1,188.2 L108.4,184.9 L111.0,181.7 L113.9,178.7 L117.1,175.9 L120.5,173.4 L124.0,171.3 L126.5,169.7 L122.8,169.3" stroke="#c4c4c4" stroke-opacity="0.75" stroke-width="0.6" fill="none"/>
<path d="M145.7,286.7 L138.2,286.3 L130.0,284.7 L122.7,282.6 L116.4,280.1 L110.7,277.3 L105.7,274.3 L101.2,271.1 L97.1,267.8 L93.4,264.3 L90.1,260.7 L87.2,257.0 L84.7,253.2 L82.5,249.3 L80.6,245.3 L79.1,241.3 L77.9,237.2 L77.1,233.2 L76.5,229.1 L76.3,225.0 L76.5,220.9 L76.9,216.8 L77.7,212.8 L78.8,208.8 L80.3,204.9 L82.0,201.0 L84.2,197.2 L86.6,193.6 L89.5,190.0 L92.7,186.6 L96.3,183.3 L100.3,180.2 L104.7,177.3 L109.5,174.7 L114.8,172.3 L119.9,170.4 L121.9,169.4" stroke="#c4c4c4" stroke-opacity="0.75" stroke-width="0.6" fill="none"/>
<path d="M145.9,286.8 L138.7,287.1 L127.5,285.8 L117.6,283.8 L109.1,281.4 L101.6,278.7 L94.9,275.8 L89.0,272.7 L83.6,269.4 L78.8,266.0 L74.5,262.4 L70.7,258.7 L67.4,254.9 L64.5,251.1 L62.1,247.1 L60.1,243.1 L58.5,239.1 L57.4,235.0 L56.7,230.9 L56.4,226.8 L56.5,222.7 L57.1,218.6 L58.0,214.6 L59.4,210.5 L61.3,206.6 L63.5,202.7 L66.2,198.9 L69.4,195.1 L73.0,191.5 L77.1,188.0 L81.8,184.7 L86.9,181.5 L92.7,178.5 L99.1,175.7 L106.2,173.1 L114.0,170.9 L121.0,169.4" stroke="#c4c4c4" stroke-opacity="0.75" stroke-width="0.6" fill="none"/>
<path d="M146.3,286.9 L141.8,287.8 L124.8,286.6 L111.6,284.6 L100.9,282.3 L91.5,279.6 L83.3,276.7 L76.0,273.6 L69.4,270.4 L63.6,266.9 L58.3,263.4 L53.7,259.7 L49.7,256.0 L46.2,252.1 L43.2,248.2 L40.8,244.2 L39.0,240.1 L37.6,236.1 L36.8,232.0 L36.5,227.9 L36.7,223.8 L37.4,219.7 L38.6,215.6 L40.4,211.5 L42.7,207.6 L45.5,203.6 L48.9,199.8 L52.8,196.0 L57.3,192.4 L62.4,188.8 L68.1,185.4 L74.5,182.2 L81.7,179.1 L89.7,176.2 L98.8,173.6 L109.2,171.2 L120.3,169.5" stroke="#c4c4c4" stroke-opacity="0.75" stroke-width="0.6" fill="none"/>
<path d="M146.7,286.9 L151.2,287.8 L168.2,286.6 L181.4,284.6 L192.1,282.3 L201.5,279.6 L209.7,276.7 L217.0,273.6 L223.6,270.4 L229.4,266.9 L234.7,263.4 L239.3,259.7 L243.3,256.0 L246.8,252.1 L249.8,248.2 L252.2,244.2 L254.0,240.1 L255.4,236.1 L256.2,232.0 L256.5,227.9 L256.3,223.8 L255.6,219.7 L254.4,215.6 L252.6,211.5 L250.3,207.6 L247.5,203.6 L244.1,199.8 L240.2,196.0 L235.7,192.4 L230.6,188.8 L224.9,185.4 L218.5,182.2 L211.3,179.1 L203.3,176.2 L194.2,173.6 L183.8,171.2 L172.7,169.5" stroke="#c4c4c4" stroke-opacity="0.75" stroke-width="0.6" fill="none"/>
<path d="M147.1,286.8 L154.3,287.1 L165.5,285.8 L175.4,283.8 L183.9,281.4 L191.4,278.7 L198.1,275.8 L204.0,272.7 L209.4,269.4 L214.2,266.0 L218.5,262.4 L222.3,258.7 L225.6,254.9 L228.5,251.1 L230.9,247.1 L232.9,243.1 L234.5,239.1 L235.6,235.0 L236.3,230.9 L236.6,226.8 L236.5,222.7 L235.9,218.6 L235.0,214.6 L233.6,210.5 L231.7,206.6 L229.5,202.7 L226.8,198.9 L223.6,195.1 L220.0,191.5 L215.9,188.0 L211.2,184.7 L206.1,181.5 L200.3,178.5 L193.9,175.7 L186.8,173.1 L179.0,170.9 L172.0,169.4" stroke="#c4c4c4" stroke-opacity="0.75" stroke-width="0.6" fill="none"/>
<path d="M147.3,286.7 L154.8,286.3 L163.0,284.7 L170.3,282.6 L176.6,280.1 L182.3,277.3 L187.3,274.3 L191.8,271.1 L195.9,267.8 L199.6,264.3 L202.9,260.7 L205.8,257.0 L208.3,253.2 L210.5,249.3 L212.4,245.3 L213.9,241.3 L215.1,237.2 L215.9,233.2 L216.5,229.1 L216.7,225.0 L216.5,220.9 L216.1,216.8 L215.3,212.8 L214.2,208.8 L212.7,204.9 L211.0,201.0 L208.8,197.2 L206.4,193.6 L203.5,190.0 L200.3,186.6 L196.7,183.3 L192.7,180.2 L188.3,177.3 L183.5,174.7 L178.2,172.3 L173.1,170.4 L171.1,169.4" stroke="#c4c4c4" stroke-opacity="0.75" stroke-width="0.6" fill="none"/>
<path d="M176.3,272.7 L174.4,272.4 L172.5,272.2 L170.6,272.0 L168.7,271.7 L166.7,271.5 L164.7,271.3 L162.8,271.2 L160.8,271.0 L158.7,270.9 L156.7,270.8 L154.7,270.7 L152.6,270.6 L150.6,270.5 L148.6,270.5 L146.5,270.5 L144.4,270.5 L142.4,270.5 L140.4,270.6 L138.3,270.7 L136.3,270.8 L134.3,270.9 L132.2,271.0 L130.2,271.2 L128.3,271.3 L126.3,271.5 L124.3,271.7 L122.4,272.0 L120.5,272.2 L118.6,272.4 L116.7,272.7 L114.8,273.0 L113.0,273.2 L111.1,273.5 L109.3,273.8 L107.5,274.1 L105.7,274.3 L103.9,274.6 L102.1,274.9 L100.3,275.1 L98.5,275.4 L96.7,275.6 L94.9,275.8 L93.1,276.0 L91.2,276.2 L89.3,276.4 L87.4,276.5 L85.4,276.6 L83.3,276.7 L81.2,276.8 L79.0,276.8" stroke="#c4c4c4" stroke-opacity="0.75" stroke-width="0.6" fill="none"/>
<path d="M216.2,276.8 L214.0,276.8 L211.8,276.8 L209.7,276.7 L207.6,276.6 L205.6,276.5 L203.7,276.4 L201.8,276.2 L199.9,276.0 L198.1,275.8 L196.3,275.6 L194.5,275.4 L192.7,275.1 L190.9,274.9 L189.1,274.6 L187.3,274.3 L185.5,274.1 L183.7,273.8 L181.9,273.5 L180.0,273.2 L178.2,273.0 L176.3,272.7" stroke="#c4c4c4" stroke-opacity="0.75" stroke-width="0.6" fill="none"/>
<path d="M191.0,251.1 L188.1,250.8 L185.1,250.5 L182.2,250.2 L179.3,249.9 L176.3,249.7 L173.4,249.4 L170.4,249.2 L167.4,249.0 L164.4,248.8 L161.5,248.7 L158.5,248.5 L155.5,248.4 L152.5,248.4 L149.5,248.3 L146.5,248.3 L143.5,248.3 L140.5,248.4 L137.5,248.4 L134.5,248.5 L131.5,248.7 L128.6,248.8 L125.6,249.0 L122.6,249.2 L119.6,249.4 L116.7,249.7 L113.7,249.9 L110.8,250.2 L107.9,250.5 L104.9,250.8 L102.0,251.1 L99.1,251.5 L96.2,251.8 L93.3,252.1 L90.4,252.5 L87.6,252.8 L84.7,253.2 L81.8,253.5 L78.9,253.8 L76.1,254.1 L73.2,254.4 L70.3,254.7 L67.4,254.9 L64.5,255.2 L61.6,255.4 L58.6,255.6 L55.7,255.7 L52.7,255.8 L49.7,256.0 L46.6,256.0 L43.6,256.1" stroke="#c4c4c4" stroke-opacity="0.75" stroke-width="0.6" fill="none"/>
<path d="M252.5,256.1 L249.4,256.1 L246.4,256.0 L243.3,256.0 L240.3,255.8 L237.3,255.7 L234.4,255.6 L231.4,255.4 L228.5,255.2 L225.6,254.9 L222.7,254.7 L219.8,254.4 L216.9,254.1 L214.1,253.8 L211.2,253.5 L208.3,253.2 L205.4,252.8 L202.6,252.5 L199.7,252.1 L196.8,251.8 L193.9,251.5 L191.0,251.1" stroke="#c4c4c4" stroke-opacity="0.75" stroke-width="0.6" fill="none"/>
<path d="M196.5,226.9 L193.2,226.6 L189.9,226.3 L186.5,225.9 L183.2,225.6 L179.9,225.4 L176.5,225.1 L173.2,224.9 L169.9,224.6 L166.5,224.4 L163.2,224.3 L159.9,224.1 L156.5,224.0 L153.2,224.0 L149.8,223.9 L146.5,223.9 L143.2,223.9 L139.8,224.0 L136.5,224.0 L133.1,224.1 L129.8,224.3 L126.5,224.4 L123.1,224.6 L119.8,224.9 L116.5,225.1 L113.1,225.4 L109.8,225.6 L106.5,225.9 L103.1,226.3 L99.8,226.6 L96.5,226.9 L93.1,227.3 L89.8,227.6 L86.5,228.0 L83.2,228.4 L79.9,228.7 L76.5,229.1 L73.2,229.4 L69.9,229.7 L66.6,230.1 L63.3,230.4 L60.0,230.6 L56.7,230.9 L53.4,231.1 L50.1,231.4 L46.7,231.6 L43.4,231.7 L40.1,231.9 L36.8,232.0 L33.4,232.0 L30.1,232.1" stroke="#c4c4c4" stroke-opacity="0.75" stroke-width="0.6" fill="none"/>
<path d="M266.2,232.1 L262.9,232.1 L259.6,232.0 L256.2,232.0 L252.9,231.9 L249.6,231.7 L246.3,231.6 L242.9,231.4 L239.6,231.1 L236.3,230.9 L233.0,230.6 L229.7,230.4 L226.4,230.1 L223.1,229.7 L219.8,229.4 L216.5,229.1 L213.1,228.7 L209.8,228.4 L206.5,228.0 L203.2,227.6 L199.9,227.3 L196.5,226.9" stroke="#c4c4c4" stroke-opacity="0.75" stroke-width="0.6" fill="none"/>
<path d="M193.6,202.8 L190.5,202.5 L187.3,202.2 L184.1,201.9 L180.9,201.6 L177.8,201.3 L174.6,201.1 L171.5,200.8 L168.4,200.6 L165.2,200.4 L162.1,200.3 L159.0,200.2 L155.8,200.0 L152.7,200.0 L149.6,199.9 L146.5,199.9 L143.4,199.9 L140.3,200.0 L137.2,200.0 L134.0,200.2 L130.9,200.3 L127.8,200.4 L124.6,200.6 L121.5,200.8 L118.4,201.1 L115.2,201.3 L112.1,201.6 L108.9,201.9 L105.7,202.2 L102.5,202.5 L99.4,202.8 L96.2,203.2 L93.0,203.5 L89.8,203.9 L86.6,204.2 L83.4,204.5 L80.3,204.9 L77.1,205.2 L73.9,205.5 L70.7,205.8 L67.6,206.1 L64.4,206.3 L61.3,206.6 L58.1,206.8 L55.0,207.0 L51.9,207.2 L48.8,207.3 L45.7,207.5 L42.7,207.6 L39.6,207.6 L36.6,207.7" stroke="#c4c4c4" stroke-opacity="0.75" stroke-width="0.6" fill="none"/>
<path d="M259.4,207.7 L256.4,207.7 L253.4,207.6 L250.3,207.6 L247.3,207.5 L244.2,207.3 L241.1,207.2 L238.0,207.0 L234.9,206.8 L231.7,206.6 L228.6,206.3 L225.4,206.1 L222.3,205.8 L219.1,205.5 L215.9,205.2 L212.7,204.9 L209.6,204.5 L206.4,204.2 L203.2,203.9 L200.0,203.5 L196.8,203.2 L193.6,202.8" stroke="#c4c4c4" stroke-opacity="0.75" stroke-width="0.6" fill="none"/>
<path d="M182.0,181.7 L179.5,181.4 L177.1,181.1 L174.6,180.9 L172.2,180.6 L169.8,180.4 L167.4,180.2 L165.0,180.0 L162.7,179.8 L160.3,179.6 L158.0,179.5 L155.7,179.4 L153.4,179.3 L151.1,179.2 L148.8,179.2 L146.5,179.2 L144.2,179.2 L141.9,179.2 L139.6,179.3 L137.3,179.4 L135.0,179.5 L132.7,179.6 L130.3,179.8 L128.0,180.0 L125.6,180.2 L123.2,180.4 L120.8,180.6 L118.4,180.9 L115.9,181.1 L113.5,181.4 L111.0,181.7 L108.6,181.9 L106.1,182.2 L103.7,182.5 L101.2,182.8 L98.7,183.0 L96.3,183.3 L93.8,183.6 L91.4,183.8 L88.9,184.0 L86.5,184.3 L84.1,184.5 L81.8,184.7 L79.4,184.8 L77.1,185.0 L74.8,185.1 L72.5,185.2 L70.3,185.3 L68.1,185.4 L65.9,185.5 L63.8,185.5" stroke="#c4c4c4" stroke-opacity="0.75" stroke-width="0.6" fill="none"/>
<path d="M231.2,185.5 L229.2,185.5 L227.1,185.5 L224.9,185.4 L222.7,185.3 L220.5,185.2 L218.2,185.1 L215.9,185.0 L213.6,184.8 L211.2,184.7 L208.9,184.5 L206.5,184.3 L204.1,184.0 L201.6,183.8 L199.2,183.6 L196.7,183.3 L194.3,183.0 L191.8,182.8 L189.3,182.5 L186.9,182.2 L184.4,181.9 L182.0,181.7" stroke="#c4c4c4" stroke-opacity="0.75" stroke-width="0.6" fill="none"/>
</g>
<ellipse cx="146.5" cy="228" rx="120.0" ry="60.0" fill="none" stroke="#506060" stroke-opacity="0.55" stroke-width="0.7"/>
<text x="36.8" y="231.2" text-anchor="middle" fill="#dcdcdc" font-size="6.5">-120</text>
<text x="56.7" y="230.1" text-anchor="middle" fill="#dcdcdc" font-size="6.5">-150</text>
<text x="76.5" y="228.3" text-anchor="middle" fill="#dcdcdc" font-size="6.5">180</text>
<text x="96.5" y="226.1" text-anchor="middle" fill="#dcdcdc" font-size="6.5">150</text>
<text x="116.5" y="224.3" text-anchor="middle" fill="#dcdcdc" font-size="6.5">120</text>
<text x="136.5" y="223.2" text-anchor="middle" fill="#dcdcdc" font-size="6.5">90</text>
<text x="156.5" y="223.2" text-anchor="middle" fill="#dcdcdc" font-size="6.5">60</text>
<text x="176.5" y="224.3" text-anchor="middle" fill="#dcdcdc" font-size="6.5">30</text>
<text x="196.5" y="226.1" text-anchor="middle" fill="#dcdcdc" font-size="6.5">0</text>
<text x="216.5" y="228.3" text-anchor="middle" fill="#dcdcdc" font-size="6.5">-30</text>
<text x="236.3" y="230.1" text-anchor="middle" fill="#dcdcdc" font-size="6.5">-60</text>
<text x="256.2" y="231.2" text-anchor="middle" fill="#dcdcdc" font-size="6.5">-90</text>
<text x="181.0" y="181.9" text-anchor="middle" fill="#dcdcdc" font-size="6.5">60</text>
<text x="192.6" y="203.0" text-anchor="middle" fill="#dcdcdc" font-size="6.5">30</text>
<text x="190.0" y="251.3" text-anchor="middle" fill="#dcdcdc" font-size="6.5">-30</text>
<text x="175.3" y="272.9" text-anchor="middle" fill="#dcdcdc" font-size="6.5">-60</text>
<text x="171.1" y="168.9" text-anchor="middle" fill="#ababab" font-size="7">90</text>
<circle cx="143.5" cy="227.5" r="1.3" fill="#111"/>
<text x="142.1" y="225.0" fill="#111" stroke="#111" stroke-width="0.15" font-size="7.6">Tail</text>
<circle cx="36.0" cy="204.0" r="1.3" fill="#111"/>
<circle cx="264.0" cy="227.8" r="1.3" fill="#111"/>
<text x="262.0" y="225.7" fill="#7a1c1c" stroke="#7a1c1c" stroke-width="0.12" font-size="8">Nose</text>
<text x="252.8" y="201.8" fill="#7a1c1c" stroke="#7a1c1c" stroke-width="0.12" font-size="8">V1</text>
<circle cx="231.0" cy="256.5" r="1.3" fill="#111"/>
<text x="231.8" y="254.4" fill="#111" stroke="#111" stroke-width="0.12" font-size="8">V2</text>
<text x="8" y="183.7" fill="#000" stroke="#000" stroke-width="0.25" font-size="14.5">1.7 keV</text>
<rect x="25.75" y="296" width="240.0" height="4.3" fill="url(#jet)"/>
<text x="25.75" y="312.8" text-anchor="middle" fill="#6e1818" font-size="8">0</text>
<line x1="65.75" y1="296" x2="65.75" y2="300.3" stroke="#333" stroke-opacity="0.5" stroke-width="0.5"/>
<text x="65.75" y="312.8" text-anchor="middle" fill="#6e1818" font-size="8">10</text>
<line x1="105.75" y1="296" x2="105.75" y2="300.3" stroke="#333" stroke-opacity="0.5" stroke-width="0.5"/>
<text x="105.75" y="312.8" text-anchor="middle" fill="#6e1818" font-size="8">20</text>
<line x1="145.75" y1="296" x2="145.75" y2="300.3" stroke="#333" stroke-opacity="0.5" stroke-width="0.5"/>
<text x="145.75" y="312.8" text-anchor="middle" fill="#6e1818" font-size="8">30</text>
<line x1="185.75" y1="296" x2="185.75" y2="300.3" stroke="#333" stroke-opacity="0.5" stroke-width="0.5"/>
<text x="185.75" y="312.8" text-anchor="middle" fill="#6e1818" font-size="8">40</text>
<line x1="225.75" y1="296" x2="225.75" y2="300.3" stroke="#333" stroke-opacity="0.5" stroke-width="0.5"/>
<text x="225.75" y="312.8" text-anchor="middle" fill="#6e1818" font-size="8">50</text>
<text x="265.75" y="312.8" text-anchor="middle" fill="#6e1818" font-size="8">60</text>
<g clip-path="url(#c3)"><g filter="url(#bl)">
<path fill="#63f491" d="M343.00 165.00h246.25v8.25h-246.25zM343.00 173.00h78.25v5.25h-78.25zM441.00 173.00h15.25v5.25h-15.25zM476.00 173.00h113.25v5.25h-113.25zM343.00 178.00h78.25v5.25h-78.25zM441.00 178.00h10.25v5.25h-10.25zM481.00 178.00h108.25v5.25h-108.25zM343.00 183.00h48.25v5.25h-48.25zM521.00 183.00h68.25v5.25h-68.25zM343.00 188.00h48.25v5.25h-48.25zM521.00 188.00h68.25v5.25h-68.25zM343.00 193.00h28.25v5.25h-28.25zM541.00 193.00h5.25v5.25h-5.25zM343.00 198.00h28.25v5.25h-28.25zM451.00 198.00h5.25v5.25h-5.25zM461.00 198.00h5.25v5.25h-5.25zM356.00 203.00h15.25v5.25h-15.25zM541.00 203.00h5.25v5.25h-5.25zM361.00 208.00h10.25v5.25h-10.25zM361.00 213.00h10.25v5.25h-10.25zM361.00 218.00h10.25v5.25h-10.25zM366.00 223.00h5.25v5.25h-5.25zM446.00 238.00h5.25v5.25h-5.25zM461.00 238.00h5.25v5.25h-5.25zM396.00 248.00h5.25v5.25h-5.25zM541.00 248.00h5.25v5.25h-5.25zM396.00 253.00h5.25v5.25h-5.25zM466.00 258.00h5.25v5.25h-5.25zM401.00 263.00h10.25v5.25h-10.25zM431.00 263.00h10.25v5.25h-10.25zM466.00 263.00h5.25v5.25h-5.25zM396.00 268.00h15.25v5.25h-15.25zM431.00 268.00h15.25v5.25h-15.25zM461.00 268.00h5.25v5.25h-5.25zM541.00 268.00h5.25v5.25h-5.25zM343.00 273.00h118.25v5.25h-118.25zM541.00 273.00h48.25v5.25h-48.25zM343.00 278.00h118.25v5.25h-118.25zM541.00 278.00h48.25v5.25h-48.25zM343.00 283.00h118.25v8.25h-118.25zM491.00 283.00h10.25v8.25h-10.25zM541.00 283.00h48.25v8.25h-48.25z"/>
<path fill="#54f4a0" d="M421.00 173.00h20.25v5.25h-20.25zM421.00 178.00h5.25v5.25h-5.25zM436.00 178.00h5.25v5.25h-5.25zM391.00 183.00h10.25v5.25h-10.25zM441.00 183.00h10.25v5.25h-10.25zM481.00 183.00h10.25v5.25h-10.25zM511.00 183.00h10.25v5.25h-10.25zM391.00 188.00h5.25v5.25h-5.25zM446.00 188.00h5.25v5.25h-5.25zM481.00 188.00h5.25v5.25h-5.25zM516.00 188.00h5.25v5.25h-5.25zM371.00 193.00h10.25v5.25h-10.25zM476.00 193.00h5.25v5.25h-5.25zM531.00 193.00h10.25v5.25h-10.25zM371.00 198.00h5.25v5.25h-5.25zM536.00 198.00h5.25v5.25h-5.25zM371.00 223.00h5.25v5.25h-5.25zM371.00 228.00h10.25v5.25h-10.25zM396.00 238.00h5.25v5.25h-5.25zM401.00 253.00h5.25v5.25h-5.25zM436.00 253.00h5.25v5.25h-5.25zM466.00 253.00h5.25v5.25h-5.25zM401.00 258.00h10.25v5.25h-10.25zM431.00 258.00h10.25v5.25h-10.25zM411.00 263.00h5.25v5.25h-5.25zM426.00 263.00h5.25v5.25h-5.25zM411.00 268.00h20.25v5.25h-20.25z"/>
<path fill="#72f482" d="M456.00 173.00h20.25v5.25h-20.25zM451.00 178.00h5.25v5.25h-5.25zM476.00 178.00h5.25v5.25h-5.25zM451.00 183.00h5.25v5.25h-5.25zM476.00 183.00h5.25v5.25h-5.25zM451.00 188.00h5.25v5.25h-5.25zM476.00 188.00h5.25v5.25h-5.25zM451.00 193.00h5.25v5.25h-5.25zM471.00 193.00h5.25v5.25h-5.25zM546.00 193.00h43.25v5.25h-43.25zM456.00 198.00h5.25v5.25h-5.25zM541.00 198.00h5.25v5.25h-5.25zM343.00 203.00h13.25v5.25h-13.25zM356.00 208.00h5.25v5.25h-5.25zM356.00 213.00h5.25v5.25h-5.25zM356.00 218.00h5.25v5.25h-5.25zM361.00 223.00h5.25v5.25h-5.25zM366.00 228.00h5.25v5.25h-5.25zM381.00 233.00h5.25v5.25h-5.25zM391.00 238.00h5.25v5.25h-5.25zM396.00 243.00h5.25v5.25h-5.25zM441.00 243.00h5.25v5.25h-5.25zM391.00 248.00h5.25v5.25h-5.25zM391.00 253.00h5.25v5.25h-5.25zM541.00 253.00h5.25v5.25h-5.25zM396.00 258.00h5.25v5.25h-5.25zM441.00 258.00h5.25v5.25h-5.25zM541.00 258.00h5.25v5.25h-5.25zM396.00 263.00h5.25v5.25h-5.25zM441.00 263.00h5.25v5.25h-5.25zM541.00 263.00h5.25v5.25h-5.25zM391.00 268.00h5.25v5.25h-5.25zM446.00 268.00h15.25v5.25h-15.25zM546.00 268.00h43.25v5.25h-43.25z"/>
<path fill="#35f4bf" d="M426.00 178.00h10.25v5.25h-10.25zM406.00 183.00h5.25v5.25h-5.25zM436.00 183.00h5.25v5.25h-5.25zM396.00 188.00h5.25v5.25h-5.25zM441.00 188.00h5.25v5.25h-5.25zM486.00 188.00h5.25v5.25h-5.25zM511.00 188.00h5.25v5.25h-5.25zM391.00 193.00h5.25v5.25h-5.25zM481.00 193.00h5.25v5.25h-5.25zM521.00 193.00h5.25v5.25h-5.25zM376.00 198.00h5.25v5.25h-5.25zM471.00 198.00h5.25v5.25h-5.25zM531.00 198.00h5.25v5.25h-5.25zM446.00 203.00h5.25v5.25h-5.25zM461.00 203.00h5.25v5.25h-5.25zM536.00 203.00h5.25v5.25h-5.25zM541.00 213.00h5.25v5.25h-5.25zM541.00 218.00h5.25v5.25h-5.25zM376.00 223.00h5.25v5.25h-5.25zM541.00 223.00h5.25v5.25h-5.25zM381.00 228.00h5.25v5.25h-5.25zM541.00 228.00h5.25v5.25h-5.25zM391.00 233.00h5.25v5.25h-5.25zM451.00 233.00h10.25v5.25h-10.25zM541.00 233.00h5.25v5.25h-5.25zM401.00 238.00h5.25v5.25h-5.25zM441.00 238.00h5.25v5.25h-5.25zM541.00 238.00h5.25v5.25h-5.25zM466.00 243.00h5.25v5.25h-5.25zM406.00 253.00h5.25v5.25h-5.25zM431.00 253.00h5.25v5.25h-5.25zM536.00 253.00h5.25v5.25h-5.25zM411.00 258.00h5.25v5.25h-5.25zM426.00 258.00h5.25v5.25h-5.25zM471.00 258.00h5.25v5.25h-5.25zM416.00 263.00h10.25v5.25h-10.25zM471.00 263.00h5.25v5.25h-5.25zM466.00 268.00h5.25v5.25h-5.25zM486.00 278.00h5.25v5.25h-5.25zM501.00 278.00h5.25v5.25h-5.25z"/>
<path fill="#82f472" d="M456.00 178.00h5.25v5.25h-5.25zM471.00 178.00h5.25v5.25h-5.25zM456.00 193.00h5.25v5.25h-5.25zM466.00 193.00h5.25v5.25h-5.25zM546.00 198.00h5.25v5.25h-5.25zM351.00 208.00h5.25v5.25h-5.25zM546.00 208.00h5.25v5.25h-5.25zM546.00 213.00h5.25v5.25h-5.25zM546.00 218.00h5.25v5.25h-5.25zM356.00 223.00h5.25v5.25h-5.25zM546.00 223.00h5.25v5.25h-5.25zM361.00 228.00h5.25v5.25h-5.25zM546.00 228.00h5.25v5.25h-5.25zM371.00 233.00h10.25v5.25h-10.25zM546.00 233.00h5.25v5.25h-5.25zM451.00 238.00h10.25v5.25h-10.25zM546.00 238.00h5.25v5.25h-5.25zM391.00 243.00h5.25v5.25h-5.25zM546.00 243.00h5.25v5.25h-5.25zM441.00 248.00h5.25v5.25h-5.25zM441.00 253.00h5.25v5.25h-5.25zM446.00 263.00h5.25v5.25h-5.25zM461.00 263.00h5.25v5.25h-5.25zM546.00 263.00h5.25v5.25h-5.25zM343.00 268.00h48.25v5.25h-48.25z"/>
<path fill="#91f463" d="M461.00 178.00h10.25v5.25h-10.25zM456.00 183.00h5.25v5.25h-5.25zM471.00 183.00h5.25v5.25h-5.25zM456.00 188.00h5.25v5.25h-5.25zM471.00 188.00h5.25v5.25h-5.25zM461.00 193.00h5.25v5.25h-5.25zM551.00 198.00h38.25v5.25h-38.25zM546.00 203.00h5.25v5.25h-5.25zM343.00 208.00h8.25v5.25h-8.25zM351.00 213.00h5.25v5.25h-5.25zM351.00 218.00h5.25v5.25h-5.25zM366.00 233.00h5.25v5.25h-5.25zM386.00 238.00h5.25v5.25h-5.25zM461.00 243.00h5.25v5.25h-5.25zM386.00 248.00h5.25v5.25h-5.25zM546.00 248.00h5.25v5.25h-5.25zM546.00 253.00h5.25v5.25h-5.25zM546.00 258.00h5.25v5.25h-5.25zM451.00 263.00h10.25v5.25h-10.25zM551.00 263.00h38.25v5.25h-38.25z"/>
<path fill="#44f4af" d="M401.00 183.00h5.25v5.25h-5.25zM491.00 183.00h20.25v5.25h-20.25zM381.00 193.00h10.25v5.25h-10.25zM446.00 193.00h5.25v5.25h-5.25zM526.00 193.00h5.25v5.25h-5.25zM446.00 198.00h5.25v5.25h-5.25zM466.00 198.00h5.25v5.25h-5.25zM371.00 203.00h5.25v5.25h-5.25zM451.00 203.00h10.25v5.25h-10.25zM371.00 208.00h5.25v5.25h-5.25zM541.00 208.00h5.25v5.25h-5.25zM371.00 213.00h5.25v5.25h-5.25zM371.00 218.00h5.25v5.25h-5.25zM386.00 233.00h5.25v5.25h-5.25zM401.00 243.00h5.25v5.25h-5.25zM436.00 243.00h5.25v5.25h-5.25zM541.00 243.00h5.25v5.25h-5.25zM401.00 248.00h5.25v5.25h-5.25zM436.00 248.00h5.25v5.25h-5.25zM466.00 248.00h5.25v5.25h-5.25zM536.00 258.00h5.25v5.25h-5.25zM536.00 263.00h5.25v5.25h-5.25zM536.00 268.00h5.25v5.25h-5.25zM461.00 273.00h5.25v5.25h-5.25zM536.00 273.00h5.25v5.25h-5.25zM461.00 278.00h5.25v5.25h-5.25zM491.00 278.00h10.25v5.25h-10.25zM536.00 278.00h5.25v5.25h-5.25zM461.00 283.00h5.25v8.25h-5.25zM486.00 283.00h5.25v8.25h-5.25zM501.00 283.00h5.25v8.25h-5.25zM536.00 283.00h5.25v8.25h-5.25z"/>
<path fill="#26f4ce" d="M411.00 183.00h10.25v5.25h-10.25zM491.00 188.00h20.25v5.25h-20.25zM441.00 193.00h5.25v5.25h-5.25zM516.00 193.00h5.25v5.25h-5.25zM381.00 198.00h10.25v5.25h-10.25zM441.00 198.00h5.25v5.25h-5.25zM476.00 198.00h5.25v5.25h-5.25zM376.00 203.00h5.25v5.25h-5.25zM376.00 208.00h5.25v5.25h-5.25zM451.00 208.00h10.25v5.25h-10.25zM376.00 213.00h5.25v5.25h-5.25zM376.00 218.00h5.25v5.25h-5.25zM396.00 233.00h5.25v5.25h-5.25zM461.00 233.00h5.25v5.25h-5.25zM466.00 238.00h5.25v5.25h-5.25zM406.00 243.00h5.25v5.25h-5.25zM431.00 243.00h5.25v5.25h-5.25zM406.00 248.00h5.25v5.25h-5.25zM431.00 248.00h5.25v5.25h-5.25zM536.00 248.00h5.25v5.25h-5.25zM531.00 263.00h5.25v5.25h-5.25zM531.00 268.00h5.25v5.25h-5.25zM466.00 273.00h5.25v5.25h-5.25zM491.00 273.00h10.25v5.25h-10.25zM531.00 273.00h5.25v5.25h-5.25zM466.00 278.00h5.25v5.25h-5.25zM531.00 278.00h5.25v5.25h-5.25zM466.00 283.00h5.25v8.25h-5.25zM481.00 283.00h5.25v8.25h-5.25zM506.00 283.00h5.25v8.25h-5.25zM531.00 283.00h5.25v8.25h-5.25z"/>
<path fill="#16f4dd" d="M421.00 183.00h5.25v5.25h-5.25zM431.00 183.00h5.25v5.25h-5.25zM436.00 188.00h5.25v5.25h-5.25zM486.00 193.00h5.25v5.25h-5.25zM481.00 198.00h5.25v5.25h-5.25zM526.00 198.00h5.25v5.25h-5.25zM441.00 203.00h5.25v5.25h-5.25zM466.00 203.00h5.25v5.25h-5.25zM441.00 208.00h10.25v5.25h-10.25zM461.00 208.00h10.25v5.25h-10.25zM381.00 223.00h10.25v5.25h-10.25zM386.00 228.00h5.25v5.25h-5.25zM401.00 233.00h5.25v5.25h-5.25zM406.00 238.00h5.25v5.25h-5.25zM411.00 253.00h20.25v5.25h-20.25zM471.00 253.00h5.25v5.25h-5.25zM416.00 258.00h10.25v5.25h-10.25zM476.00 258.00h5.25v5.25h-5.25zM531.00 258.00h5.25v5.25h-5.25zM476.00 263.00h5.25v5.25h-5.25zM471.00 268.00h10.25v5.25h-10.25zM481.00 273.00h10.25v5.25h-10.25zM501.00 273.00h10.25v5.25h-10.25zM481.00 278.00h5.25v5.25h-5.25zM506.00 278.00h5.25v5.25h-5.25z"/>
<path fill="#07f4ed" d="M426.00 183.00h5.25v5.25h-5.25zM401.00 188.00h5.25v5.25h-5.25zM511.00 193.00h5.25v5.25h-5.25zM381.00 203.00h10.25v5.25h-10.25zM471.00 203.00h5.25v5.25h-5.25zM531.00 203.00h5.25v5.25h-5.25zM381.00 208.00h5.25v5.25h-5.25zM536.00 208.00h5.25v5.25h-5.25zM381.00 213.00h5.25v5.25h-5.25zM446.00 213.00h25.25v5.25h-25.25zM381.00 218.00h10.25v5.25h-10.25zM451.00 218.00h15.25v5.25h-15.25zM451.00 223.00h10.25v5.25h-10.25zM391.00 228.00h5.25v5.25h-5.25zM451.00 228.00h10.25v5.25h-10.25zM446.00 233.00h5.25v5.25h-5.25zM436.00 238.00h5.25v5.25h-5.25zM411.00 243.00h5.25v5.25h-5.25zM426.00 243.00h5.25v5.25h-5.25zM536.00 243.00h5.25v5.25h-5.25zM411.00 248.00h20.25v5.25h-20.25zM481.00 263.00h5.25v5.25h-5.25zM526.00 263.00h5.25v5.25h-5.25zM481.00 268.00h10.25v5.25h-10.25zM521.00 268.00h10.25v5.25h-10.25zM471.00 273.00h10.25v5.25h-10.25zM511.00 273.00h20.25v5.25h-20.25zM471.00 278.00h10.25v5.25h-10.25zM511.00 278.00h20.25v5.25h-20.25zM471.00 283.00h10.25v8.25h-10.25zM511.00 283.00h20.25v8.25h-20.25z"/>
<path fill="#aff444" d="M461.00 183.00h10.25v5.25h-10.25zM461.00 188.00h10.25v5.25h-10.25zM551.00 203.00h25.25v5.25h-25.25zM551.00 208.00h20.25v5.25h-20.25zM343.00 213.00h8.25v5.25h-8.25zM551.00 213.00h5.25v5.25h-5.25zM343.00 218.00h8.25v5.25h-8.25zM351.00 223.00h5.25v5.25h-5.25zM356.00 228.00h5.25v5.25h-5.25zM386.00 243.00h5.25v5.25h-5.25zM461.00 248.00h5.25v5.25h-5.25zM461.00 253.00h5.25v5.25h-5.25zM391.00 258.00h5.25v5.25h-5.25zM551.00 258.00h5.25v5.25h-5.25zM391.00 263.00h5.25v5.25h-5.25z"/>
<path fill="#00cef4" d="M406.00 188.00h5.25v5.25h-5.25zM516.00 198.00h5.25v5.25h-5.25zM391.00 203.00h5.25v5.25h-5.25zM481.00 203.00h5.25v5.25h-5.25zM526.00 203.00h5.25v5.25h-5.25zM436.00 213.00h5.25v5.25h-5.25zM471.00 213.00h5.25v5.25h-5.25zM391.00 218.00h5.25v5.25h-5.25zM466.00 223.00h5.25v5.25h-5.25zM401.00 228.00h5.25v5.25h-5.25zM466.00 228.00h5.25v5.25h-5.25zM426.00 238.00h5.25v5.25h-5.25zM471.00 238.00h5.25v5.25h-5.25zM531.00 243.00h5.25v5.25h-5.25zM511.00 263.00h10.25v5.25h-10.25z"/>
<path fill="#00aff4" d="M411.00 188.00h5.25v5.25h-5.25zM431.00 198.00h5.25v5.25h-5.25zM496.00 198.00h5.25v5.25h-5.25zM511.00 198.00h5.25v5.25h-5.25zM486.00 203.00h5.25v5.25h-5.25zM521.00 203.00h5.25v5.25h-5.25zM391.00 208.00h5.25v5.25h-5.25zM391.00 213.00h5.25v5.25h-5.25zM471.00 218.00h5.25v5.25h-5.25zM406.00 228.00h5.25v5.25h-5.25zM441.00 233.00h5.25v5.25h-5.25zM471.00 233.00h5.25v5.25h-5.25zM531.00 233.00h5.25v5.25h-5.25zM476.00 243.00h5.25v5.25h-5.25zM526.00 248.00h5.25v5.25h-5.25zM516.00 258.00h5.25v5.25h-5.25zM496.00 263.00h10.25v5.25h-10.25z"/>
<path fill="#0091f4" d="M416.00 188.00h5.25v5.25h-5.25zM406.00 193.00h5.25v5.25h-5.25zM426.00 193.00h5.25v5.25h-5.25zM491.00 203.00h5.25v5.25h-5.25zM516.00 203.00h5.25v5.25h-5.25zM481.00 208.00h5.25v5.25h-5.25zM526.00 208.00h5.25v5.25h-5.25zM476.00 213.00h5.25v5.25h-5.25zM396.00 218.00h5.25v5.25h-5.25zM431.00 218.00h5.25v5.25h-5.25zM401.00 223.00h5.25v5.25h-5.25zM441.00 223.00h5.25v5.25h-5.25zM411.00 228.00h5.25v5.25h-5.25zM421.00 233.00h5.25v5.25h-5.25zM476.00 238.00h5.25v5.25h-5.25zM526.00 238.00h5.25v5.25h-5.25zM506.00 258.00h5.25v5.25h-5.25z"/>
<path fill="#00a0f4" d="M421.00 188.00h5.25v5.25h-5.25zM396.00 198.00h5.25v5.25h-5.25zM501.00 198.00h10.25v5.25h-10.25zM431.00 203.00h5.25v5.25h-5.25zM431.00 208.00h5.25v5.25h-5.25zM431.00 213.00h5.25v5.25h-5.25zM531.00 213.00h5.25v5.25h-5.25zM436.00 218.00h5.25v5.25h-5.25zM531.00 218.00h5.25v5.25h-5.25zM471.00 223.00h5.25v5.25h-5.25zM531.00 223.00h5.25v5.25h-5.25zM471.00 228.00h5.25v5.25h-5.25zM531.00 228.00h5.25v5.25h-5.25zM416.00 233.00h5.25v5.25h-5.25zM526.00 243.00h5.25v5.25h-5.25zM481.00 248.00h5.25v5.25h-5.25zM486.00 253.00h5.25v5.25h-5.25zM521.00 253.00h5.25v5.25h-5.25zM491.00 258.00h5.25v5.25h-5.25zM511.00 258.00h5.25v5.25h-5.25z"/>
<path fill="#00bff4" d="M426.00 188.00h5.25v5.25h-5.25zM401.00 193.00h5.25v5.25h-5.25zM431.00 193.00h5.25v5.25h-5.25zM491.00 198.00h5.25v5.25h-5.25zM476.00 208.00h5.25v5.25h-5.25zM531.00 208.00h5.25v5.25h-5.25zM441.00 218.00h5.25v5.25h-5.25zM396.00 223.00h5.25v5.25h-5.25zM411.00 233.00h5.25v5.25h-5.25zM416.00 238.00h10.25v5.25h-10.25zM531.00 238.00h5.25v5.25h-5.25zM476.00 248.00h5.25v5.25h-5.25zM481.00 253.00h5.25v5.25h-5.25zM526.00 253.00h5.25v5.25h-5.25zM486.00 258.00h5.25v5.25h-5.25zM521.00 258.00h5.25v5.25h-5.25zM491.00 263.00h5.25v5.25h-5.25zM506.00 263.00h5.25v5.25h-5.25z"/>
<path fill="#00ddf4" d="M431.00 188.00h5.25v5.25h-5.25zM501.00 193.00h10.25v5.25h-10.25zM486.00 198.00h5.25v5.25h-5.25zM436.00 203.00h5.25v5.25h-5.25zM386.00 208.00h5.25v5.25h-5.25zM436.00 208.00h5.25v5.25h-5.25zM386.00 213.00h5.25v5.25h-5.25zM536.00 213.00h5.25v5.25h-5.25zM466.00 218.00h5.25v5.25h-5.25zM536.00 218.00h5.25v5.25h-5.25zM446.00 223.00h5.25v5.25h-5.25zM536.00 223.00h5.25v5.25h-5.25zM446.00 228.00h5.25v5.25h-5.25zM536.00 228.00h5.25v5.25h-5.25zM406.00 233.00h5.25v5.25h-5.25zM411.00 238.00h5.25v5.25h-5.25zM431.00 238.00h5.25v5.25h-5.25zM416.00 243.00h10.25v5.25h-10.25zM531.00 248.00h5.25v5.25h-5.25zM476.00 253.00h5.25v5.25h-5.25zM481.00 258.00h5.25v5.25h-5.25zM526.00 258.00h5.25v5.25h-5.25zM486.00 263.00h5.25v5.25h-5.25zM521.00 263.00h5.25v5.25h-5.25z"/>
<path fill="#00edf4" d="M396.00 193.00h5.25v5.25h-5.25zM436.00 193.00h5.25v5.25h-5.25zM491.00 193.00h10.25v5.25h-10.25zM391.00 198.00h5.25v5.25h-5.25zM436.00 198.00h5.25v5.25h-5.25zM521.00 198.00h5.25v5.25h-5.25zM476.00 203.00h5.25v5.25h-5.25zM471.00 208.00h5.25v5.25h-5.25zM441.00 213.00h5.25v5.25h-5.25zM446.00 218.00h5.25v5.25h-5.25zM391.00 223.00h5.25v5.25h-5.25zM461.00 223.00h5.25v5.25h-5.25zM396.00 228.00h5.25v5.25h-5.25zM461.00 228.00h5.25v5.25h-5.25zM466.00 233.00h5.25v5.25h-5.25zM536.00 233.00h5.25v5.25h-5.25zM536.00 238.00h5.25v5.25h-5.25zM471.00 243.00h5.25v5.25h-5.25zM471.00 248.00h5.25v5.25h-5.25zM531.00 253.00h5.25v5.25h-5.25zM491.00 268.00h30.25v5.25h-30.25z"/>
<path fill="#0063f4" d="M411.00 193.00h5.25v5.25h-5.25zM406.00 198.00h5.25v5.25h-5.25zM426.00 203.00h5.25v5.25h-5.25zM491.00 208.00h10.25v5.25h-10.25zM511.00 208.00h10.25v5.25h-10.25zM481.00 213.00h5.25v5.25h-5.25zM401.00 218.00h5.25v5.25h-5.25zM411.00 223.00h15.25v5.25h-15.25zM476.00 223.00h5.25v5.25h-5.25zM426.00 228.00h5.25v5.25h-5.25zM476.00 228.00h5.25v5.25h-5.25zM521.00 233.00h5.25v5.25h-5.25zM481.00 238.00h5.25v5.25h-5.25zM521.00 238.00h5.25v5.25h-5.25zM486.00 243.00h5.25v5.25h-5.25zM491.00 248.00h5.25v5.25h-5.25zM516.00 248.00h5.25v5.25h-5.25zM496.00 253.00h15.25v5.25h-15.25z"/>
<path fill="#0044f4" d="M416.00 193.00h5.25v5.25h-5.25zM411.00 198.00h5.25v5.25h-5.25zM401.00 203.00h15.25v5.25h-15.25zM401.00 208.00h20.25v5.25h-20.25zM411.00 213.00h10.25v5.25h-10.25zM491.00 213.00h30.25v5.25h-30.25zM411.00 218.00h10.25v5.25h-10.25zM491.00 218.00h30.25v5.25h-30.25zM481.00 223.00h20.25v5.25h-20.25zM511.00 223.00h10.25v5.25h-10.25zM481.00 228.00h15.25v5.25h-15.25zM516.00 228.00h5.25v5.25h-5.25zM516.00 233.00h5.25v5.25h-5.25zM511.00 238.00h10.25v5.25h-10.25zM491.00 243.00h5.25v5.25h-5.25zM506.00 243.00h5.25v5.25h-5.25zM496.00 248.00h15.25v5.25h-15.25z"/>
<path fill="#0054f4" d="M421.00 193.00h5.25v5.25h-5.25zM421.00 208.00h5.25v5.25h-5.25zM501.00 208.00h10.25v5.25h-10.25zM401.00 213.00h10.25v5.25h-10.25zM421.00 213.00h5.25v5.25h-5.25zM486.00 213.00h5.25v5.25h-5.25zM521.00 213.00h5.25v5.25h-5.25zM406.00 218.00h5.25v5.25h-5.25zM421.00 218.00h5.25v5.25h-5.25zM481.00 218.00h10.25v5.25h-10.25zM521.00 218.00h5.25v5.25h-5.25zM521.00 223.00h5.25v5.25h-5.25zM431.00 228.00h10.25v5.25h-10.25zM521.00 228.00h5.25v5.25h-5.25zM481.00 233.00h10.25v5.25h-10.25zM486.00 238.00h5.25v5.25h-5.25zM511.00 243.00h10.25v5.25h-10.25zM511.00 248.00h5.25v5.25h-5.25z"/>
<path fill="#0072f4" d="M401.00 198.00h5.25v5.25h-5.25zM426.00 198.00h5.25v5.25h-5.25zM396.00 203.00h5.25v5.25h-5.25zM501.00 203.00h10.25v5.25h-10.25zM396.00 208.00h5.25v5.25h-5.25zM426.00 208.00h5.25v5.25h-5.25zM486.00 208.00h5.25v5.25h-5.25zM521.00 208.00h5.25v5.25h-5.25zM396.00 213.00h5.25v5.25h-5.25zM426.00 213.00h5.25v5.25h-5.25zM526.00 213.00h5.25v5.25h-5.25zM426.00 218.00h5.25v5.25h-5.25zM476.00 218.00h5.25v5.25h-5.25zM526.00 218.00h5.25v5.25h-5.25zM406.00 223.00h5.25v5.25h-5.25zM426.00 223.00h15.25v5.25h-15.25zM526.00 223.00h5.25v5.25h-5.25zM421.00 228.00h5.25v5.25h-5.25zM526.00 228.00h5.25v5.25h-5.25zM476.00 233.00h5.25v5.25h-5.25zM521.00 243.00h5.25v5.25h-5.25zM511.00 253.00h5.25v5.25h-5.25z"/>
<path fill="#0026f4" d="M416.00 198.00h5.25v5.25h-5.25zM416.00 203.00h5.25v5.25h-5.25zM496.00 228.00h5.25v5.25h-5.25zM511.00 228.00h5.25v5.25h-5.25zM511.00 233.00h5.25v5.25h-5.25zM496.00 243.00h10.25v5.25h-10.25z"/>
<path fill="#0035f4" d="M421.00 198.00h5.25v5.25h-5.25zM421.00 203.00h5.25v5.25h-5.25zM501.00 223.00h10.25v5.25h-10.25zM491.00 233.00h5.25v5.25h-5.25zM491.00 238.00h5.25v5.25h-5.25zM506.00 238.00h5.25v5.25h-5.25z"/>
<path fill="#0082f4" d="M496.00 203.00h5.25v5.25h-5.25zM511.00 203.00h5.25v5.25h-5.25zM416.00 228.00h5.25v5.25h-5.25zM441.00 228.00h5.25v5.25h-5.25zM426.00 233.00h15.25v5.25h-15.25zM526.00 233.00h5.25v5.25h-5.25zM481.00 243.00h5.25v5.25h-5.25zM486.00 248.00h5.25v5.25h-5.25zM521.00 248.00h5.25v5.25h-5.25zM491.00 253.00h5.25v5.25h-5.25zM516.00 253.00h5.25v5.25h-5.25zM496.00 258.00h10.25v5.25h-10.25z"/>
<path fill="#bff435" d="M576.00 203.00h13.25v5.25h-13.25zM571.00 208.00h5.25v5.25h-5.25zM556.00 213.00h15.25v5.25h-15.25zM551.00 218.00h5.25v5.25h-5.25zM343.00 223.00h8.25v5.25h-8.25zM551.00 223.00h5.25v5.25h-5.25zM551.00 228.00h5.25v5.25h-5.25zM361.00 233.00h5.25v5.25h-5.25zM551.00 233.00h5.25v5.25h-5.25zM381.00 238.00h5.25v5.25h-5.25zM551.00 238.00h5.25v5.25h-5.25zM451.00 243.00h10.25v5.25h-10.25zM551.00 243.00h5.25v5.25h-5.25zM446.00 248.00h5.25v5.25h-5.25zM551.00 248.00h5.25v5.25h-5.25zM446.00 253.00h5.25v5.25h-5.25zM551.00 253.00h5.25v5.25h-5.25zM451.00 258.00h10.25v5.25h-10.25zM556.00 258.00h33.25v5.25h-33.25z"/>
<path fill="#cef426" d="M576.00 208.00h5.25v5.25h-5.25zM571.00 213.00h5.25v5.25h-5.25zM556.00 218.00h5.25v5.25h-5.25zM351.00 228.00h5.25v5.25h-5.25zM371.00 238.00h10.25v5.25h-10.25zM381.00 248.00h5.25v5.25h-5.25zM556.00 253.00h5.25v5.25h-5.25zM343.00 263.00h48.25v5.25h-48.25z"/>
<path fill="#ddf416" d="M581.00 208.00h8.25v5.25h-8.25zM561.00 218.00h10.25v5.25h-10.25zM556.00 223.00h5.25v5.25h-5.25zM343.00 228.00h8.25v5.25h-8.25zM556.00 228.00h5.25v5.25h-5.25zM356.00 233.00h5.25v5.25h-5.25zM556.00 233.00h5.25v5.25h-5.25zM366.00 238.00h5.25v5.25h-5.25zM556.00 238.00h5.25v5.25h-5.25zM381.00 243.00h5.25v5.25h-5.25zM556.00 243.00h5.25v5.25h-5.25zM451.00 248.00h10.25v5.25h-10.25zM556.00 248.00h5.25v5.25h-5.25zM381.00 253.00h5.25v5.25h-5.25zM451.00 253.00h10.25v5.25h-10.25zM561.00 253.00h28.25v5.25h-28.25zM386.00 258.00h5.25v5.25h-5.25z"/>
<path fill="#edf407" d="M576.00 213.00h5.25v5.25h-5.25zM571.00 218.00h10.25v5.25h-10.25zM381.00 258.00h5.25v5.25h-5.25z"/>
<path fill="#f4ed00" d="M581.00 213.00h8.25v5.25h-8.25zM581.00 218.00h8.25v5.25h-8.25zM561.00 223.00h10.25v5.25h-10.25zM561.00 228.00h5.25v5.25h-5.25zM351.00 233.00h5.25v5.25h-5.25zM361.00 238.00h5.25v5.25h-5.25zM371.00 243.00h10.25v5.25h-10.25zM561.00 243.00h5.25v5.25h-5.25zM371.00 248.00h10.25v5.25h-10.25zM561.00 248.00h10.25v5.25h-10.25zM366.00 253.00h15.25v5.25h-15.25zM361.00 258.00h20.25v5.25h-20.25z"/>
<path fill="#f4dd00" d="M571.00 223.00h18.25v5.25h-18.25zM561.00 233.00h5.25v5.25h-5.25zM561.00 238.00h5.25v5.25h-5.25zM366.00 243.00h5.25v5.25h-5.25zM366.00 248.00h5.25v5.25h-5.25zM571.00 248.00h18.25v5.25h-18.25zM351.00 258.00h10.25v5.25h-10.25z"/>
<path fill="#0016f4" d="M501.00 228.00h10.25v5.25h-10.25zM496.00 233.00h15.25v5.25h-15.25zM496.00 238.00h10.25v5.25h-10.25z"/>
<path fill="#f4ce00" d="M566.00 228.00h5.25v5.25h-5.25zM343.00 233.00h8.25v5.25h-8.25zM356.00 238.00h5.25v5.25h-5.25zM566.00 243.00h5.25v5.25h-5.25zM361.00 253.00h5.25v5.25h-5.25zM343.00 258.00h8.25v5.25h-8.25z"/>
<path fill="#f4bf00" d="M571.00 228.00h18.25v5.25h-18.25zM566.00 233.00h5.25v5.25h-5.25zM566.00 238.00h5.25v5.25h-5.25zM361.00 243.00h5.25v5.25h-5.25zM571.00 243.00h18.25v5.25h-18.25zM361.00 248.00h5.25v5.25h-5.25zM356.00 253.00h5.25v5.25h-5.25z"/>
<path fill="#f4af00" d="M571.00 233.00h18.25v5.25h-18.25zM351.00 238.00h5.25v5.25h-5.25zM571.00 238.00h18.25v5.25h-18.25z"/>
<path fill="#f49100" d="M343.00 238.00h8.25v5.25h-8.25zM343.00 253.00h8.25v5.25h-8.25z"/>
<path fill="#f47200" d="M343.00 243.00h8.25v5.25h-8.25zM343.00 248.00h8.25v5.25h-8.25z"/>
<path fill="#f48200" d="M351.00 243.00h5.25v5.25h-5.25zM351.00 248.00h5.25v5.25h-5.25z"/>
<path fill="#f4a000" d="M356.00 243.00h5.25v5.25h-5.25zM356.00 248.00h5.25v5.25h-5.25zM351.00 253.00h5.25v5.25h-5.25z"/>
<path fill="#a0f454" d="M446.00 243.00h5.25v5.25h-5.25zM386.00 253.00h5.25v5.25h-5.25zM446.00 258.00h5.25v5.25h-5.25zM461.00 258.00h5.25v5.25h-5.25z"/>
</g>
<path d="M466.8,286.6 L473.0,285.6 L478.9,283.7 L484.0,281.3 L488.4,278.7 L492.3,275.8 L495.8,272.7 L499.0,269.4 L501.8,266.0 L504.4,262.4 L506.7,258.8 L508.7,255.0 L510.5,251.1 L512.0,247.2 L513.3,243.2 L514.3,239.2 L515.1,235.1 L515.7,231.0 L516.0,226.9 L516.1,222.8 L516.0,218.8 L515.6,214.7 L515.0,210.7 L514.2,206.7 L513.1,202.8 L511.8,199.0 L510.3,195.3 L508.5,191.7 L506.4,188.2 L504.1,184.9 L501.5,181.7 L498.6,178.7 L495.4,175.9 L492.0,173.4 L488.5,171.3 L486.0,169.7 L489.7,169.3" stroke="#c4c4c4" stroke-opacity="0.75" stroke-width="0.6" fill="none"/>
<path d="M466.5,286.6 L470.7,285.1 L474.2,282.9 L477.2,280.3 L479.9,277.5 L482.2,274.5 L484.2,271.3 L486.1,268.0 L487.8,264.5 L489.3,260.9 L490.6,257.1 L491.8,253.3 L492.9,249.4 L493.7,245.5 L494.5,241.4 L495.1,237.4 L495.5,233.3 L495.9,229.2 L496.0,225.1 L496.1,221.0 L496.0,216.9 L495.7,212.9 L495.3,208.9 L494.8,204.9 L494.1,201.1 L493.3,197.3 L492.4,193.6 L491.2,190.0 L490.0,186.6 L488.5,183.3 L486.9,180.2 L485.1,177.3 L483.2,174.6 L481.1,172.2 L479.1,170.2 L479.0,168.9 L489.1,169.2" stroke="#c4c4c4" stroke-opacity="0.75" stroke-width="0.6" fill="none"/>
<path d="M466.2,286.5 L467.6,284.8 L468.8,282.4 L469.8,279.8 L470.7,276.9 L471.5,273.8 L472.1,270.6 L472.8,267.2 L473.3,263.6 L473.8,260.0 L474.3,256.2 L474.6,252.4 L475.0,248.4 L475.3,244.5 L475.5,240.4 L475.7,236.3 L475.9,232.2 L476.0,228.1 L476.0,224.0 L476.0,219.9 L476.0,215.9 L475.9,211.8 L475.8,207.8 L475.6,203.9 L475.3,200.0 L475.1,196.3 L474.7,192.6 L474.4,189.1 L473.9,185.6 L473.4,182.4 L472.9,179.3 L472.3,176.4 L471.6,173.7 L470.9,171.4 L470.2,169.4 L471.5,168.2 L489.0,169.1" stroke="#c4c4c4" stroke-opacity="0.75" stroke-width="0.6" fill="none"/>
<path d="M465.8,286.5 L464.4,284.8 L463.2,282.4 L462.2,279.8 L461.3,276.9 L460.5,273.8 L459.9,270.6 L459.2,267.2 L458.7,263.6 L458.2,260.0 L457.7,256.2 L457.4,252.4 L457.0,248.4 L456.7,244.5 L456.5,240.4 L456.3,236.3 L456.1,232.2 L456.0,228.1 L456.0,224.0 L456.0,219.9 L456.0,215.9 L456.1,211.8 L456.2,207.8 L456.4,203.9 L456.7,200.0 L456.9,196.3 L457.3,192.6 L457.6,189.1 L458.1,185.6 L458.6,182.4 L459.1,179.3 L459.7,176.4 L460.4,173.7 L461.1,171.4 L461.8,169.4 L460.5,168.2 L443.0,169.1" stroke="#c4c4c4" stroke-opacity="0.75" stroke-width="0.6" fill="none"/>
<path d="M465.5,286.6 L461.3,285.1 L457.8,282.9 L454.8,280.3 L452.1,277.5 L449.8,274.5 L447.8,271.3 L445.9,268.0 L444.2,264.5 L442.7,260.9 L441.4,257.1 L440.2,253.3 L439.1,249.4 L438.3,245.5 L437.5,241.4 L436.9,237.4 L436.5,233.3 L436.1,229.2 L436.0,225.1 L435.9,221.0 L436.0,216.9 L436.3,212.9 L436.7,208.9 L437.2,204.9 L437.9,201.1 L438.7,197.3 L439.6,193.6 L440.8,190.0 L442.0,186.6 L443.5,183.3 L445.1,180.2 L446.9,177.3 L448.8,174.6 L450.9,172.2 L452.9,170.2 L453.0,168.9 L442.9,169.2" stroke="#c4c4c4" stroke-opacity="0.75" stroke-width="0.6" fill="none"/>
<path d="M465.2,286.6 L459.0,285.6 L453.1,283.7 L448.0,281.3 L443.6,278.7 L439.7,275.8 L436.2,272.7 L433.0,269.4 L430.2,266.0 L427.6,262.4 L425.3,258.8 L423.3,255.0 L421.5,251.1 L420.0,247.2 L418.7,243.2 L417.7,239.2 L416.9,235.1 L416.3,231.0 L416.0,226.9 L415.9,222.8 L416.0,218.8 L416.4,214.7 L417.0,210.7 L417.8,206.7 L418.9,202.8 L420.2,199.0 L421.7,195.3 L423.5,191.7 L425.6,188.2 L427.9,184.9 L430.5,181.7 L433.4,178.7 L436.6,175.9 L440.0,173.4 L443.5,171.3 L446.0,169.7 L442.3,169.3" stroke="#c4c4c4" stroke-opacity="0.75" stroke-width="0.6" fill="none"/>
<path d="M465.2,286.7 L457.7,286.3 L449.5,284.7 L442.2,282.6 L435.9,280.1 L430.2,277.3 L425.2,274.3 L420.7,271.1 L416.6,267.8 L412.9,264.3 L409.6,260.7 L406.7,257.0 L404.2,253.2 L402.0,249.3 L400.1,245.3 L398.6,241.3 L397.4,237.2 L396.6,233.2 L396.0,229.1 L395.8,225.0 L396.0,220.9 L396.4,216.8 L397.2,212.8 L398.3,208.8 L399.8,204.9 L401.5,201.0 L403.7,197.2 L406.1,193.6 L409.0,190.0 L412.2,186.6 L415.8,183.3 L419.8,180.2 L424.2,177.3 L429.0,174.7 L434.3,172.3 L439.4,170.4 L441.4,169.4" stroke="#c4c4c4" stroke-opacity="0.75" stroke-width="0.6" fill="none"/>
<path d="M465.4,286.8 L458.2,287.1 L447.0,285.8 L437.1,283.8 L428.6,281.4 L421.1,278.7 L414.4,275.8 L408.5,272.7 L403.1,269.4 L398.3,266.0 L394.0,262.4 L390.2,258.7 L386.9,254.9 L384.0,251.1 L381.6,247.1 L379.6,243.1 L378.0,239.1 L376.9,235.0 L376.2,230.9 L375.9,226.8 L376.0,222.7 L376.6,218.6 L377.5,214.6 L378.9,210.5 L380.8,206.6 L383.0,202.7 L385.7,198.9 L388.9,195.1 L392.5,191.5 L396.6,188.0 L401.3,184.7 L406.4,181.5 L412.2,178.5 L418.6,175.7 L425.7,173.1 L433.5,170.9 L440.5,169.4" stroke="#c4c4c4" stroke-opacity="0.75" stroke-width="0.6" fill="none"/>
<path d="M465.8,286.9 L461.3,287.8 L444.3,286.6 L431.1,284.6 L420.4,282.3 L411.0,279.6 L402.8,276.7 L395.5,273.6 L388.9,270.4 L383.1,266.9 L377.8,263.4 L373.2,259.7 L369.2,256.0 L365.7,252.1 L362.7,248.2 L360.3,244.2 L358.5,240.1 L357.1,236.1 L356.3,232.0 L356.0,227.9 L356.2,223.8 L356.9,219.7 L358.1,215.6 L359.9,211.5 L362.2,207.6 L365.0,203.6 L368.4,199.8 L372.3,196.0 L376.8,192.4 L381.9,188.8 L387.6,185.4 L394.0,182.2 L401.2,179.1 L409.2,176.2 L418.3,173.6 L428.7,171.2 L439.8,169.5" stroke="#c4c4c4" stroke-opacity="0.75" stroke-width="0.6" fill="none"/>
<path d="M466.2,286.9 L470.7,287.8 L487.7,286.6 L500.9,284.6 L511.6,282.3 L521.0,279.6 L529.2,276.7 L536.5,273.6 L543.1,270.4 L548.9,266.9 L554.2,263.4 L558.8,259.7 L562.8,256.0 L566.3,252.1 L569.3,248.2 L571.7,244.2 L573.5,240.1 L574.9,236.1 L575.7,232.0 L576.0,227.9 L575.8,223.8 L575.1,219.7 L573.9,215.6 L572.1,211.5 L569.8,207.6 L567.0,203.6 L563.6,199.8 L559.7,196.0 L555.2,192.4 L550.1,188.8 L544.4,185.4 L538.0,182.2 L530.8,179.1 L522.8,176.2 L513.7,173.6 L503.3,171.2 L492.2,169.5" stroke="#c4c4c4" stroke-opacity="0.75" stroke-width="0.6" fill="none"/>
<path d="M466.6,286.8 L473.8,287.1 L485.0,285.8 L494.9,283.8 L503.4,281.4 L510.9,278.7 L517.6,275.8 L523.5,272.7 L528.9,269.4 L533.7,266.0 L538.0,262.4 L541.8,258.7 L545.1,254.9 L548.0,251.1 L550.4,247.1 L552.4,243.1 L554.0,239.1 L555.1,235.0 L555.8,230.9 L556.1,226.8 L556.0,222.7 L555.4,218.6 L554.5,214.6 L553.1,210.5 L551.2,206.6 L549.0,202.7 L546.3,198.9 L543.1,195.1 L539.5,191.5 L535.4,188.0 L530.7,184.7 L525.6,181.5 L519.8,178.5 L513.4,175.7 L506.3,173.1 L498.5,170.9 L491.5,169.4" stroke="#c4c4c4" stroke-opacity="0.75" stroke-width="0.6" fill="none"/>
<path d="M466.8,286.7 L474.3,286.3 L482.5,284.7 L489.8,282.6 L496.1,280.1 L501.8,277.3 L506.8,274.3 L511.3,271.1 L515.4,267.8 L519.1,264.3 L522.4,260.7 L525.3,257.0 L527.8,253.2 L530.0,249.3 L531.9,245.3 L533.4,241.3 L534.6,237.2 L535.4,233.2 L536.0,229.1 L536.2,225.0 L536.0,220.9 L535.6,216.8 L534.8,212.8 L533.7,208.8 L532.2,204.9 L530.5,201.0 L528.3,197.2 L525.9,193.6 L523.0,190.0 L519.8,186.6 L516.2,183.3 L512.2,180.2 L507.8,177.3 L503.0,174.7 L497.7,172.3 L492.6,170.4 L490.6,169.4" stroke="#c4c4c4" stroke-opacity="0.75" stroke-width="0.6" fill="none"/>
<path d="M495.8,272.7 L493.9,272.4 L492.0,272.2 L490.1,272.0 L488.2,271.7 L486.2,271.5 L484.2,271.3 L482.3,271.2 L480.3,271.0 L478.2,270.9 L476.2,270.8 L474.2,270.7 L472.1,270.6 L470.1,270.5 L468.1,270.5 L466.0,270.5 L463.9,270.5 L461.9,270.5 L459.9,270.6 L457.8,270.7 L455.8,270.8 L453.8,270.9 L451.7,271.0 L449.7,271.2 L447.8,271.3 L445.8,271.5 L443.8,271.7 L441.9,272.0 L440.0,272.2 L438.1,272.4 L436.2,272.7 L434.3,273.0 L432.5,273.2 L430.6,273.5 L428.8,273.8 L427.0,274.1 L425.2,274.3 L423.4,274.6 L421.6,274.9 L419.8,275.1 L418.0,275.4 L416.2,275.6 L414.4,275.8 L412.6,276.0 L410.7,276.2 L408.8,276.4 L406.9,276.5 L404.9,276.6 L402.8,276.7 L400.7,276.8 L398.5,276.8" stroke="#c4c4c4" stroke-opacity="0.75" stroke-width="0.6" fill="none"/>
<path d="M535.7,276.8 L533.5,276.8 L531.3,276.8 L529.2,276.7 L527.1,276.6 L525.1,276.5 L523.2,276.4 L521.3,276.2 L519.4,276.0 L517.6,275.8 L515.8,275.6 L514.0,275.4 L512.2,275.1 L510.4,274.9 L508.6,274.6 L506.8,274.3 L505.0,274.1 L503.2,273.8 L501.4,273.5 L499.5,273.2 L497.7,273.0 L495.8,272.7" stroke="#c4c4c4" stroke-opacity="0.75" stroke-width="0.6" fill="none"/>
<path d="M510.5,251.1 L507.6,250.8 L504.6,250.5 L501.7,250.2 L498.8,249.9 L495.8,249.7 L492.9,249.4 L489.9,249.2 L486.9,249.0 L483.9,248.8 L481.0,248.7 L478.0,248.5 L475.0,248.4 L472.0,248.4 L469.0,248.3 L466.0,248.3 L463.0,248.3 L460.0,248.4 L457.0,248.4 L454.0,248.5 L451.0,248.7 L448.1,248.8 L445.1,249.0 L442.1,249.2 L439.1,249.4 L436.2,249.7 L433.2,249.9 L430.3,250.2 L427.4,250.5 L424.4,250.8 L421.5,251.1 L418.6,251.5 L415.7,251.8 L412.8,252.1 L409.9,252.5 L407.1,252.8 L404.2,253.2 L401.3,253.5 L398.4,253.8 L395.6,254.1 L392.7,254.4 L389.8,254.7 L386.9,254.9 L384.0,255.2 L381.1,255.4 L378.1,255.6 L375.2,255.7 L372.2,255.8 L369.2,256.0 L366.1,256.0 L363.1,256.1" stroke="#c4c4c4" stroke-opacity="0.75" stroke-width="0.6" fill="none"/>
<path d="M572.0,256.1 L568.9,256.1 L565.9,256.0 L562.8,256.0 L559.8,255.8 L556.8,255.7 L553.9,255.6 L550.9,255.4 L548.0,255.2 L545.1,254.9 L542.2,254.7 L539.3,254.4 L536.4,254.1 L533.6,253.8 L530.7,253.5 L527.8,253.2 L524.9,252.8 L522.1,252.5 L519.2,252.1 L516.3,251.8 L513.4,251.5 L510.5,251.1" stroke="#c4c4c4" stroke-opacity="0.75" stroke-width="0.6" fill="none"/>
<path d="M516.0,226.9 L512.7,226.6 L509.4,226.3 L506.0,225.9 L502.7,225.6 L499.4,225.4 L496.0,225.1 L492.7,224.9 L489.4,224.6 L486.0,224.4 L482.7,224.3 L479.4,224.1 L476.0,224.0 L472.7,224.0 L469.3,223.9 L466.0,223.9 L462.7,223.9 L459.3,224.0 L456.0,224.0 L452.6,224.1 L449.3,224.3 L446.0,224.4 L442.6,224.6 L439.3,224.9 L436.0,225.1 L432.6,225.4 L429.3,225.6 L426.0,225.9 L422.6,226.3 L419.3,226.6 L416.0,226.9 L412.6,227.3 L409.3,227.6 L406.0,228.0 L402.7,228.4 L399.4,228.7 L396.0,229.1 L392.7,229.4 L389.4,229.7 L386.1,230.1 L382.8,230.4 L379.5,230.6 L376.2,230.9 L372.9,231.1 L369.6,231.4 L366.2,231.6 L362.9,231.7 L359.6,231.9 L356.3,232.0 L352.9,232.0 L349.6,232.1" stroke="#c4c4c4" stroke-opacity="0.75" stroke-width="0.6" fill="none"/>
<path d="M585.7,232.1 L582.4,232.1 L579.1,232.0 L575.7,232.0 L572.4,231.9 L569.1,231.7 L565.8,231.6 L562.4,231.4 L559.1,231.1 L555.8,230.9 L552.5,230.6 L549.2,230.4 L545.9,230.1 L542.6,229.7 L539.3,229.4 L536.0,229.1 L532.6,228.7 L529.3,228.4 L526.0,228.0 L522.7,227.6 L519.4,227.3 L516.0,226.9" stroke="#c4c4c4" stroke-opacity="0.75" stroke-width="0.6" fill="none"/>
<path d="M513.1,202.8 L510.0,202.5 L506.8,202.2 L503.6,201.9 L500.4,201.6 L497.3,201.3 L494.1,201.1 L491.0,200.8 L487.9,200.6 L484.7,200.4 L481.6,200.3 L478.5,200.2 L475.3,200.0 L472.2,200.0 L469.1,199.9 L466.0,199.9 L462.9,199.9 L459.8,200.0 L456.7,200.0 L453.5,200.2 L450.4,200.3 L447.3,200.4 L444.1,200.6 L441.0,200.8 L437.9,201.1 L434.7,201.3 L431.6,201.6 L428.4,201.9 L425.2,202.2 L422.0,202.5 L418.9,202.8 L415.7,203.2 L412.5,203.5 L409.3,203.9 L406.1,204.2 L402.9,204.5 L399.8,204.9 L396.6,205.2 L393.4,205.5 L390.2,205.8 L387.1,206.1 L383.9,206.3 L380.8,206.6 L377.6,206.8 L374.5,207.0 L371.4,207.2 L368.3,207.3 L365.2,207.5 L362.2,207.6 L359.1,207.6 L356.1,207.7" stroke="#c4c4c4" stroke-opacity="0.75" stroke-width="0.6" fill="none"/>
<path d="M578.9,207.7 L575.9,207.7 L572.9,207.6 L569.8,207.6 L566.8,207.5 L563.7,207.3 L560.6,207.2 L557.5,207.0 L554.4,206.8 L551.2,206.6 L548.1,206.3 L544.9,206.1 L541.8,205.8 L538.6,205.5 L535.4,205.2 L532.2,204.9 L529.1,204.5 L525.9,204.2 L522.7,203.9 L519.5,203.5 L516.3,203.2 L513.1,202.8" stroke="#c4c4c4" stroke-opacity="0.75" stroke-width="0.6" fill="none"/>
<path d="M501.5,181.7 L499.0,181.4 L496.6,181.1 L494.1,180.9 L491.7,180.6 L489.3,180.4 L486.9,180.2 L484.5,180.0 L482.2,179.8 L479.8,179.6 L477.5,179.5 L475.2,179.4 L472.9,179.3 L470.6,179.2 L468.3,179.2 L466.0,179.2 L463.7,179.2 L461.4,179.2 L459.1,179.3 L456.8,179.4 L454.5,179.5 L452.2,179.6 L449.8,179.8 L447.5,180.0 L445.1,180.2 L442.7,180.4 L440.3,180.6 L437.9,180.9 L435.4,181.1 L433.0,181.4 L430.5,181.7 L428.1,181.9 L425.6,182.2 L423.2,182.5 L420.7,182.8 L418.2,183.0 L415.8,183.3 L413.3,183.6 L410.9,183.8 L408.4,184.0 L406.0,184.3 L403.6,184.5 L401.3,184.7 L398.9,184.8 L396.6,185.0 L394.3,185.1 L392.0,185.2 L389.8,185.3 L387.6,185.4 L385.4,185.5 L383.3,185.5" stroke="#c4c4c4" stroke-opacity="0.75" stroke-width="0.6" fill="none"/>
<path d="M550.7,185.5 L548.7,185.5 L546.6,185.5 L544.4,185.4 L542.2,185.3 L540.0,185.2 L537.7,185.1 L535.4,185.0 L533.1,184.8 L530.7,184.7 L528.4,184.5 L526.0,184.3 L523.6,184.0 L521.1,183.8 L518.7,183.6 L516.2,183.3 L513.8,183.0 L511.3,182.8 L508.8,182.5 L506.4,182.2 L503.9,181.9 L501.5,181.7" stroke="#c4c4c4" stroke-opacity="0.75" stroke-width="0.6" fill="none"/>
</g>
<ellipse cx="466" cy="228" rx="120.0" ry="60.0" fill="none" stroke="#506060" stroke-opacity="0.55" stroke-width="0.7"/>
<text x="356.3" y="231.2" text-anchor="middle" fill="#dcdcdc" font-size="6.5">-120</text>
<text x="376.2" y="230.1" text-anchor="middle" fill="#dcdcdc" font-size="6.5">-150</text>
<text x="396.0" y="228.3" text-anchor="middle" fill="#dcdcdc" font-size="6.5">180</text>
<text x="416.0" y="226.1" text-anchor="middle" fill="#dcdcdc" font-size="6.5">150</text>
<text x="436.0" y="224.3" text-anchor="middle" fill="#dcdcdc" font-size="6.5">120</text>
<text x="456.0" y="223.2" text-anchor="middle" fill="#dcdcdc" font-size="6.5">90</text>
<text x="476.0" y="223.2" text-anchor="middle" fill="#dcdcdc" font-size="6.5">60</text>
<text x="496.0" y="224.3" text-anchor="middle" fill="#dcdcdc" font-size="6.5">30</text>
<text x="516.0" y="226.1" text-anchor="middle" fill="#dcdcdc" font-size="6.5">0</text>
<text x="536.0" y="228.3" text-anchor="middle" fill="#dcdcdc" font-size="6.5">-30</text>
<text x="555.8" y="230.1" text-anchor="middle" fill="#dcdcdc" font-size="6.5">-60</text>
<text x="575.7" y="231.2" text-anchor="middle" fill="#dcdcdc" font-size="6.5">-90</text>
<text x="500.5" y="181.9" text-anchor="middle" fill="#dcdcdc" font-size="6.5">60</text>
<text x="512.1" y="203.0" text-anchor="middle" fill="#dcdcdc" font-size="6.5">30</text>
<text x="509.5" y="251.3" text-anchor="middle" fill="#dcdcdc" font-size="6.5">-30</text>
<text x="494.8" y="272.9" text-anchor="middle" fill="#dcdcdc" font-size="6.5">-60</text>
<text x="490.6" y="168.9" text-anchor="middle" fill="#ababab" font-size="7">90</text>
<circle cx="463.9" cy="227.5" r="1.3" fill="#111"/>
<text x="462.5" y="225.0" fill="#111" stroke="#111" stroke-width="0.15" font-size="7.6">Tail</text>
<circle cx="356.4" cy="204.0" r="1.3" fill="#111"/>
<circle cx="584.4" cy="227.8" r="1.3" fill="#111"/>
<text x="582.4" y="225.7" fill="#7a1c1c" stroke="#7a1c1c" stroke-width="0.12" font-size="8">Nose</text>
<text x="573.2" y="201.8" fill="#7a1c1c" stroke="#7a1c1c" stroke-width="0.12" font-size="8">V1</text>
<circle cx="551.4" cy="256.5" r="1.3" fill="#111"/>
<text x="552.2" y="254.4" fill="#111" stroke="#111" stroke-width="0.12" font-size="8">V2</text>
<text x="334" y="180.7" fill="#000" stroke="#000" stroke-width="0.25" font-size="14.5">2.7 keV</text>
<rect x="346.5" y="296" width="240.0" height="4.3" fill="url(#jet)"/>
<text x="346.50" y="312.8" text-anchor="middle" fill="#6e1818" font-size="8">0</text>
<line x1="386.50" y1="296" x2="386.50" y2="300.3" stroke="#333" stroke-opacity="0.5" stroke-width="0.5"/>
<text x="386.50" y="312.8" text-anchor="middle" fill="#6e1818" font-size="8">5</text>
<line x1="426.50" y1="296" x2="426.50" y2="300.3" stroke="#333" stroke-opacity="0.5" stroke-width="0.5"/>
<text x="426.50" y="312.8" text-anchor="middle" fill="#6e1818" font-size="8">10</text>
<line x1="466.50" y1="296" x2="466.50" y2="300.3" stroke="#333" stroke-opacity="0.5" stroke-width="0.5"/>
<text x="466.50" y="312.8" text-anchor="middle" fill="#6e1818" font-size="8">15</text>
<line x1="506.50" y1="296" x2="506.50" y2="300.3" stroke="#333" stroke-opacity="0.5" stroke-width="0.5"/>
<text x="506.50" y="312.8" text-anchor="middle" fill="#6e1818" font-size="8">20</text>
<line x1="546.50" y1="296" x2="546.50" y2="300.3" stroke="#333" stroke-opacity="0.5" stroke-width="0.5"/>
<text x="546.50" y="312.8" text-anchor="middle" fill="#6e1818" font-size="8">25</text>
<text x="586.50" y="312.8" text-anchor="middle" fill="#6e1818" font-size="8">30</text>
<g clip-path="url(#c4)"><g filter="url(#bl)">
<path fill="#63f491" d="M23.50 325.00h78.25v8.25h-78.25zM96.50 343.00h10.25v5.25h-10.25zM146.50 343.00h5.25v5.25h-5.25zM71.50 348.00h5.25v5.25h-5.25zM216.50 348.00h5.25v5.25h-5.25zM23.50 353.00h28.25v5.25h-28.25zM221.50 353.00h5.25v5.25h-5.25zM261.50 353.00h8.25v5.25h-8.25zM23.50 358.00h28.25v5.25h-28.25zM226.50 358.00h5.25v5.25h-5.25zM256.50 358.00h13.25v5.25h-13.25zM23.50 363.00h28.25v5.25h-28.25zM251.50 363.00h18.25v5.25h-18.25zM23.50 368.00h28.25v5.25h-28.25zM231.50 368.00h5.25v5.25h-5.25zM246.50 368.00h23.25v5.25h-23.25zM23.50 373.00h28.25v5.25h-28.25zM241.50 373.00h28.25v5.25h-28.25zM23.50 378.00h28.25v5.25h-28.25zM241.50 378.00h28.25v5.25h-28.25zM241.50 383.00h28.25v5.25h-28.25zM241.50 388.00h28.25v5.25h-28.25zM241.50 393.00h28.25v5.25h-28.25zM241.50 398.00h28.25v5.25h-28.25zM31.50 403.00h5.25v5.25h-5.25zM126.50 403.00h5.25v5.25h-5.25zM241.50 403.00h28.25v5.25h-28.25zM36.50 408.00h5.25v5.25h-5.25zM121.50 408.00h5.25v5.25h-5.25zM146.50 408.00h5.25v5.25h-5.25zM241.50 408.00h28.25v5.25h-28.25zM76.50 413.00h5.25v5.25h-5.25zM91.50 413.00h5.25v5.25h-5.25zM106.50 413.00h5.25v5.25h-5.25zM231.50 413.00h38.25v5.25h-38.25zM96.50 418.00h10.25v5.25h-10.25zM231.50 418.00h38.25v5.25h-38.25zM221.50 423.00h48.25v5.25h-48.25zM221.50 428.00h48.25v5.25h-48.25zM151.50 433.00h20.25v5.25h-20.25zM201.50 433.00h68.25v5.25h-68.25zM146.50 438.00h25.25v5.25h-25.25zM201.50 438.00h68.25v5.25h-68.25zM141.50 443.00h128.25v8.25h-128.25z"/>
<path fill="#72f482" d="M101.50 325.00h5.25v8.25h-5.25zM23.50 333.00h78.25v5.25h-78.25zM161.50 338.00h30.25v5.25h-30.25zM86.50 343.00h10.25v5.25h-10.25zM116.50 343.00h5.25v5.25h-5.25zM136.50 343.00h10.25v5.25h-10.25zM196.50 343.00h5.25v5.25h-5.25zM23.50 348.00h48.25v5.25h-48.25zM261.50 348.00h8.25v5.25h-8.25zM256.50 353.00h5.25v5.25h-5.25zM251.50 358.00h5.25v5.25h-5.25zM231.50 363.00h5.25v5.25h-5.25zM246.50 363.00h5.25v5.25h-5.25zM236.50 368.00h10.25v5.25h-10.25zM23.50 403.00h8.25v5.25h-8.25zM41.50 413.00h5.25v5.25h-5.25zM81.50 413.00h10.25v5.25h-10.25zM111.50 413.00h10.25v5.25h-10.25zM146.50 428.00h5.25v5.25h-5.25zM146.50 433.00h5.25v5.25h-5.25zM141.50 438.00h5.25v5.25h-5.25zM136.50 443.00h5.25v8.25h-5.25z"/>
<path fill="#91f463" d="M106.50 325.00h5.25v8.25h-5.25zM106.50 333.00h5.25v5.25h-5.25zM161.50 333.00h30.25v5.25h-30.25zM23.50 338.00h83.25v5.25h-83.25zM23.50 343.00h53.25v5.25h-53.25zM216.50 343.00h5.25v5.25h-5.25zM261.50 343.00h8.25v5.25h-8.25zM141.50 403.00h5.25v5.25h-5.25zM23.50 408.00h8.25v5.25h-8.25zM36.50 413.00h5.25v5.25h-5.25zM66.50 418.00h5.25v5.25h-5.25zM76.50 418.00h15.25v5.25h-15.25zM111.50 418.00h10.25v5.25h-10.25zM146.50 418.00h5.25v5.25h-5.25zM146.50 423.00h5.25v5.25h-5.25zM131.50 443.00h5.25v8.25h-5.25z"/>
<path fill="#aff444" d="M111.50 325.00h158.25v8.25h-158.25zM121.50 333.00h30.25v5.25h-30.25zM201.50 333.00h68.25v5.25h-68.25zM121.50 338.00h30.25v5.25h-30.25zM201.50 338.00h68.25v5.25h-68.25zM231.50 343.00h20.25v5.25h-20.25zM231.50 348.00h20.25v5.25h-20.25zM131.50 403.00h5.25v5.25h-5.25zM31.50 413.00h5.25v5.25h-5.25zM121.50 413.00h5.25v5.25h-5.25zM61.50 418.00h5.25v5.25h-5.25zM86.50 423.00h5.25v5.25h-5.25zM111.50 423.00h10.25v5.25h-10.25zM111.50 428.00h15.25v5.25h-15.25zM141.50 428.00h5.25v5.25h-5.25zM96.50 433.00h35.25v5.25h-35.25zM101.50 438.00h30.25v5.25h-30.25zM101.50 443.00h30.25v8.25h-30.25z"/>
<path fill="#82f472" d="M101.50 333.00h5.25v5.25h-5.25zM106.50 338.00h10.25v5.25h-10.25zM156.50 338.00h5.25v5.25h-5.25zM191.50 338.00h5.25v5.25h-5.25zM76.50 343.00h10.25v5.25h-10.25zM121.50 343.00h15.25v5.25h-15.25zM201.50 343.00h15.25v5.25h-15.25zM221.50 348.00h5.25v5.25h-5.25zM256.50 348.00h5.25v5.25h-5.25zM226.50 353.00h5.25v5.25h-5.25zM251.50 353.00h5.25v5.25h-5.25zM231.50 358.00h5.25v5.25h-5.25zM246.50 358.00h5.25v5.25h-5.25zM236.50 363.00h10.25v5.25h-10.25zM31.50 408.00h5.25v5.25h-5.25zM71.50 418.00h5.25v5.25h-5.25zM91.50 418.00h5.25v5.25h-5.25zM106.50 418.00h5.25v5.25h-5.25zM96.50 423.00h10.25v5.25h-10.25zM141.50 433.00h5.25v5.25h-5.25zM136.50 438.00h5.25v5.25h-5.25z"/>
<path fill="#a0f454" d="M111.50 333.00h10.25v5.25h-10.25zM151.50 333.00h10.25v5.25h-10.25zM191.50 333.00h10.25v5.25h-10.25zM116.50 338.00h5.25v5.25h-5.25zM151.50 338.00h5.25v5.25h-5.25zM196.50 338.00h5.25v5.25h-5.25zM221.50 343.00h10.25v5.25h-10.25zM251.50 343.00h10.25v5.25h-10.25zM226.50 348.00h5.25v5.25h-5.25zM251.50 348.00h5.25v5.25h-5.25zM231.50 353.00h20.25v5.25h-20.25zM236.50 358.00h10.25v5.25h-10.25zM146.50 413.00h5.25v5.25h-5.25zM91.50 423.00h5.25v5.25h-5.25zM106.50 423.00h5.25v5.25h-5.25zM91.50 428.00h20.25v5.25h-20.25zM131.50 433.00h10.25v5.25h-10.25zM131.50 438.00h5.25v5.25h-5.25z"/>
<path fill="#54f4a0" d="M106.50 343.00h10.25v5.25h-10.25zM151.50 343.00h5.25v5.25h-5.25zM51.50 353.00h10.25v5.25h-10.25zM51.50 358.00h5.25v5.25h-5.25zM231.50 373.00h10.25v5.25h-10.25zM236.50 378.00h5.25v5.25h-5.25zM136.50 398.00h5.25v5.25h-5.25zM236.50 403.00h5.25v5.25h-5.25zM231.50 408.00h10.25v5.25h-10.25zM46.50 413.00h5.25v5.25h-5.25zM226.50 413.00h5.25v5.25h-5.25zM221.50 418.00h10.25v5.25h-10.25zM151.50 423.00h5.25v5.25h-5.25zM216.50 423.00h5.25v5.25h-5.25zM151.50 428.00h10.25v5.25h-10.25zM211.50 428.00h10.25v5.25h-10.25zM171.50 433.00h5.25v5.25h-5.25zM196.50 433.00h5.25v5.25h-5.25zM171.50 438.00h10.25v5.25h-10.25zM191.50 438.00h10.25v5.25h-10.25z"/>
<path fill="#35f4bf" d="M156.50 343.00h5.25v5.25h-5.25zM186.50 343.00h5.25v5.25h-5.25zM116.50 348.00h15.25v5.25h-15.25zM201.50 348.00h10.25v5.25h-10.25zM66.50 353.00h5.25v5.25h-5.25zM216.50 353.00h5.25v5.25h-5.25zM56.50 358.00h5.25v5.25h-5.25zM221.50 358.00h5.25v5.25h-5.25zM226.50 373.00h5.25v5.25h-5.25zM231.50 378.00h5.25v5.25h-5.25zM51.50 383.00h5.25v5.25h-5.25zM31.50 398.00h5.25v5.25h-5.25zM131.50 398.00h5.25v5.25h-5.25zM36.50 403.00h5.25v5.25h-5.25zM231.50 403.00h5.25v5.25h-5.25zM41.50 408.00h5.25v5.25h-5.25zM76.50 408.00h10.25v5.25h-10.25zM226.50 408.00h5.25v5.25h-5.25zM66.50 413.00h5.25v5.25h-5.25zM96.50 413.00h10.25v5.25h-10.25zM151.50 413.00h5.25v5.25h-5.25zM221.50 413.00h5.25v5.25h-5.25zM216.50 418.00h5.25v5.25h-5.25zM156.50 423.00h5.25v5.25h-5.25zM211.50 423.00h5.25v5.25h-5.25zM166.50 428.00h5.25v5.25h-5.25zM196.50 428.00h5.25v5.25h-5.25zM176.50 433.00h5.25v5.25h-5.25zM191.50 433.00h5.25v5.25h-5.25z"/>
<path fill="#26f4ce" d="M161.50 343.00h25.25v5.25h-25.25zM81.50 348.00h5.25v5.25h-5.25zM111.50 348.00h5.25v5.25h-5.25zM131.50 348.00h5.25v5.25h-5.25zM196.50 348.00h5.25v5.25h-5.25zM71.50 353.00h5.25v5.25h-5.25zM56.50 363.00h5.25v5.25h-5.25zM221.50 363.00h5.25v5.25h-5.25zM56.50 368.00h5.25v5.25h-5.25zM221.50 368.00h5.25v5.25h-5.25zM56.50 373.00h5.25v5.25h-5.25zM56.50 378.00h5.25v5.25h-5.25zM231.50 383.00h5.25v5.25h-5.25zM23.50 388.00h28.25v5.25h-28.25zM231.50 388.00h5.25v5.25h-5.25zM23.50 393.00h8.25v5.25h-8.25zM231.50 393.00h5.25v5.25h-5.25zM141.50 398.00h5.25v5.25h-5.25zM231.50 398.00h5.25v5.25h-5.25zM86.50 408.00h5.25v5.25h-5.25zM111.50 408.00h10.25v5.25h-10.25zM201.50 423.00h10.25v5.25h-10.25zM171.50 428.00h5.25v5.25h-5.25zM181.50 433.00h10.25v5.25h-10.25z"/>
<path fill="#44f4af" d="M191.50 343.00h5.25v5.25h-5.25zM76.50 348.00h5.25v5.25h-5.25zM211.50 348.00h5.25v5.25h-5.25zM61.50 353.00h5.25v5.25h-5.25zM51.50 363.00h5.25v5.25h-5.25zM226.50 363.00h5.25v5.25h-5.25zM51.50 368.00h5.25v5.25h-5.25zM226.50 368.00h5.25v5.25h-5.25zM51.50 373.00h5.25v5.25h-5.25zM51.50 378.00h5.25v5.25h-5.25zM23.50 383.00h28.25v5.25h-28.25zM236.50 383.00h5.25v5.25h-5.25zM236.50 388.00h5.25v5.25h-5.25zM236.50 393.00h5.25v5.25h-5.25zM23.50 398.00h8.25v5.25h-8.25zM236.50 398.00h5.25v5.25h-5.25zM51.50 413.00h15.25v5.25h-15.25zM71.50 413.00h5.25v5.25h-5.25zM151.50 418.00h5.25v5.25h-5.25zM161.50 428.00h5.25v5.25h-5.25zM201.50 428.00h10.25v5.25h-10.25zM181.50 438.00h10.25v5.25h-10.25z"/>
<path fill="#16f4dd" d="M86.50 348.00h5.25v5.25h-5.25zM106.50 348.00h5.25v5.25h-5.25zM136.50 348.00h5.25v5.25h-5.25zM211.50 353.00h5.25v5.25h-5.25zM61.50 358.00h5.25v5.25h-5.25zM216.50 358.00h5.25v5.25h-5.25zM221.50 373.00h5.25v5.25h-5.25zM221.50 378.00h10.25v5.25h-10.25zM56.50 383.00h5.25v5.25h-5.25zM51.50 388.00h10.25v5.25h-10.25zM31.50 393.00h10.25v5.25h-10.25zM36.50 398.00h5.25v5.25h-5.25zM41.50 403.00h10.25v5.25h-10.25zM221.50 403.00h10.25v5.25h-10.25zM46.50 408.00h5.25v5.25h-5.25zM71.50 408.00h5.25v5.25h-5.25zM91.50 408.00h5.25v5.25h-5.25zM106.50 408.00h5.25v5.25h-5.25zM221.50 408.00h5.25v5.25h-5.25zM216.50 413.00h5.25v5.25h-5.25zM156.50 418.00h5.25v5.25h-5.25zM211.50 418.00h5.25v5.25h-5.25zM161.50 423.00h5.25v5.25h-5.25zM196.50 423.00h5.25v5.25h-5.25zM191.50 428.00h5.25v5.25h-5.25z"/>
<path fill="#00edf4" d="M91.50 348.00h5.25v5.25h-5.25zM141.50 348.00h5.25v5.25h-5.25zM76.50 353.00h5.25v5.25h-5.25zM201.50 353.00h10.25v5.25h-10.25zM66.50 358.00h5.25v5.25h-5.25zM61.50 363.00h5.25v5.25h-5.25zM216.50 363.00h5.25v5.25h-5.25zM61.50 368.00h5.25v5.25h-5.25zM216.50 368.00h5.25v5.25h-5.25zM61.50 373.00h5.25v5.25h-5.25zM61.50 378.00h5.25v5.25h-5.25zM71.50 393.00h5.25v5.25h-5.25zM71.50 398.00h5.25v5.25h-5.25zM126.50 398.00h5.25v5.25h-5.25zM76.50 403.00h5.25v5.25h-5.25zM121.50 403.00h5.25v5.25h-5.25zM216.50 403.00h5.25v5.25h-5.25zM96.50 408.00h10.25v5.25h-10.25zM151.50 408.00h5.25v5.25h-5.25zM216.50 408.00h5.25v5.25h-5.25zM156.50 413.00h5.25v5.25h-5.25zM201.50 418.00h10.25v5.25h-10.25zM166.50 423.00h5.25v5.25h-5.25zM181.50 428.00h10.25v5.25h-10.25z"/>
<path fill="#00ddf4" d="M96.50 348.00h10.25v5.25h-10.25zM146.50 348.00h5.25v5.25h-5.25zM186.50 348.00h5.25v5.25h-5.25zM111.50 353.00h10.25v5.25h-10.25zM211.50 358.00h5.25v5.25h-5.25zM216.50 373.00h5.25v5.25h-5.25zM216.50 378.00h5.25v5.25h-5.25zM66.50 383.00h5.25v5.25h-5.25zM216.50 383.00h5.25v5.25h-5.25zM216.50 388.00h5.25v5.25h-5.25zM216.50 393.00h5.25v5.25h-5.25zM216.50 398.00h5.25v5.25h-5.25zM81.50 403.00h5.25v5.25h-5.25zM146.50 403.00h5.25v5.25h-5.25zM211.50 413.00h5.25v5.25h-5.25zM161.50 418.00h5.25v5.25h-5.25zM171.50 423.00h5.25v5.25h-5.25zM191.50 423.00h5.25v5.25h-5.25z"/>
<path fill="#00bff4" d="M151.50 348.00h35.25v5.25h-35.25zM106.50 353.00h5.25v5.25h-5.25zM136.50 353.00h5.25v5.25h-5.25zM206.50 358.00h5.25v5.25h-5.25zM211.50 363.00h5.25v5.25h-5.25zM131.50 393.00h10.25v5.25h-10.25zM76.50 398.00h5.25v5.25h-5.25zM86.50 403.00h5.25v5.25h-5.25zM111.50 403.00h10.25v5.25h-10.25zM211.50 408.00h5.25v5.25h-5.25zM161.50 413.00h5.25v5.25h-5.25zM206.50 413.00h5.25v5.25h-5.25zM166.50 418.00h5.25v5.25h-5.25z"/>
<path fill="#07f4ed" d="M191.50 348.00h5.25v5.25h-5.25zM61.50 383.00h5.25v5.25h-5.25zM221.50 383.00h10.25v5.25h-10.25zM61.50 388.00h10.25v5.25h-10.25zM221.50 388.00h10.25v5.25h-10.25zM41.50 393.00h30.25v5.25h-30.25zM221.50 393.00h10.25v5.25h-10.25zM41.50 398.00h30.25v5.25h-30.25zM221.50 398.00h10.25v5.25h-10.25zM51.50 403.00h25.25v5.25h-25.25zM51.50 408.00h20.25v5.25h-20.25zM176.50 428.00h5.25v5.25h-5.25z"/>
<path fill="#00cef4" d="M81.50 353.00h5.25v5.25h-5.25zM121.50 353.00h15.25v5.25h-15.25zM196.50 353.00h5.25v5.25h-5.25zM71.50 358.00h5.25v5.25h-5.25zM66.50 363.00h5.25v5.25h-5.25zM66.50 368.00h5.25v5.25h-5.25zM66.50 373.00h5.25v5.25h-5.25zM66.50 378.00h5.25v5.25h-5.25zM71.50 388.00h5.25v5.25h-5.25zM196.50 418.00h5.25v5.25h-5.25zM176.50 423.00h15.25v5.25h-15.25z"/>
<path fill="#00aff4" d="M86.50 353.00h5.25v5.25h-5.25zM191.50 353.00h5.25v5.25h-5.25zM201.50 358.00h5.25v5.25h-5.25zM211.50 368.00h5.25v5.25h-5.25zM71.50 383.00h5.25v5.25h-5.25zM76.50 393.00h5.25v5.25h-5.25zM141.50 393.00h5.25v5.25h-5.25zM211.50 403.00h5.25v5.25h-5.25zM156.50 408.00h5.25v5.25h-5.25zM201.50 413.00h5.25v5.25h-5.25zM171.50 418.00h15.25v5.25h-15.25zM191.50 418.00h5.25v5.25h-5.25z"/>
<path fill="#0091f4" d="M91.50 353.00h5.25v5.25h-5.25zM186.50 353.00h5.25v5.25h-5.25zM76.50 358.00h5.25v5.25h-5.25zM136.50 358.00h5.25v5.25h-5.25zM196.50 358.00h5.25v5.25h-5.25zM76.50 388.00h5.25v5.25h-5.25zM146.50 398.00h5.25v5.25h-5.25zM171.50 413.00h10.25v5.25h-10.25zM196.50 413.00h5.25v5.25h-5.25z"/>
<path fill="#0072f4" d="M96.50 353.00h5.25v5.25h-5.25zM151.50 353.00h25.25v5.25h-25.25zM181.50 353.00h5.25v5.25h-5.25zM81.50 358.00h10.25v5.25h-10.25zM121.50 358.00h10.25v5.25h-10.25zM191.50 358.00h5.25v5.25h-5.25zM111.50 363.00h5.25v5.25h-5.25zM136.50 363.00h10.25v5.25h-10.25zM106.50 368.00h5.25v5.25h-5.25zM116.50 368.00h20.25v5.25h-20.25zM141.50 368.00h5.25v5.25h-5.25zM111.50 373.00h5.25v5.25h-5.25zM141.50 373.00h5.25v5.25h-5.25zM206.50 373.00h5.25v5.25h-5.25zM116.50 378.00h5.25v5.25h-5.25zM141.50 378.00h5.25v5.25h-5.25zM206.50 378.00h5.25v5.25h-5.25zM76.50 383.00h5.25v5.25h-5.25zM121.50 383.00h5.25v5.25h-5.25zM141.50 383.00h5.25v5.25h-5.25zM206.50 383.00h5.25v5.25h-5.25zM126.50 388.00h5.25v5.25h-5.25zM141.50 388.00h5.25v5.25h-5.25zM206.50 388.00h5.25v5.25h-5.25zM121.50 393.00h5.25v5.25h-5.25zM206.50 393.00h5.25v5.25h-5.25zM111.50 398.00h10.25v5.25h-10.25zM206.50 398.00h5.25v5.25h-5.25zM151.50 403.00h5.25v5.25h-5.25zM166.50 408.00h5.25v5.25h-5.25zM186.50 413.00h10.25v5.25h-10.25z"/>
<path fill="#0082f4" d="M101.50 353.00h5.25v5.25h-5.25zM146.50 353.00h5.25v5.25h-5.25zM106.50 358.00h5.25v5.25h-5.25zM116.50 358.00h5.25v5.25h-5.25zM131.50 358.00h5.25v5.25h-5.25zM141.50 358.00h5.25v5.25h-5.25zM201.50 363.00h5.25v5.25h-5.25zM111.50 368.00h5.25v5.25h-5.25zM136.50 368.00h5.25v5.25h-5.25zM206.50 368.00h5.25v5.25h-5.25zM116.50 373.00h25.25v5.25h-25.25zM121.50 378.00h20.25v5.25h-20.25zM126.50 383.00h15.25v5.25h-15.25zM131.50 388.00h10.25v5.25h-10.25zM81.50 393.00h5.25v5.25h-5.25zM86.50 398.00h5.25v5.25h-5.25zM96.50 403.00h10.25v5.25h-10.25zM206.50 403.00h5.25v5.25h-5.25zM161.50 408.00h5.25v5.25h-5.25zM201.50 408.00h5.25v5.25h-5.25zM181.50 413.00h5.25v5.25h-5.25z"/>
<path fill="#00a0f4" d="M141.50 353.00h5.25v5.25h-5.25zM111.50 358.00h5.25v5.25h-5.25zM71.50 363.00h5.25v5.25h-5.25zM206.50 363.00h5.25v5.25h-5.25zM71.50 368.00h5.25v5.25h-5.25zM71.50 373.00h5.25v5.25h-5.25zM211.50 373.00h5.25v5.25h-5.25zM71.50 378.00h5.25v5.25h-5.25zM211.50 378.00h5.25v5.25h-5.25zM211.50 383.00h5.25v5.25h-5.25zM211.50 388.00h5.25v5.25h-5.25zM126.50 393.00h5.25v5.25h-5.25zM211.50 393.00h5.25v5.25h-5.25zM81.50 398.00h5.25v5.25h-5.25zM121.50 398.00h5.25v5.25h-5.25zM211.50 398.00h5.25v5.25h-5.25zM91.50 403.00h5.25v5.25h-5.25zM106.50 403.00h5.25v5.25h-5.25zM206.50 408.00h5.25v5.25h-5.25zM166.50 413.00h5.25v5.25h-5.25zM186.50 418.00h5.25v5.25h-5.25z"/>
<path fill="#0063f4" d="M176.50 353.00h5.25v5.25h-5.25zM146.50 358.00h5.25v5.25h-5.25zM76.50 363.00h5.25v5.25h-5.25zM106.50 363.00h5.25v5.25h-5.25zM116.50 363.00h5.25v5.25h-5.25zM131.50 363.00h5.25v5.25h-5.25zM196.50 363.00h5.25v5.25h-5.25zM76.50 368.00h5.25v5.25h-5.25zM201.50 368.00h5.25v5.25h-5.25zM76.50 373.00h5.25v5.25h-5.25zM106.50 373.00h5.25v5.25h-5.25zM76.50 378.00h5.25v5.25h-5.25zM111.50 378.00h5.25v5.25h-5.25zM116.50 383.00h5.25v5.25h-5.25zM81.50 388.00h5.25v5.25h-5.25zM121.50 388.00h5.25v5.25h-5.25zM86.50 393.00h5.25v5.25h-5.25zM146.50 393.00h5.25v5.25h-5.25zM91.50 398.00h5.25v5.25h-5.25zM106.50 398.00h5.25v5.25h-5.25zM201.50 403.00h5.25v5.25h-5.25zM171.50 408.00h15.25v5.25h-15.25zM196.50 408.00h5.25v5.25h-5.25z"/>
<path fill="#0054f4" d="M91.50 358.00h5.25v5.25h-5.25zM151.50 358.00h25.25v5.25h-25.25zM186.50 358.00h5.25v5.25h-5.25zM121.50 363.00h10.25v5.25h-10.25zM146.50 363.00h5.25v5.25h-5.25zM101.50 368.00h5.25v5.25h-5.25zM146.50 368.00h5.25v5.25h-5.25zM101.50 373.00h5.25v5.25h-5.25zM146.50 373.00h5.25v5.25h-5.25zM201.50 373.00h5.25v5.25h-5.25zM101.50 378.00h10.25v5.25h-10.25zM146.50 378.00h5.25v5.25h-5.25zM201.50 378.00h5.25v5.25h-5.25zM81.50 383.00h10.25v5.25h-10.25zM111.50 383.00h5.25v5.25h-5.25zM146.50 383.00h5.25v5.25h-5.25zM201.50 383.00h5.25v5.25h-5.25zM86.50 388.00h5.25v5.25h-5.25zM111.50 388.00h10.25v5.25h-10.25zM146.50 388.00h5.25v5.25h-5.25zM201.50 388.00h5.25v5.25h-5.25zM111.50 393.00h10.25v5.25h-10.25zM201.50 393.00h5.25v5.25h-5.25zM201.50 398.00h5.25v5.25h-5.25zM156.50 403.00h5.25v5.25h-5.25zM191.50 403.00h10.25v5.25h-10.25zM186.50 408.00h10.25v5.25h-10.25z"/>
<path fill="#0035f4" d="M96.50 358.00h5.25v5.25h-5.25zM176.50 358.00h10.25v5.25h-10.25zM101.50 363.00h5.25v5.25h-5.25zM161.50 363.00h15.25v5.25h-15.25zM186.50 363.00h5.25v5.25h-5.25zM151.50 373.00h5.25v5.25h-5.25zM196.50 373.00h5.25v5.25h-5.25zM151.50 378.00h5.25v5.25h-5.25zM196.50 378.00h5.25v5.25h-5.25zM151.50 383.00h5.25v5.25h-5.25zM196.50 383.00h5.25v5.25h-5.25zM151.50 388.00h5.25v5.25h-5.25zM196.50 388.00h5.25v5.25h-5.25zM151.50 393.00h5.25v5.25h-5.25zM151.50 398.00h5.25v5.25h-5.25zM186.50 398.00h5.25v5.25h-5.25zM161.50 403.00h10.25v5.25h-10.25zM181.50 403.00h5.25v5.25h-5.25z"/>
<path fill="#0044f4" d="M101.50 358.00h5.25v5.25h-5.25zM81.50 363.00h15.25v5.25h-15.25zM151.50 363.00h10.25v5.25h-10.25zM191.50 363.00h5.25v5.25h-5.25zM81.50 368.00h20.25v5.25h-20.25zM151.50 368.00h5.25v5.25h-5.25zM196.50 368.00h5.25v5.25h-5.25zM81.50 373.00h20.25v5.25h-20.25zM81.50 378.00h20.25v5.25h-20.25zM91.50 383.00h20.25v5.25h-20.25zM91.50 388.00h5.25v5.25h-5.25zM106.50 388.00h5.25v5.25h-5.25zM91.50 393.00h5.25v5.25h-5.25zM106.50 393.00h5.25v5.25h-5.25zM196.50 393.00h5.25v5.25h-5.25zM96.50 398.00h10.25v5.25h-10.25zM191.50 398.00h10.25v5.25h-10.25zM186.50 403.00h5.25v5.25h-5.25z"/>
<path fill="#0026f4" d="M96.50 363.00h5.25v5.25h-5.25zM156.50 368.00h5.25v5.25h-5.25zM191.50 368.00h5.25v5.25h-5.25zM96.50 388.00h10.25v5.25h-10.25zM96.50 393.00h10.25v5.25h-10.25zM191.50 393.00h5.25v5.25h-5.25zM171.50 403.00h10.25v5.25h-10.25z"/>
<path fill="#0016f4" d="M176.50 363.00h10.25v5.25h-10.25zM161.50 368.00h30.25v5.25h-30.25zM156.50 373.00h5.25v5.25h-5.25zM191.50 373.00h5.25v5.25h-5.25zM156.50 378.00h5.25v5.25h-5.25zM191.50 378.00h5.25v5.25h-5.25zM156.50 383.00h5.25v5.25h-5.25zM191.50 383.00h5.25v5.25h-5.25zM156.50 388.00h5.25v5.25h-5.25zM191.50 388.00h5.25v5.25h-5.25zM156.50 393.00h5.25v5.25h-5.25zM181.50 393.00h10.25v5.25h-10.25zM156.50 398.00h5.25v5.25h-5.25zM181.50 398.00h5.25v5.25h-5.25z"/>
<path fill="#0007f4" d="M161.50 373.00h30.25v5.25h-30.25zM161.50 378.00h30.25v5.25h-30.25zM161.50 383.00h30.25v5.25h-30.25zM161.50 388.00h30.25v5.25h-30.25zM161.50 393.00h20.25v5.25h-20.25zM161.50 398.00h20.25v5.25h-20.25z"/>
<path fill="#cef426" d="M136.50 403.00h5.25v5.25h-5.25zM36.50 418.00h10.25v5.25h-10.25zM66.50 423.00h5.25v5.25h-5.25zM81.50 428.00h5.25v5.25h-5.25zM131.50 428.00h10.25v5.25h-10.25zM86.50 433.00h5.25v5.25h-5.25zM91.50 438.00h5.25v5.25h-5.25z"/>
<path fill="#edf407" d="M126.50 408.00h5.25v5.25h-5.25zM61.50 423.00h5.25v5.25h-5.25zM61.50 428.00h10.25v5.25h-10.25zM81.50 433.00h5.25v5.25h-5.25zM81.50 438.00h10.25v5.25h-10.25z"/>
<path fill="#f4bf00" d="M131.50 408.00h5.25v5.25h-5.25zM126.50 413.00h5.25v5.25h-5.25z"/>
<path fill="#f4af00" d="M136.50 408.00h5.25v5.25h-5.25z"/>
<path fill="#f4ed00" d="M141.50 408.00h5.25v5.25h-5.25zM23.50 423.00h38.25v5.25h-38.25zM126.50 423.00h5.25v5.25h-5.25zM23.50 428.00h38.25v5.25h-38.25zM23.50 433.00h58.25v5.25h-58.25zM23.50 438.00h58.25v5.25h-58.25zM23.50 443.00h68.25v8.25h-68.25z"/>
<path fill="#bff435" d="M23.50 413.00h8.25v5.25h-8.25zM46.50 418.00h15.25v5.25h-15.25zM121.50 418.00h5.25v5.25h-5.25zM71.50 423.00h15.25v5.25h-15.25zM121.50 423.00h5.25v5.25h-5.25zM86.50 428.00h5.25v5.25h-5.25zM126.50 428.00h5.25v5.25h-5.25zM91.50 433.00h5.25v5.25h-5.25zM96.50 438.00h5.25v5.25h-5.25zM96.50 443.00h5.25v8.25h-5.25z"/>
<path fill="#f48200" d="M131.50 413.00h10.25v5.25h-10.25z"/>
<path fill="#f4ce00" d="M141.50 413.00h5.25v5.25h-5.25zM126.50 418.00h5.25v5.25h-5.25z"/>
<path fill="#ddf416" d="M23.50 418.00h13.25v5.25h-13.25zM141.50 423.00h5.25v5.25h-5.25zM71.50 428.00h10.25v5.25h-10.25zM91.50 443.00h5.25v8.25h-5.25z"/>
<path fill="#f4a000" d="M131.50 418.00h10.25v5.25h-10.25z"/>
<path fill="#f4dd00" d="M141.50 418.00h5.25v5.25h-5.25zM131.50 423.00h10.25v5.25h-10.25z"/>
</g>
<path d="M147.3,446.6 L153.5,445.6 L159.4,443.7 L164.5,441.3 L168.9,438.7 L172.8,435.8 L176.3,432.7 L179.5,429.4 L182.3,426.0 L184.9,422.4 L187.2,418.8 L189.2,415.0 L191.0,411.1 L192.5,407.2 L193.8,403.2 L194.8,399.2 L195.6,395.1 L196.2,391.0 L196.5,386.9 L196.6,382.8 L196.5,378.8 L196.1,374.7 L195.5,370.7 L194.7,366.7 L193.6,362.8 L192.3,359.0 L190.8,355.3 L189.0,351.7 L186.9,348.2 L184.6,344.9 L182.0,341.7 L179.1,338.7 L175.9,335.9 L172.5,333.4 L169.0,331.3 L166.5,329.7 L170.2,329.3" stroke="#c4c4c4" stroke-opacity="0.75" stroke-width="0.6" fill="none"/>
<path d="M147.0,446.6 L151.2,445.1 L154.7,442.9 L157.7,440.3 L160.4,437.5 L162.7,434.5 L164.7,431.3 L166.6,428.0 L168.3,424.5 L169.8,420.9 L171.1,417.1 L172.3,413.3 L173.4,409.4 L174.2,405.5 L175.0,401.4 L175.6,397.4 L176.0,393.3 L176.4,389.2 L176.5,385.1 L176.6,381.0 L176.5,376.9 L176.2,372.9 L175.8,368.9 L175.3,364.9 L174.6,361.1 L173.8,357.3 L172.9,353.6 L171.7,350.0 L170.5,346.6 L169.0,343.3 L167.4,340.2 L165.6,337.3 L163.7,334.6 L161.6,332.2 L159.6,330.2 L159.5,328.9 L169.6,329.2" stroke="#c4c4c4" stroke-opacity="0.75" stroke-width="0.6" fill="none"/>
<path d="M146.7,446.5 L148.1,444.8 L149.3,442.4 L150.3,439.8 L151.2,436.9 L152.0,433.8 L152.6,430.6 L153.3,427.2 L153.8,423.6 L154.3,420.0 L154.8,416.2 L155.1,412.4 L155.5,408.4 L155.8,404.5 L156.0,400.4 L156.2,396.3 L156.4,392.2 L156.5,388.1 L156.5,384.0 L156.5,379.9 L156.5,375.9 L156.4,371.8 L156.3,367.8 L156.1,363.9 L155.8,360.0 L155.6,356.3 L155.2,352.6 L154.9,349.1 L154.4,345.6 L153.9,342.4 L153.4,339.3 L152.8,336.4 L152.1,333.7 L151.4,331.4 L150.7,329.4 L152.0,328.2 L169.5,329.1" stroke="#c4c4c4" stroke-opacity="0.75" stroke-width="0.6" fill="none"/>
<path d="M146.3,446.5 L144.9,444.8 L143.7,442.4 L142.7,439.8 L141.8,436.9 L141.0,433.8 L140.4,430.6 L139.7,427.2 L139.2,423.6 L138.7,420.0 L138.2,416.2 L137.9,412.4 L137.5,408.4 L137.2,404.5 L137.0,400.4 L136.8,396.3 L136.6,392.2 L136.5,388.1 L136.5,384.0 L136.5,379.9 L136.5,375.9 L136.6,371.8 L136.7,367.8 L136.9,363.9 L137.2,360.0 L137.4,356.3 L137.8,352.6 L138.1,349.1 L138.6,345.6 L139.1,342.4 L139.6,339.3 L140.2,336.4 L140.9,333.7 L141.6,331.4 L142.3,329.4 L141.0,328.2 L123.5,329.1" stroke="#c4c4c4" stroke-opacity="0.75" stroke-width="0.6" fill="none"/>
<path d="M146.0,446.6 L141.8,445.1 L138.3,442.9 L135.3,440.3 L132.6,437.5 L130.3,434.5 L128.3,431.3 L126.4,428.0 L124.7,424.5 L123.2,420.9 L121.9,417.1 L120.7,413.3 L119.6,409.4 L118.8,405.5 L118.0,401.4 L117.4,397.4 L117.0,393.3 L116.6,389.2 L116.5,385.1 L116.4,381.0 L116.5,376.9 L116.8,372.9 L117.2,368.9 L117.7,364.9 L118.4,361.1 L119.2,357.3 L120.1,353.6 L121.3,350.0 L122.5,346.6 L124.0,343.3 L125.6,340.2 L127.4,337.3 L129.3,334.6 L131.4,332.2 L133.4,330.2 L133.5,328.9 L123.4,329.2" stroke="#c4c4c4" stroke-opacity="0.75" stroke-width="0.6" fill="none"/>
<path d="M145.7,446.6 L139.5,445.6 L133.6,443.7 L128.5,441.3 L124.1,438.7 L120.2,435.8 L116.7,432.7 L113.5,429.4 L110.7,426.0 L108.1,422.4 L105.8,418.8 L103.8,415.0 L102.0,411.1 L100.5,407.2 L99.2,403.2 L98.2,399.2 L97.4,395.1 L96.8,391.0 L96.5,386.9 L96.4,382.8 L96.5,378.8 L96.9,374.7 L97.5,370.7 L98.3,366.7 L99.4,362.8 L100.7,359.0 L102.2,355.3 L104.0,351.7 L106.1,348.2 L108.4,344.9 L111.0,341.7 L113.9,338.7 L117.1,335.9 L120.5,333.4 L124.0,331.3 L126.5,329.7 L122.8,329.3" stroke="#c4c4c4" stroke-opacity="0.75" stroke-width="0.6" fill="none"/>
<path d="M145.7,446.7 L138.2,446.3 L130.0,444.7 L122.7,442.6 L116.4,440.1 L110.7,437.3 L105.7,434.3 L101.2,431.1 L97.1,427.8 L93.4,424.3 L90.1,420.7 L87.2,417.0 L84.7,413.2 L82.5,409.3 L80.6,405.3 L79.1,401.3 L77.9,397.2 L77.1,393.2 L76.5,389.1 L76.3,385.0 L76.5,380.9 L76.9,376.8 L77.7,372.8 L78.8,368.8 L80.3,364.9 L82.0,361.0 L84.2,357.2 L86.6,353.6 L89.5,350.0 L92.7,346.6 L96.3,343.3 L100.3,340.2 L104.7,337.3 L109.5,334.7 L114.8,332.3 L119.9,330.4 L121.9,329.4" stroke="#c4c4c4" stroke-opacity="0.75" stroke-width="0.6" fill="none"/>
<path d="M145.9,446.8 L138.7,447.1 L127.5,445.8 L117.6,443.8 L109.1,441.4 L101.6,438.7 L94.9,435.8 L89.0,432.7 L83.6,429.4 L78.8,426.0 L74.5,422.4 L70.7,418.7 L67.4,414.9 L64.5,411.1 L62.1,407.1 L60.1,403.1 L58.5,399.1 L57.4,395.0 L56.7,390.9 L56.4,386.8 L56.5,382.7 L57.1,378.6 L58.0,374.6 L59.4,370.5 L61.3,366.6 L63.5,362.7 L66.2,358.9 L69.4,355.1 L73.0,351.5 L77.1,348.0 L81.8,344.7 L86.9,341.5 L92.7,338.5 L99.1,335.7 L106.2,333.1 L114.0,330.9 L121.0,329.4" stroke="#c4c4c4" stroke-opacity="0.75" stroke-width="0.6" fill="none"/>
<path d="M146.3,446.9 L141.8,447.8 L124.8,446.6 L111.6,444.6 L100.9,442.3 L91.5,439.6 L83.3,436.7 L76.0,433.6 L69.4,430.4 L63.6,426.9 L58.3,423.4 L53.7,419.7 L49.7,416.0 L46.2,412.1 L43.2,408.2 L40.8,404.2 L39.0,400.1 L37.6,396.1 L36.8,392.0 L36.5,387.9 L36.7,383.8 L37.4,379.7 L38.6,375.6 L40.4,371.5 L42.7,367.6 L45.5,363.6 L48.9,359.8 L52.8,356.0 L57.3,352.4 L62.4,348.8 L68.1,345.4 L74.5,342.2 L81.7,339.1 L89.7,336.2 L98.8,333.6 L109.2,331.2 L120.3,329.5" stroke="#c4c4c4" stroke-opacity="0.75" stroke-width="0.6" fill="none"/>
<path d="M146.7,446.9 L151.2,447.8 L168.2,446.6 L181.4,444.6 L192.1,442.3 L201.5,439.6 L209.7,436.7 L217.0,433.6 L223.6,430.4 L229.4,426.9 L234.7,423.4 L239.3,419.7 L243.3,416.0 L246.8,412.1 L249.8,408.2 L252.2,404.2 L254.0,400.1 L255.4,396.1 L256.2,392.0 L256.5,387.9 L256.3,383.8 L255.6,379.7 L254.4,375.6 L252.6,371.5 L250.3,367.6 L247.5,363.6 L244.1,359.8 L240.2,356.0 L235.7,352.4 L230.6,348.8 L224.9,345.4 L218.5,342.2 L211.3,339.1 L203.3,336.2 L194.2,333.6 L183.8,331.2 L172.7,329.5" stroke="#c4c4c4" stroke-opacity="0.75" stroke-width="0.6" fill="none"/>
<path d="M147.1,446.8 L154.3,447.1 L165.5,445.8 L175.4,443.8 L183.9,441.4 L191.4,438.7 L198.1,435.8 L204.0,432.7 L209.4,429.4 L214.2,426.0 L218.5,422.4 L222.3,418.7 L225.6,414.9 L228.5,411.1 L230.9,407.1 L232.9,403.1 L234.5,399.1 L235.6,395.0 L236.3,390.9 L236.6,386.8 L236.5,382.7 L235.9,378.6 L235.0,374.6 L233.6,370.5 L231.7,366.6 L229.5,362.7 L226.8,358.9 L223.6,355.1 L220.0,351.5 L215.9,348.0 L211.2,344.7 L206.1,341.5 L200.3,338.5 L193.9,335.7 L186.8,333.1 L179.0,330.9 L172.0,329.4" stroke="#c4c4c4" stroke-opacity="0.75" stroke-width="0.6" fill="none"/>
<path d="M147.3,446.7 L154.8,446.3 L163.0,444.7 L170.3,442.6 L176.6,440.1 L182.3,437.3 L187.3,434.3 L191.8,431.1 L195.9,427.8 L199.6,424.3 L202.9,420.7 L205.8,417.0 L208.3,413.2 L210.5,409.3 L212.4,405.3 L213.9,401.3 L215.1,397.2 L215.9,393.2 L216.5,389.1 L216.7,385.0 L216.5,380.9 L216.1,376.8 L215.3,372.8 L214.2,368.8 L212.7,364.9 L211.0,361.0 L208.8,357.2 L206.4,353.6 L203.5,350.0 L200.3,346.6 L196.7,343.3 L192.7,340.2 L188.3,337.3 L183.5,334.7 L178.2,332.3 L173.1,330.4 L171.1,329.4" stroke="#c4c4c4" stroke-opacity="0.75" stroke-width="0.6" fill="none"/>
<path d="M176.3,432.7 L174.4,432.4 L172.5,432.2 L170.6,432.0 L168.7,431.7 L166.7,431.5 L164.7,431.3 L162.8,431.2 L160.8,431.0 L158.7,430.9 L156.7,430.8 L154.7,430.7 L152.6,430.6 L150.6,430.5 L148.6,430.5 L146.5,430.5 L144.4,430.5 L142.4,430.5 L140.4,430.6 L138.3,430.7 L136.3,430.8 L134.3,430.9 L132.2,431.0 L130.2,431.2 L128.3,431.3 L126.3,431.5 L124.3,431.7 L122.4,432.0 L120.5,432.2 L118.6,432.4 L116.7,432.7 L114.8,433.0 L113.0,433.2 L111.1,433.5 L109.3,433.8 L107.5,434.1 L105.7,434.3 L103.9,434.6 L102.1,434.9 L100.3,435.1 L98.5,435.4 L96.7,435.6 L94.9,435.8 L93.1,436.0 L91.2,436.2 L89.3,436.4 L87.4,436.5 L85.4,436.6 L83.3,436.7 L81.2,436.8 L79.0,436.8" stroke="#c4c4c4" stroke-opacity="0.75" stroke-width="0.6" fill="none"/>
<path d="M216.2,436.8 L214.0,436.8 L211.8,436.8 L209.7,436.7 L207.6,436.6 L205.6,436.5 L203.7,436.4 L201.8,436.2 L199.9,436.0 L198.1,435.8 L196.3,435.6 L194.5,435.4 L192.7,435.1 L190.9,434.9 L189.1,434.6 L187.3,434.3 L185.5,434.1 L183.7,433.8 L181.9,433.5 L180.0,433.2 L178.2,433.0 L176.3,432.7" stroke="#c4c4c4" stroke-opacity="0.75" stroke-width="0.6" fill="none"/>
<path d="M191.0,411.1 L188.1,410.8 L185.1,410.5 L182.2,410.2 L179.3,409.9 L176.3,409.7 L173.4,409.4 L170.4,409.2 L167.4,409.0 L164.4,408.8 L161.5,408.7 L158.5,408.5 L155.5,408.4 L152.5,408.4 L149.5,408.3 L146.5,408.3 L143.5,408.3 L140.5,408.4 L137.5,408.4 L134.5,408.5 L131.5,408.7 L128.6,408.8 L125.6,409.0 L122.6,409.2 L119.6,409.4 L116.7,409.7 L113.7,409.9 L110.8,410.2 L107.9,410.5 L104.9,410.8 L102.0,411.1 L99.1,411.5 L96.2,411.8 L93.3,412.1 L90.4,412.5 L87.6,412.8 L84.7,413.2 L81.8,413.5 L78.9,413.8 L76.1,414.1 L73.2,414.4 L70.3,414.7 L67.4,414.9 L64.5,415.2 L61.6,415.4 L58.6,415.6 L55.7,415.7 L52.7,415.8 L49.7,416.0 L46.6,416.0 L43.6,416.1" stroke="#c4c4c4" stroke-opacity="0.75" stroke-width="0.6" fill="none"/>
<path d="M252.5,416.1 L249.4,416.1 L246.4,416.0 L243.3,416.0 L240.3,415.8 L237.3,415.7 L234.4,415.6 L231.4,415.4 L228.5,415.2 L225.6,414.9 L222.7,414.7 L219.8,414.4 L216.9,414.1 L214.1,413.8 L211.2,413.5 L208.3,413.2 L205.4,412.8 L202.6,412.5 L199.7,412.1 L196.8,411.8 L193.9,411.5 L191.0,411.1" stroke="#c4c4c4" stroke-opacity="0.75" stroke-width="0.6" fill="none"/>
<path d="M196.5,386.9 L193.2,386.6 L189.9,386.3 L186.5,385.9 L183.2,385.6 L179.9,385.4 L176.5,385.1 L173.2,384.9 L169.9,384.6 L166.5,384.4 L163.2,384.3 L159.9,384.1 L156.5,384.0 L153.2,384.0 L149.8,383.9 L146.5,383.9 L143.2,383.9 L139.8,384.0 L136.5,384.0 L133.1,384.1 L129.8,384.3 L126.5,384.4 L123.1,384.6 L119.8,384.9 L116.5,385.1 L113.1,385.4 L109.8,385.6 L106.5,385.9 L103.1,386.3 L99.8,386.6 L96.5,386.9 L93.1,387.3 L89.8,387.6 L86.5,388.0 L83.2,388.4 L79.9,388.7 L76.5,389.1 L73.2,389.4 L69.9,389.7 L66.6,390.1 L63.3,390.4 L60.0,390.6 L56.7,390.9 L53.4,391.1 L50.1,391.4 L46.7,391.6 L43.4,391.7 L40.1,391.9 L36.8,392.0 L33.4,392.0 L30.1,392.1" stroke="#c4c4c4" stroke-opacity="0.75" stroke-width="0.6" fill="none"/>
<path d="M266.2,392.1 L262.9,392.1 L259.6,392.0 L256.2,392.0 L252.9,391.9 L249.6,391.7 L246.3,391.6 L242.9,391.4 L239.6,391.1 L236.3,390.9 L233.0,390.6 L229.7,390.4 L226.4,390.1 L223.1,389.7 L219.8,389.4 L216.5,389.1 L213.1,388.7 L209.8,388.4 L206.5,388.0 L203.2,387.6 L199.9,387.3 L196.5,386.9" stroke="#c4c4c4" stroke-opacity="0.75" stroke-width="0.6" fill="none"/>
<path d="M193.6,362.8 L190.5,362.5 L187.3,362.2 L184.1,361.9 L180.9,361.6 L177.8,361.3 L174.6,361.1 L171.5,360.8 L168.4,360.6 L165.2,360.4 L162.1,360.3 L159.0,360.2 L155.8,360.0 L152.7,360.0 L149.6,359.9 L146.5,359.9 L143.4,359.9 L140.3,360.0 L137.2,360.0 L134.0,360.2 L130.9,360.3 L127.8,360.4 L124.6,360.6 L121.5,360.8 L118.4,361.1 L115.2,361.3 L112.1,361.6 L108.9,361.9 L105.7,362.2 L102.5,362.5 L99.4,362.8 L96.2,363.2 L93.0,363.5 L89.8,363.9 L86.6,364.2 L83.4,364.5 L80.3,364.9 L77.1,365.2 L73.9,365.5 L70.7,365.8 L67.6,366.1 L64.4,366.3 L61.3,366.6 L58.1,366.8 L55.0,367.0 L51.9,367.2 L48.8,367.3 L45.7,367.5 L42.7,367.6 L39.6,367.6 L36.6,367.7" stroke="#c4c4c4" stroke-opacity="0.75" stroke-width="0.6" fill="none"/>
<path d="M259.4,367.7 L256.4,367.7 L253.4,367.6 L250.3,367.6 L247.3,367.5 L244.2,367.3 L241.1,367.2 L238.0,367.0 L234.9,366.8 L231.7,366.6 L228.6,366.3 L225.4,366.1 L222.3,365.8 L219.1,365.5 L215.9,365.2 L212.7,364.9 L209.6,364.5 L206.4,364.2 L203.2,363.9 L200.0,363.5 L196.8,363.2 L193.6,362.8" stroke="#c4c4c4" stroke-opacity="0.75" stroke-width="0.6" fill="none"/>
<path d="M182.0,341.7 L179.5,341.4 L177.1,341.1 L174.6,340.9 L172.2,340.6 L169.8,340.4 L167.4,340.2 L165.0,340.0 L162.7,339.8 L160.3,339.6 L158.0,339.5 L155.7,339.4 L153.4,339.3 L151.1,339.2 L148.8,339.2 L146.5,339.2 L144.2,339.2 L141.9,339.2 L139.6,339.3 L137.3,339.4 L135.0,339.5 L132.7,339.6 L130.3,339.8 L128.0,340.0 L125.6,340.2 L123.2,340.4 L120.8,340.6 L118.4,340.9 L115.9,341.1 L113.5,341.4 L111.0,341.7 L108.6,341.9 L106.1,342.2 L103.7,342.5 L101.2,342.8 L98.7,343.0 L96.3,343.3 L93.8,343.6 L91.4,343.8 L88.9,344.0 L86.5,344.3 L84.1,344.5 L81.8,344.7 L79.4,344.8 L77.1,345.0 L74.8,345.1 L72.5,345.2 L70.3,345.3 L68.1,345.4 L65.9,345.5 L63.8,345.5" stroke="#c4c4c4" stroke-opacity="0.75" stroke-width="0.6" fill="none"/>
<path d="M231.2,345.5 L229.2,345.5 L227.1,345.5 L224.9,345.4 L222.7,345.3 L220.5,345.2 L218.2,345.1 L215.9,345.0 L213.6,344.8 L211.2,344.7 L208.9,344.5 L206.5,344.3 L204.1,344.0 L201.6,343.8 L199.2,343.6 L196.7,343.3 L194.3,343.0 L191.8,342.8 L189.3,342.5 L186.9,342.2 L184.4,341.9 L182.0,341.7" stroke="#c4c4c4" stroke-opacity="0.75" stroke-width="0.6" fill="none"/>
</g>
<ellipse cx="146.5" cy="388" rx="120.0" ry="60.0" fill="none" stroke="#506060" stroke-opacity="0.55" stroke-width="0.7"/>
<text x="36.8" y="391.2" text-anchor="middle" fill="#dcdcdc" font-size="6.5">-120</text>
<text x="56.7" y="390.1" text-anchor="middle" fill="#dcdcdc" font-size="6.5">-150</text>
<text x="76.5" y="388.3" text-anchor="middle" fill="#dcdcdc" font-size="6.5">180</text>
<text x="96.5" y="386.1" text-anchor="middle" fill="#dcdcdc" font-size="6.5">150</text>
<text x="116.5" y="384.3" text-anchor="middle" fill="#dcdcdc" font-size="6.5">120</text>
<text x="136.5" y="383.2" text-anchor="middle" fill="#dcdcdc" font-size="6.5">90</text>
<text x="156.5" y="383.2" text-anchor="middle" fill="#dcdcdc" font-size="6.5">60</text>
<text x="176.5" y="384.3" text-anchor="middle" fill="#dcdcdc" font-size="6.5">30</text>
<text x="196.5" y="386.1" text-anchor="middle" fill="#dcdcdc" font-size="6.5">0</text>
<text x="216.5" y="388.3" text-anchor="middle" fill="#dcdcdc" font-size="6.5">-30</text>
<text x="236.3" y="390.1" text-anchor="middle" fill="#dcdcdc" font-size="6.5">-60</text>
<text x="256.2" y="391.2" text-anchor="middle" fill="#dcdcdc" font-size="6.5">-90</text>
<text x="181.0" y="341.9" text-anchor="middle" fill="#dcdcdc" font-size="6.5">60</text>
<text x="192.6" y="363.0" text-anchor="middle" fill="#dcdcdc" font-size="6.5">30</text>
<text x="190.0" y="411.3" text-anchor="middle" fill="#dcdcdc" font-size="6.5">-30</text>
<text x="175.3" y="432.9" text-anchor="middle" fill="#dcdcdc" font-size="6.5">-60</text>
<text x="171.1" y="328.9" text-anchor="middle" fill="#ababab" font-size="7">90</text>
<circle cx="143.5" cy="387.5" r="1.3" fill="#111"/>
<text x="142.1" y="385.0" fill="#111" stroke="#111" stroke-width="0.15" font-size="7.6">Tail</text>
<circle cx="36.0" cy="364.0" r="1.3" fill="#111"/>
<circle cx="264.0" cy="387.8" r="1.3" fill="#111"/>
<text x="262.0" y="385.7" fill="#7a1c1c" stroke="#7a1c1c" stroke-width="0.12" font-size="8">Nose</text>
<text x="252.8" y="361.8" fill="#7a1c1c" stroke="#7a1c1c" stroke-width="0.12" font-size="8">V1</text>
<circle cx="231.0" cy="416.5" r="1.3" fill="#111"/>
<text x="231.8" y="414.4" fill="#111" stroke="#111" stroke-width="0.12" font-size="8">V2</text>
<text x="12" y="338.5" fill="#000" stroke="#000" stroke-width="0.25" font-size="14.5">4.3 keV</text>
<rect x="25.75" y="456" width="240.0" height="4.3" fill="url(#jet)"/>
<text x="25.75" y="472.8" text-anchor="middle" fill="#6e1818" font-size="8">0</text>
<line x1="65.75" y1="456" x2="65.75" y2="460.3" stroke="#333" stroke-opacity="0.5" stroke-width="0.5"/>
<text x="65.75" y="472.8" text-anchor="middle" fill="#6e1818" font-size="8">2</text>
<line x1="105.75" y1="456" x2="105.75" y2="460.3" stroke="#333" stroke-opacity="0.5" stroke-width="0.5"/>
<text x="105.75" y="472.8" text-anchor="middle" fill="#6e1818" font-size="8">4</text>
<line x1="145.75" y1="456" x2="145.75" y2="460.3" stroke="#333" stroke-opacity="0.5" stroke-width="0.5"/>
<text x="145.75" y="472.8" text-anchor="middle" fill="#6e1818" font-size="8">6</text>
<line x1="185.75" y1="456" x2="185.75" y2="460.3" stroke="#333" stroke-opacity="0.5" stroke-width="0.5"/>
<text x="185.75" y="472.8" text-anchor="middle" fill="#6e1818" font-size="8">8</text>
<line x1="225.75" y1="456" x2="225.75" y2="460.3" stroke="#333" stroke-opacity="0.5" stroke-width="0.5"/>
<text x="225.75" y="472.8" text-anchor="middle" fill="#6e1818" font-size="8">10</text>
<text x="265.75" y="472.8" text-anchor="middle" fill="#6e1818" font-size="8">12</text>
<text x="420.5" y="337.1" fill="#000" font-size="14.8">ENA/(cm<tspan font-size="9" dy="-5">2</tspan><tspan dy="5"> s sr keV)</tspan></text>
</svg></body></html>
